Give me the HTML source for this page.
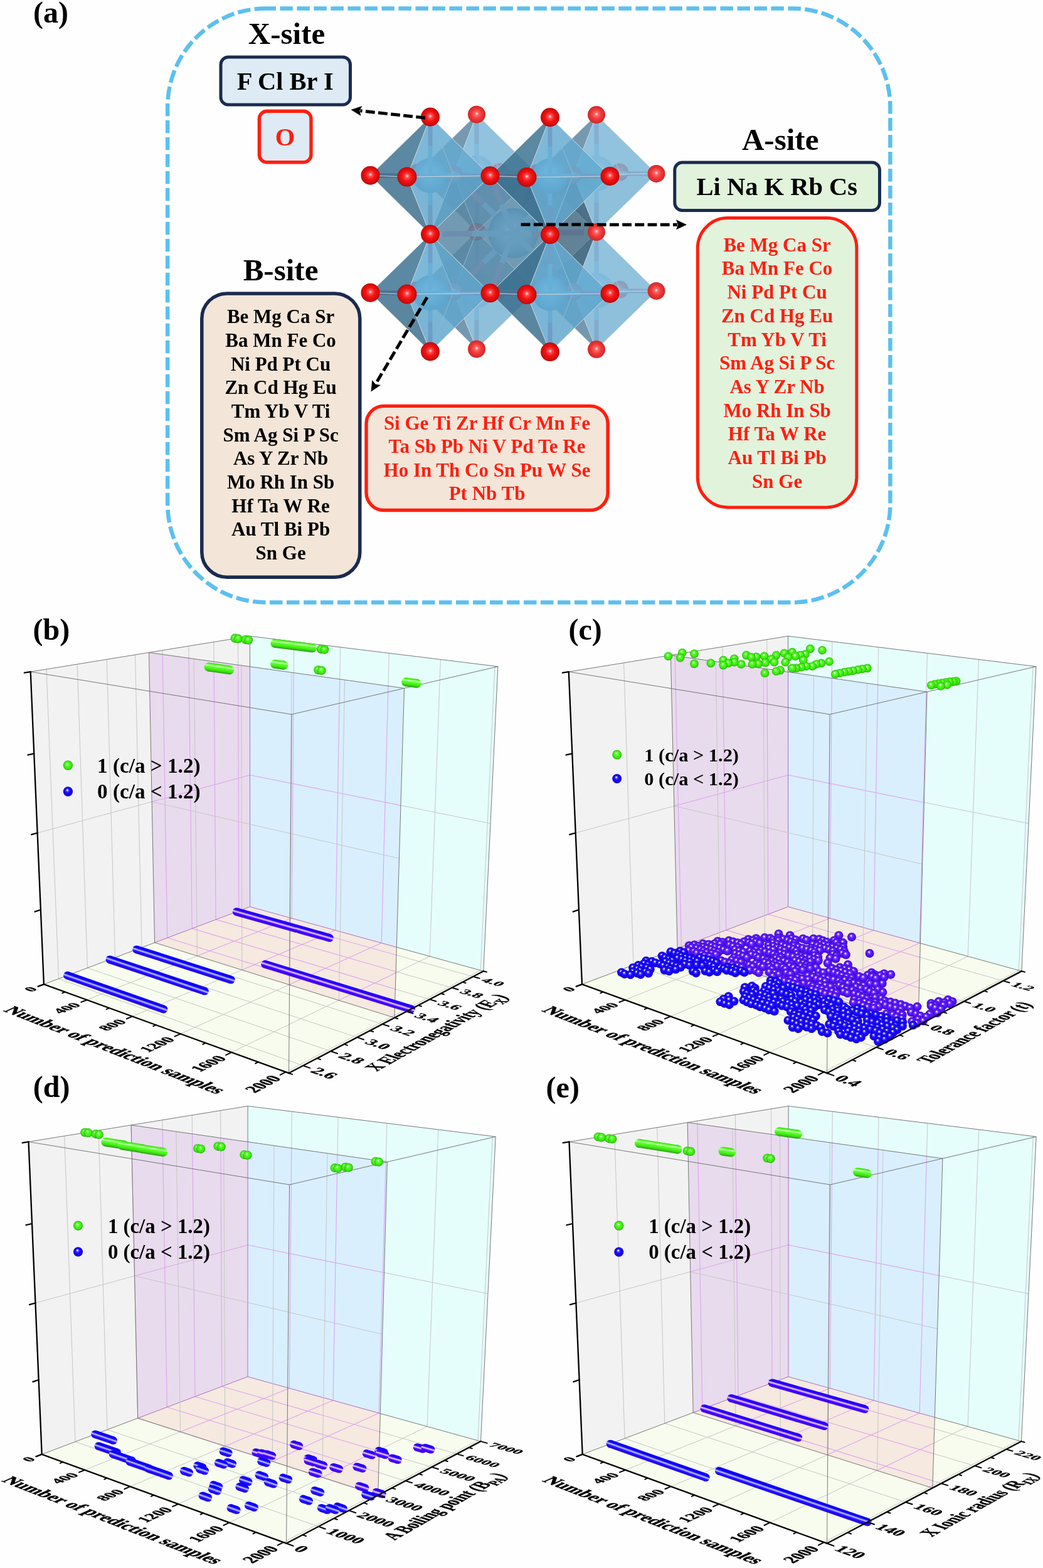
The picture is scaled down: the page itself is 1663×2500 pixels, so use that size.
<!DOCTYPE html>
<html><head><meta charset="utf-8"><title>Figure</title>
<style>html,body{margin:0;padding:0;background:#fefefe;} svg{display:block;}</style></head>
<body><svg width="1663" height="2500" viewBox="0 0 1663 2500">
<defs>
<radialGradient id="gO" cx="0.5" cy="0.5" r="0.55" fx="0.5" fy="0.45">
 <stop offset="0" stop-color="#ffe8e8"/><stop offset="0.18" stop-color="#ff5050"/><stop offset="0.45" stop-color="#f41414"/>
 <stop offset="0.8" stop-color="#d20a0a"/><stop offset="1" stop-color="#9c0606"/></radialGradient>
<radialGradient id="gOb" cx="0.5" cy="0.5" r="0.55" fx="0.5" fy="0.45">
 <stop offset="0" stop-color="#fff0f0"/><stop offset="0.18" stop-color="#ff6a6a"/><stop offset="0.5" stop-color="#f03a3a"/>
 <stop offset="0.85" stop-color="#d82828"/><stop offset="1" stop-color="#b82424"/></radialGradient>
<radialGradient id="gOm" cx="0.5" cy="0.5" r="0.55" fx="0.5" fy="0.45">
 <stop offset="0" stop-color="#f0d8e0"/><stop offset="0.3" stop-color="#b88a9c"/><stop offset="1" stop-color="#9a7080"/></radialGradient>
<radialGradient id="gB" cx="0.5" cy="0.5" r="0.55" fx="0.5" fy="0.45">
 <stop offset="0" stop-color="#88c4e2"/><stop offset="0.6" stop-color="#64a8d0"/><stop offset="1" stop-color="#4d8fb8"/></radialGradient>
<radialGradient id="gBb" cx="0.5" cy="0.5" r="0.55" fx="0.5" fy="0.45">
 <stop offset="0" stop-color="#a8d6ee"/><stop offset="0.6" stop-color="#8cc2e0"/><stop offset="1" stop-color="#78b0d2"/></radialGradient>
<radialGradient id="gA" cx="0.5" cy="0.5" r="0.5" fx="0.45" fy="0.45">
 <stop offset="0" stop-color="#9cc8de"/><stop offset="0.25" stop-color="#74aacb"/><stop offset="0.75" stop-color="#5a94b6"/><stop offset="1" stop-color="#4a82a4"/></radialGradient>

<radialGradient id="gBl" cx="0.5" cy="0.5" r="0.5" fx="0.42" fy="0.32">
 <stop offset="0" stop-color="#ffffff"/><stop offset="0.1" stop-color="#e4e4ff"/><stop offset="0.26" stop-color="#5048ff"/>
 <stop offset="0.5" stop-color="#1608ff"/><stop offset="0.82" stop-color="#1400f0"/><stop offset="1" stop-color="#1e08b4"/></radialGradient>
<radialGradient id="gPu" cx="0.5" cy="0.5" r="0.5" fx="0.42" fy="0.32">
 <stop offset="0" stop-color="#ffffff"/><stop offset="0.1" stop-color="#f0dcff"/><stop offset="0.26" stop-color="#8a50ff"/>
 <stop offset="0.5" stop-color="#5a18ff"/><stop offset="0.82" stop-color="#4a10f0"/><stop offset="1" stop-color="#3a0cb0"/></radialGradient>
<radialGradient id="gGr" cx="0.5" cy="0.5" r="0.5" fx="0.42" fy="0.32">
 <stop offset="0" stop-color="#ffffff"/><stop offset="0.1" stop-color="#e0ffd8"/><stop offset="0.26" stop-color="#70ff48"/>
 <stop offset="0.5" stop-color="#44fa14"/><stop offset="0.82" stop-color="#38e010"/><stop offset="1" stop-color="#28a00a"/></radialGradient>
</defs>
<rect width="1663" height="2500" fill="#fefefe"/>
<text x="53.0" y="35.5" font-size="48" fill="#000" text-anchor="start" style="font-family:'Liberation Serif','Times New Roman',serif;font-weight:bold" >(a)</text>
<rect x="267.2" y="13.4" width="1152.2" height="947.1" rx="157" ry="157" fill="none" stroke="#5bc0f0" stroke-width="6.5" stroke-dasharray="20.5 6.5" stroke-dashoffset="4.8"/>
<text x="457.0" y="69.6" font-size="49" fill="#000" text-anchor="middle" style="font-family:'Liberation Serif','Times New Roman',serif;font-weight:bold" >X-site</text>
<rect x="352.0" y="90.9" width="206.5" height="76.1" rx="12" ry="12" fill="#deebf5" stroke="#1b2b4f" stroke-width="5"/>
<text x="454.7" y="143.1" font-size="40.5" fill="#000" text-anchor="middle" style="font-family:'Liberation Serif','Times New Roman',serif;font-weight:bold" >F Cl Br I</text>
<rect x="413.4" y="177.3" width="82.6" height="81.4" rx="12" ry="12" fill="#deebf5" stroke="#ff1e10" stroke-width="5.4"/>
<text x="454.5" y="231.5" font-size="40.5" fill="#ff1e10" text-anchor="middle" style="font-family:'Liberation Serif','Times New Roman',serif;font-weight:bold" >O</text>
<text x="447.5" y="446.8" font-size="49" fill="#000" text-anchor="middle" style="font-family:'Liberation Serif','Times New Roman',serif;font-weight:bold" >B-site</text>
<rect x="321.8" y="467.9" width="252.0" height="452.3" rx="40" ry="40" fill="#f3e6d8" stroke="#1b2b4f" stroke-width="5.5"/>
<text x="447.6" y="515.4" font-size="31" fill="#000" text-anchor="middle" style="font-family:'Liberation Serif','Times New Roman',serif;font-weight:bold" >Be Mg Ca Sr</text>
<text x="447.6" y="553.1" font-size="31" fill="#000" text-anchor="middle" style="font-family:'Liberation Serif','Times New Roman',serif;font-weight:bold" >Ba Mn Fe Co</text>
<text x="447.6" y="590.7" font-size="31" fill="#000" text-anchor="middle" style="font-family:'Liberation Serif','Times New Roman',serif;font-weight:bold" >Ni Pd Pt Cu</text>
<text x="447.6" y="628.4" font-size="31" fill="#000" text-anchor="middle" style="font-family:'Liberation Serif','Times New Roman',serif;font-weight:bold" >Zn Cd Hg Eu</text>
<text x="447.6" y="666.1" font-size="31" fill="#000" text-anchor="middle" style="font-family:'Liberation Serif','Times New Roman',serif;font-weight:bold" >Tm Yb V Ti</text>
<text x="447.6" y="703.8" font-size="31" fill="#000" text-anchor="middle" style="font-family:'Liberation Serif','Times New Roman',serif;font-weight:bold" >Sm Ag Si P Sc</text>
<text x="447.6" y="741.4" font-size="31" fill="#000" text-anchor="middle" style="font-family:'Liberation Serif','Times New Roman',serif;font-weight:bold" >As Y Zr Nb</text>
<text x="447.6" y="779.1" font-size="31" fill="#000" text-anchor="middle" style="font-family:'Liberation Serif','Times New Roman',serif;font-weight:bold" >Mo Rh In Sb</text>
<text x="447.6" y="816.8" font-size="31" fill="#000" text-anchor="middle" style="font-family:'Liberation Serif','Times New Roman',serif;font-weight:bold" >Hf Ta W Re</text>
<text x="447.6" y="854.4" font-size="31" fill="#000" text-anchor="middle" style="font-family:'Liberation Serif','Times New Roman',serif;font-weight:bold" >Au Tl Bi Pb</text>
<text x="447.6" y="892.1" font-size="31" fill="#000" text-anchor="middle" style="font-family:'Liberation Serif','Times New Roman',serif;font-weight:bold" >Sn Ge</text>
<rect x="584.0" y="647.4" width="385.1" height="166.1" rx="28" ry="28" fill="#f3e6d8" stroke="#ff1e10" stroke-width="5.4"/>
<text x="776.5" y="684.9" font-size="31" fill="#ff1e10" text-anchor="middle" style="font-family:'Liberation Serif','Times New Roman',serif;font-weight:bold" >Si Ge Ti Zr Hf Cr Mn Fe</text>
<text x="776.5" y="722.4" font-size="31" fill="#ff1e10" text-anchor="middle" style="font-family:'Liberation Serif','Times New Roman',serif;font-weight:bold" >Ta Sb Pb Ni V Pd Te Re</text>
<text x="776.5" y="759.9" font-size="31" fill="#ff1e10" text-anchor="middle" style="font-family:'Liberation Serif','Times New Roman',serif;font-weight:bold" >Ho In Th Co Sn Pu W Se</text>
<text x="776.5" y="797.4" font-size="31" fill="#ff1e10" text-anchor="middle" style="font-family:'Liberation Serif','Times New Roman',serif;font-weight:bold" >Pt Nb Tb</text>
<text x="1244.2" y="239.4" font-size="49" fill="#000" text-anchor="middle" style="font-family:'Liberation Serif','Times New Roman',serif;font-weight:bold" >A-site</text>
<rect x="1075.8" y="259.1" width="326.7" height="76.4" rx="12" ry="12" fill="#e2f3dc" stroke="#1b2b4f" stroke-width="5"/>
<text x="1238.8" y="311.2" font-size="40.5" fill="#000" text-anchor="middle" style="font-family:'Liberation Serif','Times New Roman',serif;font-weight:bold" >Li Na K Rb Cs</text>
<rect x="1112.3" y="347.6" width="253.6" height="461.3" rx="48" ry="48" fill="#e2f3dc" stroke="#ff1e10" stroke-width="5"/>
<text x="1239.1" y="400.7" font-size="31" fill="#ff1e10" text-anchor="middle" style="font-family:'Liberation Serif','Times New Roman',serif;font-weight:bold" >Be Mg Ca Sr</text>
<text x="1239.1" y="438.4" font-size="31" fill="#ff1e10" text-anchor="middle" style="font-family:'Liberation Serif','Times New Roman',serif;font-weight:bold" >Ba Mn Fe Co</text>
<text x="1239.1" y="476.1" font-size="31" fill="#ff1e10" text-anchor="middle" style="font-family:'Liberation Serif','Times New Roman',serif;font-weight:bold" >Ni Pd Pt Cu</text>
<text x="1239.1" y="513.8" font-size="31" fill="#ff1e10" text-anchor="middle" style="font-family:'Liberation Serif','Times New Roman',serif;font-weight:bold" >Zn Cd Hg Eu</text>
<text x="1239.1" y="551.5" font-size="31" fill="#ff1e10" text-anchor="middle" style="font-family:'Liberation Serif','Times New Roman',serif;font-weight:bold" >Tm Yb V Ti</text>
<text x="1239.1" y="589.2" font-size="31" fill="#ff1e10" text-anchor="middle" style="font-family:'Liberation Serif','Times New Roman',serif;font-weight:bold" >Sm Ag Si P Sc</text>
<text x="1239.1" y="626.9" font-size="31" fill="#ff1e10" text-anchor="middle" style="font-family:'Liberation Serif','Times New Roman',serif;font-weight:bold" >As Y Zr Nb</text>
<text x="1239.1" y="664.6" font-size="31" fill="#ff1e10" text-anchor="middle" style="font-family:'Liberation Serif','Times New Roman',serif;font-weight:bold" >Mo Rh In Sb</text>
<text x="1239.1" y="702.3" font-size="31" fill="#ff1e10" text-anchor="middle" style="font-family:'Liberation Serif','Times New Roman',serif;font-weight:bold" >Hf Ta W Re</text>
<text x="1239.1" y="740.0" font-size="31" fill="#ff1e10" text-anchor="middle" style="font-family:'Liberation Serif','Times New Roman',serif;font-weight:bold" >Au Tl Bi Pb</text>
<text x="1239.1" y="777.7" font-size="31" fill="#ff1e10" text-anchor="middle" style="font-family:'Liberation Serif','Times New Roman',serif;font-weight:bold" >Sn Ge</text>
<circle cx="797.0" cy="461.0" r="14" fill="url(#gOb)"/>
<circle cx="797.0" cy="274.0" r="14" fill="url(#gOb)"/>
<polygon points="664.5,462.7 760.0,556.5 797.0,461.0" fill="#6a99b5" fill-opacity="0.45" stroke="#d6dadc" stroke-width="0.9" stroke-opacity="0.8" stroke-linejoin="round"/>
<polygon points="664.5,462.7 760.0,369.5 797.0,461.0" fill="#6a99b5" fill-opacity="0.45" stroke="#d6dadc" stroke-width="0.9" stroke-opacity="0.8" stroke-linejoin="round"/>
<polygon points="664.5,275.7 760.0,369.5 797.0,274.0" fill="#6a99b5" fill-opacity="0.45" stroke="#d6dadc" stroke-width="0.9" stroke-opacity="0.8" stroke-linejoin="round"/>
<polygon points="664.5,275.7 760.0,182.5 797.0,274.0" fill="#6a99b5" fill-opacity="0.45" stroke="#d6dadc" stroke-width="0.9" stroke-opacity="0.8" stroke-linejoin="round"/>
<circle cx="988.0" cy="461.6" r="14" fill="url(#gOb)"/>
<line x1="760.0" y1="463.0" x2="778.5" y2="462.0" stroke="#7fb8da" stroke-width="7"/><line x1="778.5" y1="462.0" x2="791.5" y2="461.3" stroke="#958eae" stroke-width="7"/>
<circle cx="988.0" cy="274.6" r="14" fill="url(#gOb)"/>
<line x1="760.0" y1="276.0" x2="778.5" y2="275.0" stroke="#7fb8da" stroke-width="7"/><line x1="778.5" y1="275.0" x2="791.5" y2="274.3" stroke="#958eae" stroke-width="7"/>
<polygon points="855.5,463.3 760.0,556.5 797.0,461.0" fill="#6a99b5" fill-opacity="0.45" stroke="#d6dadc" stroke-width="0.9" stroke-opacity="0.8" stroke-linejoin="round"/>
<polygon points="855.5,463.3 760.0,369.5 797.0,461.0" fill="#6a99b5" fill-opacity="0.45" stroke="#d6dadc" stroke-width="0.9" stroke-opacity="0.8" stroke-linejoin="round"/>
<polygon points="855.5,276.3 760.0,369.5 797.0,274.0" fill="#6a99b5" fill-opacity="0.45" stroke="#d6dadc" stroke-width="0.9" stroke-opacity="0.8" stroke-linejoin="round"/>
<line x1="760.0" y1="463.0" x2="712.2" y2="462.9" stroke="#7fb8da" stroke-width="7"/><line x1="712.2" y1="462.9" x2="678.8" y2="462.7" stroke="#958eae" stroke-width="7"/>
<polygon points="855.5,276.3 760.0,182.5 797.0,274.0" fill="#6a99b5" fill-opacity="0.45" stroke="#d6dadc" stroke-width="0.9" stroke-opacity="0.8" stroke-linejoin="round"/>
<line x1="760.0" y1="276.0" x2="712.2" y2="275.9" stroke="#7fb8da" stroke-width="7"/><line x1="712.2" y1="275.9" x2="678.8" y2="275.7" stroke="#958eae" stroke-width="7"/>
<line x1="760.0" y1="463.0" x2="760.0" y2="509.8" stroke="#7fb8da" stroke-width="7"/><line x1="760.0" y1="509.8" x2="760.0" y2="542.5" stroke="#958eae" stroke-width="7"/>
<circle cx="760.0" cy="463.0" r="28" fill="url(#gBb)"/>
<line x1="760.0" y1="463.0" x2="760.0" y2="416.2" stroke="#7fb8da" stroke-width="7"/><line x1="760.0" y1="416.2" x2="760.0" y2="383.5" stroke="#958eae" stroke-width="7"/>
<polygon points="855.5,463.3 951.0,557.1 988.0,461.6" fill="#6a99b5" fill-opacity="0.45" stroke="#d6dadc" stroke-width="0.9" stroke-opacity="0.8" stroke-linejoin="round"/>
<line x1="760.0" y1="276.0" x2="760.0" y2="322.8" stroke="#7fb8da" stroke-width="7"/><line x1="760.0" y1="322.8" x2="760.0" y2="355.5" stroke="#958eae" stroke-width="7"/>
<circle cx="760.0" cy="276.0" r="28" fill="url(#gBb)"/>
<polygon points="855.5,463.3 951.0,370.1 988.0,461.6" fill="#6a99b5" fill-opacity="0.45" stroke="#d6dadc" stroke-width="0.9" stroke-opacity="0.8" stroke-linejoin="round"/>
<line x1="760.0" y1="276.0" x2="760.0" y2="229.2" stroke="#7fb8da" stroke-width="7"/><line x1="760.0" y1="229.2" x2="760.0" y2="196.5" stroke="#958eae" stroke-width="7"/>
<polygon points="855.5,276.3 951.0,370.1 988.0,274.6" fill="#6a99b5" fill-opacity="0.45" stroke="#d6dadc" stroke-width="0.9" stroke-opacity="0.8" stroke-linejoin="round"/>
<line x1="760.0" y1="463.0" x2="807.8" y2="463.1" stroke="#7fb8da" stroke-width="7"/><line x1="807.8" y1="463.1" x2="841.2" y2="463.3" stroke="#958eae" stroke-width="7"/>
<polygon points="855.5,276.3 951.0,183.1 988.0,274.6" fill="#6a99b5" fill-opacity="0.45" stroke="#d6dadc" stroke-width="0.9" stroke-opacity="0.8" stroke-linejoin="round"/>
<line x1="951.0" y1="463.6" x2="969.5" y2="462.6" stroke="#7fb8da" stroke-width="7"/><line x1="969.5" y1="462.6" x2="982.5" y2="461.9" stroke="#958eae" stroke-width="7"/>
<polygon points="664.5,462.7 760.0,556.5 723.0,465.0" fill="#54809b" fill-opacity="0.7" stroke="#d6dadc" stroke-width="0.9" stroke-opacity="0.8" stroke-linejoin="round"/>
<line x1="760.0" y1="276.0" x2="807.8" y2="276.1" stroke="#7fb8da" stroke-width="7"/><line x1="807.8" y1="276.1" x2="841.2" y2="276.3" stroke="#958eae" stroke-width="7"/>
<polygon points="664.5,462.7 760.0,369.5 723.0,465.0" fill="#56829d" fill-opacity="0.7" stroke="#d6dadc" stroke-width="0.9" stroke-opacity="0.8" stroke-linejoin="round"/>
<line x1="951.0" y1="276.6" x2="969.5" y2="275.6" stroke="#7fb8da" stroke-width="7"/><line x1="969.5" y1="275.6" x2="982.5" y2="274.9" stroke="#958eae" stroke-width="7"/>
<polygon points="664.5,275.7 760.0,369.5 723.0,278.0" fill="#54809b" fill-opacity="0.7" stroke="#d6dadc" stroke-width="0.9" stroke-opacity="0.8" stroke-linejoin="round"/>
<polygon points="664.5,275.7 760.0,182.5 723.0,278.0" fill="#56829d" fill-opacity="0.7" stroke="#d6dadc" stroke-width="0.9" stroke-opacity="0.8" stroke-linejoin="round"/>
<polygon points="1046.5,463.9 951.0,557.1 988.0,461.6" fill="#6a99b5" fill-opacity="0.45" stroke="#d6dadc" stroke-width="0.9" stroke-opacity="0.8" stroke-linejoin="round"/>
<line x1="760.0" y1="463.0" x2="741.5" y2="464.0" stroke="#7fb8da" stroke-width="7"/><line x1="741.5" y1="464.0" x2="728.5" y2="464.7" stroke="#958eae" stroke-width="7"/>
<polygon points="1046.5,463.9 951.0,370.1 988.0,461.6" fill="#6a99b5" fill-opacity="0.45" stroke="#d6dadc" stroke-width="0.9" stroke-opacity="0.8" stroke-linejoin="round"/>
<polygon points="1046.5,276.9 951.0,370.1 988.0,274.6" fill="#6a99b5" fill-opacity="0.45" stroke="#d6dadc" stroke-width="0.9" stroke-opacity="0.8" stroke-linejoin="round"/>
<line x1="951.0" y1="463.6" x2="903.2" y2="463.4" stroke="#7fb8da" stroke-width="7"/><line x1="903.2" y1="463.4" x2="869.8" y2="463.3" stroke="#958eae" stroke-width="7"/>
<line x1="760.0" y1="276.0" x2="741.5" y2="277.0" stroke="#7fb8da" stroke-width="7"/><line x1="741.5" y1="277.0" x2="728.5" y2="277.7" stroke="#958eae" stroke-width="7"/>
<polygon points="1046.5,276.9 951.0,183.1 988.0,274.6" fill="#6a99b5" fill-opacity="0.45" stroke="#d6dadc" stroke-width="0.9" stroke-opacity="0.8" stroke-linejoin="round"/>
<polygon points="855.5,463.3 760.0,556.5 723.0,465.0" fill="#7bb8da" fill-opacity="0.7" stroke="#d6dadc" stroke-width="0.9" stroke-opacity="0.8" stroke-linejoin="round"/>
<line x1="951.0" y1="276.6" x2="903.2" y2="276.4" stroke="#7fb8da" stroke-width="7"/><line x1="903.2" y1="276.4" x2="869.8" y2="276.3" stroke="#958eae" stroke-width="7"/>
<polygon points="855.5,463.3 760.0,369.5 723.0,465.0" fill="#7fbcde" fill-opacity="0.7" stroke="#d6dadc" stroke-width="0.9" stroke-opacity="0.8" stroke-linejoin="round"/>
<line x1="951.0" y1="463.6" x2="951.0" y2="510.4" stroke="#7fb8da" stroke-width="7"/><line x1="951.0" y1="510.4" x2="951.0" y2="543.1" stroke="#958eae" stroke-width="7"/>
<circle cx="951.0" cy="463.6" r="28" fill="url(#gBb)"/>
<polygon points="855.5,276.3 760.0,369.5 723.0,278.0" fill="#7bb8da" fill-opacity="0.7" stroke="#d6dadc" stroke-width="0.9" stroke-opacity="0.8" stroke-linejoin="round"/>
<line x1="951.0" y1="463.6" x2="951.0" y2="416.9" stroke="#7fb8da" stroke-width="7"/><line x1="951.0" y1="416.9" x2="951.0" y2="384.1" stroke="#958eae" stroke-width="7"/>
<polygon points="855.5,276.3 760.0,182.5 723.0,278.0" fill="#7fbcde" fill-opacity="0.7" stroke="#d6dadc" stroke-width="0.9" stroke-opacity="0.8" stroke-linejoin="round"/>
<line x1="951.0" y1="276.6" x2="951.0" y2="323.4" stroke="#7fb8da" stroke-width="7"/><line x1="951.0" y1="323.4" x2="951.0" y2="356.1" stroke="#958eae" stroke-width="7"/>
<circle cx="951.0" cy="276.6" r="28" fill="url(#gBb)"/>
<line x1="951.0" y1="276.6" x2="951.0" y2="229.9" stroke="#7fb8da" stroke-width="7"/><line x1="951.0" y1="229.9" x2="951.0" y2="197.1" stroke="#958eae" stroke-width="7"/>
<line x1="951.0" y1="463.6" x2="998.8" y2="463.8" stroke="#7fb8da" stroke-width="7"/><line x1="998.8" y1="463.8" x2="1032.2" y2="463.9" stroke="#958eae" stroke-width="7"/>
<polygon points="855.5,463.3 951.0,557.1 914.0,465.6" fill="#54809b" fill-opacity="0.7" stroke="#d6dadc" stroke-width="0.9" stroke-opacity="0.8" stroke-linejoin="round"/>
<line x1="951.0" y1="276.6" x2="998.8" y2="276.8" stroke="#7fb8da" stroke-width="7"/><line x1="998.8" y1="276.8" x2="1032.2" y2="276.9" stroke="#958eae" stroke-width="7"/>
<polygon points="855.5,463.3 951.0,370.1 914.0,465.6" fill="#56829d" fill-opacity="0.7" stroke="#d6dadc" stroke-width="0.9" stroke-opacity="0.8" stroke-linejoin="round"/>
<polygon points="855.5,276.3 951.0,370.1 914.0,278.6" fill="#54809b" fill-opacity="0.7" stroke="#d6dadc" stroke-width="0.9" stroke-opacity="0.8" stroke-linejoin="round"/>
<polygon points="855.5,276.3 951.0,183.1 914.0,278.6" fill="#56829d" fill-opacity="0.7" stroke="#d6dadc" stroke-width="0.9" stroke-opacity="0.8" stroke-linejoin="round"/>
<line x1="951.0" y1="463.6" x2="932.5" y2="464.6" stroke="#7fb8da" stroke-width="7"/><line x1="932.5" y1="464.6" x2="919.5" y2="465.3" stroke="#958eae" stroke-width="7"/>
<line x1="951.0" y1="276.6" x2="932.5" y2="277.6" stroke="#7fb8da" stroke-width="7"/><line x1="932.5" y1="277.6" x2="919.5" y2="278.3" stroke="#958eae" stroke-width="7"/>
<polygon points="1046.5,463.9 951.0,557.1 914.0,465.6" fill="#7bb8da" fill-opacity="0.7" stroke="#d6dadc" stroke-width="0.9" stroke-opacity="0.8" stroke-linejoin="round"/>
<polygon points="1046.5,463.9 951.0,370.1 914.0,465.6" fill="#7fbcde" fill-opacity="0.7" stroke="#d6dadc" stroke-width="0.9" stroke-opacity="0.8" stroke-linejoin="round"/>
<polygon points="1046.5,276.9 951.0,370.1 914.0,278.6" fill="#7bb8da" fill-opacity="0.7" stroke="#d6dadc" stroke-width="0.9" stroke-opacity="0.8" stroke-linejoin="round"/>
<polygon points="1046.5,276.9 951.0,183.1 914.0,278.6" fill="#7fbcde" fill-opacity="0.7" stroke="#d6dadc" stroke-width="0.9" stroke-opacity="0.8" stroke-linejoin="round"/>
<circle cx="664.5" cy="462.7" r="14" fill="url(#gOb)"/>
<circle cx="664.5" cy="275.7" r="14" fill="url(#gOb)"/>
<circle cx="760.0" cy="556.5" r="14" fill="url(#gOb)"/>
<circle cx="760.0" cy="369.5" r="14" fill="url(#gOb)"/>
<circle cx="760.0" cy="182.5" r="14" fill="url(#gOb)"/>
<circle cx="855.5" cy="463.3" r="14" fill="url(#gOb)"/>
<circle cx="855.5" cy="276.3" r="14" fill="url(#gOb)"/>
<polygon points="951.0,370.1 855.5,276.3 760.0,369.5 855.5,463.3" fill="#39586a" fill-opacity="0.6" stroke="#d6dadc" stroke-width="0.9" stroke-opacity="0.8" stroke-linejoin="round"/>
<polygon points="723.0,465.0 760.0,369.5 855.5,463.3" fill="#39586a" fill-opacity="0.6" stroke="#d6dadc" stroke-width="0.9" stroke-opacity="0.8" stroke-linejoin="round"/>
<polygon points="723.0,278.0 760.0,369.5 855.5,276.3" fill="#39586a" fill-opacity="0.6" stroke="#d6dadc" stroke-width="0.9" stroke-opacity="0.8" stroke-linejoin="round"/>
<line x1="818.5" y1="371.8" x2="789.2" y2="370.6" stroke="#6aa0c0" stroke-width="9"/><line x1="789.2" y1="370.6" x2="768.8" y2="369.8" stroke="#7a7a98" stroke-width="9"/>
<circle cx="951.0" cy="557.1" r="14" fill="url(#gOb)"/>
<line x1="818.5" y1="371.8" x2="837.0" y2="417.6" stroke="#6aa0c0" stroke-width="9"/><line x1="837.0" y1="417.6" x2="850.0" y2="449.6" stroke="#7a7a98" stroke-width="9"/>
<line x1="818.5" y1="371.8" x2="837.0" y2="324.1" stroke="#6aa0c0" stroke-width="9"/><line x1="837.0" y1="324.1" x2="850.0" y2="290.6" stroke="#7a7a98" stroke-width="9"/>
<circle cx="951.0" cy="183.1" r="14" fill="url(#gOb)"/>
<polygon points="914.0,465.6 951.0,370.1 855.5,463.3" fill="#39586a" fill-opacity="0.6" stroke="#d6dadc" stroke-width="0.9" stroke-opacity="0.8" stroke-linejoin="round"/>
<line x1="818.5" y1="371.8" x2="884.8" y2="370.9" stroke="#6aa0c0" stroke-width="9"/><line x1="884.8" y1="370.9" x2="931.1" y2="370.4" stroke="#7a7a98" stroke-width="9"/>
<polygon points="723.0,278.0 760.0,369.5 723.0,465.0 686.0,373.5" fill="#39586a" fill-opacity="0.6" stroke="#d6dadc" stroke-width="0.9" stroke-opacity="0.8" stroke-linejoin="round"/>
<polygon points="914.0,278.6 951.0,370.1 855.5,276.3" fill="#39586a" fill-opacity="0.6" stroke="#d6dadc" stroke-width="0.9" stroke-opacity="0.8" stroke-linejoin="round"/>
<circle cx="1046.5" cy="463.9" r="14" fill="url(#gOb)"/>
<line x1="818.5" y1="371.8" x2="770.8" y2="418.4" stroke="#6aa0c0" stroke-width="9"/><line x1="770.8" y1="418.4" x2="737.3" y2="451.0" stroke="#7a7a98" stroke-width="9"/>
<line x1="818.5" y1="371.8" x2="770.8" y2="324.9" stroke="#6aa0c0" stroke-width="9"/><line x1="770.8" y1="324.9" x2="737.3" y2="292.1" stroke="#7a7a98" stroke-width="9"/>
<circle cx="1046.5" cy="276.9" r="14" fill="url(#gOb)"/>
<polygon points="914.0,465.6 855.5,463.3 723.0,465.0 781.5,467.3" fill="#39586a" fill-opacity="0.6" stroke="#d6dadc" stroke-width="0.9" stroke-opacity="0.8" stroke-linejoin="round"/>
<circle cx="818.5" cy="371.8" r="40" fill="url(#gA)"/>
<polygon points="914.0,278.6 855.5,276.3 723.0,278.0 781.5,280.3" fill="#3c5d71" fill-opacity="0.6" stroke="#d6dadc" stroke-width="0.9" stroke-opacity="0.8" stroke-linejoin="round"/>
<line x1="818.5" y1="371.8" x2="866.2" y2="418.7" stroke="#6aa0c0" stroke-width="9"/><line x1="866.2" y1="418.7" x2="899.7" y2="451.5" stroke="#7a7a98" stroke-width="9"/>
<line x1="818.5" y1="371.8" x2="866.2" y2="325.2" stroke="#6aa0c0" stroke-width="9"/><line x1="866.2" y1="325.2" x2="899.7" y2="292.6" stroke="#7a7a98" stroke-width="9"/>
<line x1="818.5" y1="371.8" x2="752.2" y2="372.6" stroke="#6aa0c0" stroke-width="9"/><line x1="752.2" y1="372.6" x2="705.9" y2="373.2" stroke="#7a7a98" stroke-width="9"/>
<polygon points="723.0,465.0 686.0,373.5 781.5,467.3" fill="#466c83" fill-opacity="0.6" stroke="#d6dadc" stroke-width="0.9" stroke-opacity="0.8" stroke-linejoin="round"/>
<polygon points="914.0,278.6 951.0,370.1 914.0,465.6 877.0,374.1" fill="#4a728a" fill-opacity="0.6" stroke="#d6dadc" stroke-width="0.9" stroke-opacity="0.8" stroke-linejoin="round"/>
<polygon points="723.0,278.0 686.0,373.5 781.5,280.3" fill="#4a738b" fill-opacity="0.6" stroke="#d6dadc" stroke-width="0.9" stroke-opacity="0.8" stroke-linejoin="round"/>
<line x1="818.5" y1="371.8" x2="800.0" y2="419.6" stroke="#6aa0c0" stroke-width="9"/><line x1="800.0" y1="419.6" x2="787.0" y2="453.0" stroke="#7a7a98" stroke-width="9"/>
<line x1="818.5" y1="371.8" x2="800.0" y2="326.1" stroke="#6aa0c0" stroke-width="9"/><line x1="800.0" y1="326.1" x2="787.0" y2="294.0" stroke="#7a7a98" stroke-width="9"/>
<line x1="818.5" y1="371.8" x2="847.8" y2="372.9" stroke="#6aa0c0" stroke-width="9"/><line x1="847.8" y1="372.9" x2="868.2" y2="373.8" stroke="#7a7a98" stroke-width="9"/>
<polygon points="914.0,465.6 877.0,374.1 781.5,467.3" fill="#598aa7" fill-opacity="0.6" stroke="#d6dadc" stroke-width="0.9" stroke-opacity="0.8" stroke-linejoin="round"/>
<polygon points="914.0,278.6 877.0,374.1 781.5,280.3" fill="#5e91af" fill-opacity="0.6" stroke="#d6dadc" stroke-width="0.9" stroke-opacity="0.8" stroke-linejoin="round"/>
<polygon points="877.0,374.1 781.5,280.3 686.0,373.5 781.5,467.3" fill="#649bbc" fill-opacity="0.6" stroke="#d6dadc" stroke-width="0.9" stroke-opacity="0.8" stroke-linejoin="round"/>
<circle cx="951.0" cy="370.1" r="14" fill="url(#gOb)"/>
<circle cx="723.0" cy="465.0" r="14" fill="url(#gOm)"/>
<circle cx="723.0" cy="278.0" r="14" fill="url(#gOm)"/>
<circle cx="914.0" cy="465.6" r="14" fill="url(#gOm)"/>
<circle cx="914.0" cy="278.6" r="14" fill="url(#gOm)"/>
<polygon points="590.5,466.7 686.0,560.5 723.0,465.0" fill="#5087a8" fill-opacity="0.45" stroke="#d6dadc" stroke-width="0.9" stroke-opacity="0.8" stroke-linejoin="round"/>
<polygon points="590.5,466.7 686.0,373.5 723.0,465.0" fill="#5087a8" fill-opacity="0.45" stroke="#d6dadc" stroke-width="0.9" stroke-opacity="0.8" stroke-linejoin="round"/>
<polygon points="590.5,279.7 686.0,373.5 723.0,278.0" fill="#5087a8" fill-opacity="0.45" stroke="#d6dadc" stroke-width="0.9" stroke-opacity="0.8" stroke-linejoin="round"/>
<polygon points="590.5,279.7 686.0,186.5 723.0,278.0" fill="#5087a8" fill-opacity="0.45" stroke="#d6dadc" stroke-width="0.9" stroke-opacity="0.8" stroke-linejoin="round"/>
<line x1="686.0" y1="467.0" x2="704.5" y2="466.0" stroke="#68acd4" stroke-width="7"/><line x1="704.5" y1="466.0" x2="717.5" y2="465.3" stroke="#827aa0" stroke-width="7"/>
<line x1="686.0" y1="280.0" x2="704.5" y2="279.0" stroke="#68acd4" stroke-width="7"/><line x1="704.5" y1="279.0" x2="717.5" y2="278.3" stroke="#827aa0" stroke-width="7"/>
<polygon points="781.5,467.3 686.0,560.5 723.0,465.0" fill="#5087a8" fill-opacity="0.45" stroke="#d6dadc" stroke-width="0.9" stroke-opacity="0.8" stroke-linejoin="round"/>
<polygon points="781.5,467.3 686.0,373.5 723.0,465.0" fill="#5087a8" fill-opacity="0.45" stroke="#d6dadc" stroke-width="0.9" stroke-opacity="0.8" stroke-linejoin="round"/>
<polygon points="781.5,280.3 686.0,373.5 723.0,278.0" fill="#5087a8" fill-opacity="0.45" stroke="#d6dadc" stroke-width="0.9" stroke-opacity="0.8" stroke-linejoin="round"/>
<line x1="686.0" y1="467.0" x2="638.2" y2="466.9" stroke="#68acd4" stroke-width="7"/><line x1="638.2" y1="466.9" x2="604.8" y2="466.7" stroke="#827aa0" stroke-width="7"/>
<polygon points="781.5,280.3 686.0,186.5 723.0,278.0" fill="#5087a8" fill-opacity="0.45" stroke="#d6dadc" stroke-width="0.9" stroke-opacity="0.8" stroke-linejoin="round"/>
<line x1="686.0" y1="280.0" x2="638.2" y2="279.9" stroke="#68acd4" stroke-width="7"/><line x1="638.2" y1="279.9" x2="604.8" y2="279.7" stroke="#827aa0" stroke-width="7"/>
<line x1="686.0" y1="467.0" x2="686.0" y2="513.8" stroke="#68acd4" stroke-width="7"/><line x1="686.0" y1="513.8" x2="686.0" y2="546.5" stroke="#827aa0" stroke-width="7"/>
<circle cx="686.0" cy="467.0" r="28" fill="url(#gB)"/>
<line x1="686.0" y1="467.0" x2="686.0" y2="420.2" stroke="#68acd4" stroke-width="7"/><line x1="686.0" y1="420.2" x2="686.0" y2="387.5" stroke="#827aa0" stroke-width="7"/>
<polygon points="781.5,467.3 877.0,561.1 914.0,465.6" fill="#5087a8" fill-opacity="0.45" stroke="#d6dadc" stroke-width="0.9" stroke-opacity="0.8" stroke-linejoin="round"/>
<line x1="686.0" y1="280.0" x2="686.0" y2="326.8" stroke="#68acd4" stroke-width="7"/><line x1="686.0" y1="326.8" x2="686.0" y2="359.5" stroke="#827aa0" stroke-width="7"/>
<circle cx="686.0" cy="280.0" r="28" fill="url(#gB)"/>
<polygon points="781.5,467.3 877.0,374.1 914.0,465.6" fill="#5087a8" fill-opacity="0.45" stroke="#d6dadc" stroke-width="0.9" stroke-opacity="0.8" stroke-linejoin="round"/>
<line x1="686.0" y1="280.0" x2="686.0" y2="233.2" stroke="#68acd4" stroke-width="7"/><line x1="686.0" y1="233.2" x2="686.0" y2="200.5" stroke="#827aa0" stroke-width="7"/>
<polygon points="781.5,280.3 877.0,374.1 914.0,278.6" fill="#5087a8" fill-opacity="0.45" stroke="#d6dadc" stroke-width="0.9" stroke-opacity="0.8" stroke-linejoin="round"/>
<line x1="686.0" y1="467.0" x2="733.8" y2="467.1" stroke="#68acd4" stroke-width="7"/><line x1="733.8" y1="467.1" x2="767.2" y2="467.3" stroke="#827aa0" stroke-width="7"/>
<polygon points="781.5,280.3 877.0,187.1 914.0,278.6" fill="#5087a8" fill-opacity="0.45" stroke="#d6dadc" stroke-width="0.9" stroke-opacity="0.8" stroke-linejoin="round"/>
<line x1="877.0" y1="467.6" x2="895.5" y2="466.6" stroke="#68acd4" stroke-width="7"/><line x1="895.5" y1="466.6" x2="908.5" y2="465.9" stroke="#827aa0" stroke-width="7"/>
<polygon points="590.5,466.7 686.0,560.5 649.0,469.0" fill="#366989" fill-opacity="0.7" stroke="#d6dadc" stroke-width="0.9" stroke-opacity="0.8" stroke-linejoin="round"/>
<line x1="686.0" y1="280.0" x2="733.8" y2="280.1" stroke="#68acd4" stroke-width="7"/><line x1="733.8" y1="280.1" x2="767.2" y2="280.3" stroke="#827aa0" stroke-width="7"/>
<polygon points="590.5,466.7 686.0,373.5 649.0,469.0" fill="#386c8c" fill-opacity="0.7" stroke="#d6dadc" stroke-width="0.9" stroke-opacity="0.8" stroke-linejoin="round"/>
<line x1="877.0" y1="280.6" x2="895.5" y2="279.6" stroke="#68acd4" stroke-width="7"/><line x1="895.5" y1="279.6" x2="908.5" y2="278.9" stroke="#827aa0" stroke-width="7"/>
<polygon points="590.5,279.7 686.0,373.5 649.0,282.0" fill="#366989" fill-opacity="0.7" stroke="#d6dadc" stroke-width="0.9" stroke-opacity="0.8" stroke-linejoin="round"/>
<polygon points="590.5,279.7 686.0,186.5 649.0,282.0" fill="#386c8c" fill-opacity="0.7" stroke="#d6dadc" stroke-width="0.9" stroke-opacity="0.8" stroke-linejoin="round"/>
<polygon points="972.5,467.9 877.0,561.1 914.0,465.6" fill="#5087a8" fill-opacity="0.45" stroke="#d6dadc" stroke-width="0.9" stroke-opacity="0.8" stroke-linejoin="round"/>
<line x1="686.0" y1="467.0" x2="667.5" y2="468.0" stroke="#68acd4" stroke-width="7"/><line x1="667.5" y1="468.0" x2="654.5" y2="468.7" stroke="#827aa0" stroke-width="7"/>
<polygon points="972.5,467.9 877.0,374.1 914.0,465.6" fill="#5087a8" fill-opacity="0.45" stroke="#d6dadc" stroke-width="0.9" stroke-opacity="0.8" stroke-linejoin="round"/>
<polygon points="972.5,280.9 877.0,374.1 914.0,278.6" fill="#5087a8" fill-opacity="0.45" stroke="#d6dadc" stroke-width="0.9" stroke-opacity="0.8" stroke-linejoin="round"/>
<line x1="877.0" y1="467.6" x2="829.2" y2="467.4" stroke="#68acd4" stroke-width="7"/><line x1="829.2" y1="467.4" x2="795.8" y2="467.3" stroke="#827aa0" stroke-width="7"/>
<line x1="686.0" y1="280.0" x2="667.5" y2="281.0" stroke="#68acd4" stroke-width="7"/><line x1="667.5" y1="281.0" x2="654.5" y2="281.7" stroke="#827aa0" stroke-width="7"/>
<polygon points="972.5,280.9 877.0,187.1 914.0,278.6" fill="#5087a8" fill-opacity="0.45" stroke="#d6dadc" stroke-width="0.9" stroke-opacity="0.8" stroke-linejoin="round"/>
<polygon points="781.5,467.3 686.0,560.5 649.0,469.0" fill="#64acd4" fill-opacity="0.7" stroke="#d6dadc" stroke-width="0.9" stroke-opacity="0.8" stroke-linejoin="round"/>
<line x1="877.0" y1="280.6" x2="829.2" y2="280.4" stroke="#68acd4" stroke-width="7"/><line x1="829.2" y1="280.4" x2="795.8" y2="280.3" stroke="#827aa0" stroke-width="7"/>
<polygon points="781.5,467.3 686.0,373.5 649.0,469.0" fill="#68b0d8" fill-opacity="0.7" stroke="#d6dadc" stroke-width="0.9" stroke-opacity="0.8" stroke-linejoin="round"/>
<line x1="877.0" y1="467.6" x2="877.0" y2="514.4" stroke="#68acd4" stroke-width="7"/><line x1="877.0" y1="514.4" x2="877.0" y2="547.1" stroke="#827aa0" stroke-width="7"/>
<circle cx="877.0" cy="467.6" r="28" fill="url(#gB)"/>
<polygon points="781.5,280.3 686.0,373.5 649.0,282.0" fill="#64acd4" fill-opacity="0.7" stroke="#d6dadc" stroke-width="0.9" stroke-opacity="0.8" stroke-linejoin="round"/>
<line x1="877.0" y1="467.6" x2="877.0" y2="420.9" stroke="#68acd4" stroke-width="7"/><line x1="877.0" y1="420.9" x2="877.0" y2="388.1" stroke="#827aa0" stroke-width="7"/>
<polygon points="781.5,280.3 686.0,186.5 649.0,282.0" fill="#68b0d8" fill-opacity="0.7" stroke="#d6dadc" stroke-width="0.9" stroke-opacity="0.8" stroke-linejoin="round"/>
<line x1="877.0" y1="280.6" x2="877.0" y2="327.4" stroke="#68acd4" stroke-width="7"/><line x1="877.0" y1="327.4" x2="877.0" y2="360.1" stroke="#827aa0" stroke-width="7"/>
<circle cx="877.0" cy="280.6" r="28" fill="url(#gB)"/>
<line x1="877.0" y1="280.6" x2="877.0" y2="233.9" stroke="#68acd4" stroke-width="7"/><line x1="877.0" y1="233.9" x2="877.0" y2="201.1" stroke="#827aa0" stroke-width="7"/>
<line x1="877.0" y1="467.6" x2="924.8" y2="467.8" stroke="#68acd4" stroke-width="7"/><line x1="924.8" y1="467.8" x2="958.2" y2="467.9" stroke="#827aa0" stroke-width="7"/>
<polygon points="781.5,467.3 877.0,561.1 840.0,469.6" fill="#366989" fill-opacity="0.7" stroke="#d6dadc" stroke-width="0.9" stroke-opacity="0.8" stroke-linejoin="round"/>
<line x1="877.0" y1="280.6" x2="924.8" y2="280.8" stroke="#68acd4" stroke-width="7"/><line x1="924.8" y1="280.8" x2="958.2" y2="280.9" stroke="#827aa0" stroke-width="7"/>
<polygon points="781.5,467.3 877.0,374.1 840.0,469.6" fill="#386c8c" fill-opacity="0.7" stroke="#d6dadc" stroke-width="0.9" stroke-opacity="0.8" stroke-linejoin="round"/>
<polygon points="781.5,280.3 877.0,374.1 840.0,282.6" fill="#366989" fill-opacity="0.7" stroke="#d6dadc" stroke-width="0.9" stroke-opacity="0.8" stroke-linejoin="round"/>
<polygon points="781.5,280.3 877.0,187.1 840.0,282.6" fill="#386c8c" fill-opacity="0.7" stroke="#d6dadc" stroke-width="0.9" stroke-opacity="0.8" stroke-linejoin="round"/>
<line x1="877.0" y1="467.6" x2="858.5" y2="468.6" stroke="#68acd4" stroke-width="7"/><line x1="858.5" y1="468.6" x2="845.5" y2="469.3" stroke="#827aa0" stroke-width="7"/>
<line x1="877.0" y1="280.6" x2="858.5" y2="281.6" stroke="#68acd4" stroke-width="7"/><line x1="858.5" y1="281.6" x2="845.5" y2="282.3" stroke="#827aa0" stroke-width="7"/>
<polygon points="972.5,467.9 877.0,561.1 840.0,469.6" fill="#64acd4" fill-opacity="0.7" stroke="#d6dadc" stroke-width="0.9" stroke-opacity="0.8" stroke-linejoin="round"/>
<polygon points="972.5,467.9 877.0,374.1 840.0,469.6" fill="#68b0d8" fill-opacity="0.7" stroke="#d6dadc" stroke-width="0.9" stroke-opacity="0.8" stroke-linejoin="round"/>
<polygon points="972.5,280.9 877.0,374.1 840.0,282.6" fill="#64acd4" fill-opacity="0.7" stroke="#d6dadc" stroke-width="0.9" stroke-opacity="0.8" stroke-linejoin="round"/>
<polygon points="972.5,280.9 877.0,187.1 840.0,282.6" fill="#68b0d8" fill-opacity="0.7" stroke="#d6dadc" stroke-width="0.9" stroke-opacity="0.8" stroke-linejoin="round"/>
<circle cx="590.5" cy="466.7" r="15" fill="url(#gO)"/>
<circle cx="590.5" cy="279.7" r="15" fill="url(#gO)"/>
<circle cx="686.0" cy="560.5" r="15" fill="url(#gO)"/>
<circle cx="686.0" cy="373.5" r="15" fill="url(#gO)"/>
<circle cx="686.0" cy="186.5" r="15" fill="url(#gO)"/>
<circle cx="781.5" cy="467.3" r="15" fill="url(#gO)"/>
<circle cx="781.5" cy="280.3" r="15" fill="url(#gO)"/>
<circle cx="877.0" cy="561.1" r="15" fill="url(#gO)"/>
<circle cx="877.0" cy="374.1" r="15" fill="url(#gO)"/>
<circle cx="877.0" cy="187.1" r="15" fill="url(#gO)"/>
<circle cx="649.0" cy="469.0" r="15.5" fill="url(#gO)"/>
<circle cx="649.0" cy="282.0" r="15.5" fill="url(#gO)"/>
<circle cx="972.5" cy="467.9" r="15" fill="url(#gO)"/>
<circle cx="972.5" cy="280.9" r="15" fill="url(#gO)"/>
<circle cx="840.0" cy="469.6" r="15.5" fill="url(#gO)"/>
<circle cx="840.0" cy="282.6" r="15.5" fill="url(#gO)"/>
<line x1="678.0" y1="188.0" x2="574.4" y2="176.6" stroke="#000" stroke-width="5.0" stroke-dasharray="14.8 5.4"/><polygon points="559.5,175.0 577.3,168.9 573.4,176.5 575.5,184.8" fill="#000"/>
<line x1="830.6" y1="358.0" x2="1080.0" y2="358.3" stroke="#000" stroke-width="5.0" stroke-dasharray="14.8 5.4"/><polygon points="1095.0,358.3 1078.0,366.3 1081.0,358.3 1078.0,350.3" fill="#000"/>
<line x1="681.0" y1="474.0" x2="599.2" y2="611.7" stroke="#000" stroke-width="5.0" stroke-dasharray="14.8 5.4"/><polygon points="591.5,624.6 593.3,605.9 598.7,612.6 607.1,614.1" fill="#000"/>
<clipPath id="clip_b"><polygon points="246.6,1502.9 629.0,1622.7 644.5,1097.3 237.5,1040.4"/></clipPath>
<polygon points="69.9,1569.4 398.6,1445.7 398.4,1014.2 48.7,1071.1" fill="#f2f2f2" />
<polygon points="398.6,1445.7 770.8,1548.4 793.9,1062.7 398.4,1014.2" fill="#e6fefb" />
<polygon points="69.9,1569.4 460.5,1711.0 770.8,1548.4 398.6,1445.7" fill="#f7fcee" />
<line x1="93.5" y1="1560.5" x2="74.0" y2="1067.0" stroke="#c6c6c6" stroke-width="1.0" />
<line x1="93.5" y1="1560.5" x2="483.3" y2="1699.0" stroke="#c6c6c6" stroke-width="1.0" />
<line x1="139.4" y1="1543.2" x2="123.2" y2="1059.0" stroke="#c6c6c6" stroke-width="1.0" />
<line x1="139.4" y1="1543.2" x2="527.3" y2="1676.0" stroke="#c6c6c6" stroke-width="1.0" />
<line x1="183.5" y1="1526.6" x2="170.3" y2="1051.3" stroke="#c6c6c6" stroke-width="1.0" />
<line x1="183.5" y1="1526.6" x2="569.4" y2="1653.9" stroke="#c6c6c6" stroke-width="1.0" />
<line x1="226.0" y1="1510.6" x2="215.5" y2="1044.0" stroke="#c6c6c6" stroke-width="1.0" />
<line x1="226.0" y1="1510.6" x2="609.6" y2="1632.9" stroke="#c6c6c6" stroke-width="1.0" />
<line x1="266.8" y1="1495.2" x2="259.0" y2="1036.9" stroke="#c6c6c6" stroke-width="1.0" />
<line x1="266.8" y1="1495.2" x2="648.1" y2="1612.7" stroke="#c6c6c6" stroke-width="1.0" />
<line x1="306.2" y1="1480.4" x2="300.8" y2="1030.1" stroke="#c6c6c6" stroke-width="1.0" />
<line x1="306.2" y1="1480.4" x2="685.0" y2="1593.4" stroke="#c6c6c6" stroke-width="1.0" />
<line x1="344.1" y1="1466.1" x2="340.9" y2="1023.6" stroke="#c6c6c6" stroke-width="1.0" />
<line x1="344.1" y1="1466.1" x2="720.4" y2="1574.8" stroke="#c6c6c6" stroke-width="1.0" />
<line x1="380.7" y1="1452.4" x2="379.6" y2="1017.3" stroke="#c6c6c6" stroke-width="1.0" />
<line x1="380.7" y1="1452.4" x2="754.3" y2="1557.0" stroke="#c6c6c6" stroke-width="1.0" />
<line x1="59.6" y1="1328.0" x2="398.5" y2="1235.7" stroke="#c6c6c6" stroke-width="1.0" />
<line x1="398.5" y1="1235.7" x2="782.0" y2="1312.9" stroke="#c6c6c6" stroke-width="1.0" />
<line x1="465.1" y1="1464.0" x2="468.7" y2="1022.8" stroke="#c6c6c6" stroke-width="1.0" />
<line x1="138.5" y1="1594.2" x2="465.1" y2="1464.0" stroke="#c6c6c6" stroke-width="1.0" />
<line x1="534.9" y1="1483.3" x2="542.6" y2="1031.9" stroke="#c6c6c6" stroke-width="1.0" />
<line x1="211.0" y1="1620.5" x2="534.9" y2="1483.3" stroke="#c6c6c6" stroke-width="1.0" />
<line x1="608.2" y1="1503.5" x2="620.4" y2="1041.4" stroke="#c6c6c6" stroke-width="1.0" />
<line x1="287.8" y1="1648.3" x2="608.2" y2="1503.5" stroke="#c6c6c6" stroke-width="1.0" />
<line x1="685.2" y1="1524.8" x2="702.4" y2="1051.5" stroke="#c6c6c6" stroke-width="1.0" />
<line x1="369.2" y1="1677.8" x2="685.2" y2="1524.8" stroke="#c6c6c6" stroke-width="1.0" />
<line x1="766.2" y1="1547.2" x2="789.0" y2="1062.1" stroke="#c6c6c6" stroke-width="1.0" />
<line x1="455.6" y1="1709.2" x2="766.2" y2="1547.2" stroke="#c6c6c6" stroke-width="1.0" />
<line x1="48.7" y1="1071.1" x2="398.4" y2="1014.2" stroke="#6a6a6a" stroke-width="0.9" />
<line x1="398.4" y1="1014.2" x2="793.9" y2="1062.7" stroke="#6a6a6a" stroke-width="0.9" />
<line x1="398.6" y1="1445.7" x2="398.4" y2="1014.2" stroke="#6a6a6a" stroke-width="0.9" />
<line x1="69.9" y1="1569.4" x2="398.6" y2="1445.7" stroke="#6a6a6a" stroke-width="0.9" />
<line x1="398.6" y1="1445.7" x2="770.8" y2="1548.4" stroke="#6a6a6a" stroke-width="0.9" />
<line x1="770.8" y1="1548.4" x2="793.9" y2="1062.7" stroke="#6a6a6a" stroke-width="0.9" />
<g clip-path="url(#clip_b)">
<polygon points="69.9,1569.4 398.6,1445.7 398.4,1014.2 48.7,1071.1" fill="#e8dbed" />
<polygon points="398.6,1445.7 770.8,1548.4 793.9,1062.7 398.4,1014.2" fill="#d9effe" />
<polygon points="69.9,1569.4 460.5,1711.0 770.8,1548.4 398.6,1445.7" fill="#f5e9e0" />
<line x1="93.5" y1="1560.5" x2="74.0" y2="1067.0" stroke="#dea4ee" stroke-width="1.1" />
<line x1="93.5" y1="1560.5" x2="483.3" y2="1699.0" stroke="#dea4ee" stroke-width="1.1" />
<line x1="139.4" y1="1543.2" x2="123.2" y2="1059.0" stroke="#dea4ee" stroke-width="1.1" />
<line x1="139.4" y1="1543.2" x2="527.3" y2="1676.0" stroke="#dea4ee" stroke-width="1.1" />
<line x1="183.5" y1="1526.6" x2="170.3" y2="1051.3" stroke="#dea4ee" stroke-width="1.1" />
<line x1="183.5" y1="1526.6" x2="569.4" y2="1653.9" stroke="#dea4ee" stroke-width="1.1" />
<line x1="226.0" y1="1510.6" x2="215.5" y2="1044.0" stroke="#dea4ee" stroke-width="1.1" />
<line x1="226.0" y1="1510.6" x2="609.6" y2="1632.9" stroke="#dea4ee" stroke-width="1.1" />
<line x1="266.8" y1="1495.2" x2="259.0" y2="1036.9" stroke="#dea4ee" stroke-width="1.1" />
<line x1="266.8" y1="1495.2" x2="648.1" y2="1612.7" stroke="#dea4ee" stroke-width="1.1" />
<line x1="306.2" y1="1480.4" x2="300.8" y2="1030.1" stroke="#dea4ee" stroke-width="1.1" />
<line x1="306.2" y1="1480.4" x2="685.0" y2="1593.4" stroke="#dea4ee" stroke-width="1.1" />
<line x1="344.1" y1="1466.1" x2="340.9" y2="1023.6" stroke="#dea4ee" stroke-width="1.1" />
<line x1="344.1" y1="1466.1" x2="720.4" y2="1574.8" stroke="#dea4ee" stroke-width="1.1" />
<line x1="380.7" y1="1452.4" x2="379.6" y2="1017.3" stroke="#dea4ee" stroke-width="1.1" />
<line x1="380.7" y1="1452.4" x2="754.3" y2="1557.0" stroke="#dea4ee" stroke-width="1.1" />
<line x1="59.6" y1="1328.0" x2="398.5" y2="1235.7" stroke="#dea4ee" stroke-width="1.1" />
<line x1="398.5" y1="1235.7" x2="782.0" y2="1312.9" stroke="#dea4ee" stroke-width="1.1" />
<line x1="465.1" y1="1464.0" x2="468.7" y2="1022.8" stroke="#dea4ee" stroke-width="1.1" />
<line x1="138.5" y1="1594.2" x2="465.1" y2="1464.0" stroke="#dea4ee" stroke-width="1.1" />
<line x1="534.9" y1="1483.3" x2="542.6" y2="1031.9" stroke="#dea4ee" stroke-width="1.1" />
<line x1="211.0" y1="1620.5" x2="534.9" y2="1483.3" stroke="#dea4ee" stroke-width="1.1" />
<line x1="608.2" y1="1503.5" x2="620.4" y2="1041.4" stroke="#dea4ee" stroke-width="1.1" />
<line x1="287.8" y1="1648.3" x2="608.2" y2="1503.5" stroke="#dea4ee" stroke-width="1.1" />
<line x1="685.2" y1="1524.8" x2="702.4" y2="1051.5" stroke="#dea4ee" stroke-width="1.1" />
<line x1="369.2" y1="1677.8" x2="685.2" y2="1524.8" stroke="#dea4ee" stroke-width="1.1" />
<line x1="766.2" y1="1547.2" x2="789.0" y2="1062.1" stroke="#dea4ee" stroke-width="1.1" />
<line x1="455.6" y1="1709.2" x2="766.2" y2="1547.2" stroke="#dea4ee" stroke-width="1.1" />
<line x1="48.7" y1="1071.1" x2="398.4" y2="1014.2" stroke="#b070c0" stroke-width="1.0" />
<line x1="398.4" y1="1014.2" x2="793.9" y2="1062.7" stroke="#b070c0" stroke-width="1.0" />
<line x1="398.6" y1="1445.7" x2="398.4" y2="1014.2" stroke="#b070c0" stroke-width="1.0" />
<line x1="69.9" y1="1569.4" x2="398.6" y2="1445.7" stroke="#b070c0" stroke-width="1.0" />
<line x1="398.6" y1="1445.7" x2="770.8" y2="1548.4" stroke="#b070c0" stroke-width="1.0" />
<line x1="770.8" y1="1548.4" x2="793.9" y2="1062.7" stroke="#b070c0" stroke-width="1.0" />
</g>
<line x1="314.4" y1="1524.1" x2="309.2" y2="1050.4" stroke="#c6c6c6" stroke-width="1.0" />
<line x1="385.8" y1="1546.5" x2="384.9" y2="1061.0" stroke="#c6c6c6" stroke-width="1.0" />
<line x1="461.0" y1="1570.0" x2="464.9" y2="1072.2" stroke="#c6c6c6" stroke-width="1.0" />
<line x1="540.4" y1="1594.9" x2="549.6" y2="1084.1" stroke="#c6c6c6" stroke-width="1.0" />
<line x1="242.2" y1="1278.3" x2="636.5" y2="1368.7" stroke="#c6c6c6" stroke-width="1.0" />
<line x1="237.5" y1="1040.4" x2="644.5" y2="1097.3" stroke="#6a6a6a" stroke-width="0.9" />
<line x1="246.6" y1="1502.9" x2="237.5" y2="1040.4" stroke="#6a6a6a" stroke-width="0.9" />
<line x1="629.0" y1="1622.7" x2="644.5" y2="1097.3" stroke="#6a6a6a" stroke-width="0.9" />
<line x1="246.6" y1="1502.9" x2="629.0" y2="1622.7" stroke="#6a6a6a" stroke-width="0.9" />
<line x1="48.7" y1="1071.1" x2="465.0" y2="1139.0" stroke="#6a6a6a" stroke-width="0.9" />
<line x1="465.0" y1="1139.0" x2="793.9" y2="1062.7" stroke="#6a6a6a" stroke-width="0.9" />
<line x1="460.5" y1="1711.0" x2="465.0" y2="1139.0" stroke="#6a6a6a" stroke-width="0.9" />
<linearGradient id="tg4" gradientUnits="userSpaceOnUse" x1="427.0" y1="1461.1" x2="423.5" y2="1473.4"><stop offset="0" stop-color="#2000e0"/><stop offset="0.1" stop-color="#2200ff"/><stop offset="0.32" stop-color="#2a00ff"/><stop offset="0.44" stop-color="#d4a4ff"/><stop offset="0.54" stop-color="#e6b8ff"/><stop offset="0.66" stop-color="#4a10ff"/><stop offset="0.86" stop-color="#3400ff"/><stop offset="1" stop-color="#5a14d8"/></linearGradient><circle cx="377.1" cy="1453.7" r="6.4" fill="url(#tg4)"/><polygon points="378.9,1447.6 475.0,1474.6 471.6,1486.9 375.4,1459.9" fill="url(#tg4)"/><circle cx="473.3" cy="1480.7" r="6.4" fill="url(#tg4)"/>
<linearGradient id="tg5" gradientUnits="userSpaceOnUse" x1="502.9" y1="1482.4" x2="499.4" y2="1494.7"><stop offset="0" stop-color="#2000e0"/><stop offset="0.1" stop-color="#2200ff"/><stop offset="0.32" stop-color="#2a00ff"/><stop offset="0.44" stop-color="#d4a4ff"/><stop offset="0.54" stop-color="#e6b8ff"/><stop offset="0.66" stop-color="#4a10ff"/><stop offset="0.86" stop-color="#3400ff"/><stop offset="1" stop-color="#5a14d8"/></linearGradient><circle cx="476.8" cy="1481.7" r="6.4" fill="url(#tg5)"/><polygon points="478.6,1475.6 527.1,1489.2 523.7,1501.5 475.1,1487.9" fill="url(#tg5)"/><circle cx="525.4" cy="1495.4" r="6.4" fill="url(#tg5)"/>
<circle cx="374.6" cy="1017.7" r="7.1" fill="url(#gGr)"/><circle cx="379.8" cy="1018.4" r="7.1" fill="url(#gGr)"/>
<circle cx="391.6" cy="1019.8" r="7.1" fill="url(#gGr)"/><circle cx="396.1" cy="1020.4" r="7.1" fill="url(#gGr)"/>
<linearGradient id="tg7" gradientUnits="userSpaceOnUse" x1="469.1" y1="1022.4" x2="467.4" y2="1036.4"><stop offset="0" stop-color="#38d414"/><stop offset="0.12" stop-color="#48fc14"/><stop offset="0.24" stop-color="#98ff7c"/><stop offset="0.32" stop-color="#c4ffb8"/><stop offset="0.42" stop-color="#5cff2c"/><stop offset="0.62" stop-color="#44f812"/><stop offset="0.82" stop-color="#3ad016"/><stop offset="1" stop-color="#2a9810"/></linearGradient><circle cx="438.4" cy="1025.7" r="7.1" fill="url(#tg7)"/><polygon points="439.3,1018.7 499.0,1026.2 497.3,1040.2 437.5,1032.7" fill="url(#tg7)"/><circle cx="498.1" cy="1033.2" r="7.1" fill="url(#tg7)"/>
<circle cx="512.1" cy="1034.9" r="7.1" fill="url(#gGr)"/><circle cx="517.3" cy="1035.6" r="7.1" fill="url(#gGr)"/>
<linearGradient id="tg3" gradientUnits="userSpaceOnUse" x1="294.9" y1="1531.8" x2="291.0" y2="1544.0"><stop offset="0" stop-color="#1808e0"/><stop offset="0.1" stop-color="#0800ff"/><stop offset="0.32" stop-color="#1000ff"/><stop offset="0.44" stop-color="#9c9cff"/><stop offset="0.54" stop-color="#b4b4ff"/><stop offset="0.66" stop-color="#2a1cff"/><stop offset="0.86" stop-color="#1a00ff"/><stop offset="1" stop-color="#3410d0"/></linearGradient><circle cx="217.6" cy="1513.8" r="6.4" fill="url(#tg3)"/><polygon points="219.6,1507.7 370.2,1556.0 366.2,1568.2 215.7,1519.9" fill="url(#tg3)"/><circle cx="368.2" cy="1562.1" r="6.4" fill="url(#tg3)"/>
<linearGradient id="tg2" gradientUnits="userSpaceOnUse" x1="252.7" y1="1549.0" x2="248.6" y2="1561.1"><stop offset="0" stop-color="#1808e0"/><stop offset="0.1" stop-color="#0800ff"/><stop offset="0.32" stop-color="#1000ff"/><stop offset="0.44" stop-color="#9c9cff"/><stop offset="0.54" stop-color="#b4b4ff"/><stop offset="0.66" stop-color="#2a1cff"/><stop offset="0.86" stop-color="#1a00ff"/><stop offset="1" stop-color="#3410d0"/></linearGradient><circle cx="174.9" cy="1529.9" r="6.4" fill="url(#tg2)"/><polygon points="176.9,1523.8 328.4,1574.2 324.4,1586.3 172.8,1535.9" fill="url(#tg2)"/><circle cx="326.4" cy="1580.2" r="6.4" fill="url(#tg2)"/>
<linearGradient id="tg6" gradientUnits="userSpaceOnUse" x1="541.0" y1="1567.0" x2="537.2" y2="1579.2"><stop offset="0" stop-color="#2000e0"/><stop offset="0.1" stop-color="#2200ff"/><stop offset="0.32" stop-color="#2a00ff"/><stop offset="0.44" stop-color="#d4a4ff"/><stop offset="0.54" stop-color="#e6b8ff"/><stop offset="0.66" stop-color="#4a10ff"/><stop offset="0.86" stop-color="#3400ff"/><stop offset="1" stop-color="#5a14d8"/></linearGradient><circle cx="422.6" cy="1537.5" r="6.4" fill="url(#tg6)"/><polygon points="424.5,1531.3 657.4,1602.7 653.7,1614.9 420.7,1543.6" fill="url(#tg6)"/><circle cx="655.6" cy="1608.8" r="6.4" fill="url(#tg6)"/>
<linearGradient id="tg1" gradientUnits="userSpaceOnUse" x1="186.3" y1="1576.1" x2="182.1" y2="1588.2"><stop offset="0" stop-color="#1808e0"/><stop offset="0.1" stop-color="#0800ff"/><stop offset="0.32" stop-color="#1000ff"/><stop offset="0.44" stop-color="#9c9cff"/><stop offset="0.54" stop-color="#b4b4ff"/><stop offset="0.66" stop-color="#2a1cff"/><stop offset="0.86" stop-color="#1a00ff"/><stop offset="1" stop-color="#3410d0"/></linearGradient><circle cx="107.5" cy="1555.2" r="6.4" fill="url(#tg1)"/><polygon points="109.6,1549.2 263.1,1603.1 258.8,1615.2 105.4,1561.2" fill="url(#tg1)"/><circle cx="260.9" cy="1609.1" r="6.4" fill="url(#tg1)"/>
<linearGradient id="tg9" gradientUnits="userSpaceOnUse" x1="446.1" y1="1052.8" x2="444.2" y2="1066.8"><stop offset="0" stop-color="#38d414"/><stop offset="0.12" stop-color="#48fc14"/><stop offset="0.24" stop-color="#98ff7c"/><stop offset="0.32" stop-color="#c4ffb8"/><stop offset="0.42" stop-color="#5cff2c"/><stop offset="0.62" stop-color="#44f812"/><stop offset="0.82" stop-color="#3ad016"/><stop offset="1" stop-color="#2a9810"/></linearGradient><circle cx="438.2" cy="1058.8" r="7.1" fill="url(#tg9)"/><polygon points="439.1,1051.8 453.1,1053.7 451.2,1067.7 437.2,1065.8" fill="url(#tg9)"/><circle cx="452.2" cy="1060.7" r="7.1" fill="url(#tg9)"/>
<linearGradient id="tg8" gradientUnits="userSpaceOnUse" x1="350.4" y1="1058.9" x2="348.4" y2="1072.9"><stop offset="0" stop-color="#38d414"/><stop offset="0.12" stop-color="#48fc14"/><stop offset="0.24" stop-color="#98ff7c"/><stop offset="0.32" stop-color="#c4ffb8"/><stop offset="0.42" stop-color="#5cff2c"/><stop offset="0.62" stop-color="#44f812"/><stop offset="0.82" stop-color="#3ad016"/><stop offset="1" stop-color="#2a9810"/></linearGradient><circle cx="332.7" cy="1063.5" r="7.1" fill="url(#tg8)"/><polygon points="333.7,1056.5 367.1,1061.3 365.1,1075.3 331.7,1070.5" fill="url(#tg8)"/><circle cx="366.1" cy="1068.3" r="7.1" fill="url(#tg8)"/>
<circle cx="507.5" cy="1068.3" r="7.1" fill="url(#gGr)"/><circle cx="512.6" cy="1069.0" r="7.1" fill="url(#gGr)"/>
<linearGradient id="tg10" gradientUnits="userSpaceOnUse" x1="656.9" y1="1081.6" x2="655.0" y2="1095.5"><stop offset="0" stop-color="#38d414"/><stop offset="0.12" stop-color="#48fc14"/><stop offset="0.24" stop-color="#98ff7c"/><stop offset="0.32" stop-color="#c4ffb8"/><stop offset="0.42" stop-color="#5cff2c"/><stop offset="0.62" stop-color="#44f812"/><stop offset="0.82" stop-color="#3ad016"/><stop offset="1" stop-color="#2a9810"/></linearGradient><circle cx="647.2" cy="1087.4" r="7.1" fill="url(#tg10)"/><polygon points="648.1,1080.4 665.7,1082.8 663.8,1096.7 646.2,1094.3" fill="url(#tg10)"/><circle cx="664.7" cy="1089.7" r="7.1" fill="url(#tg10)"/>
<line x1="69.9" y1="1569.4" x2="48.7" y2="1071.1" stroke="#000" stroke-width="2.3" stroke-linecap="square"/>
<line x1="69.9" y1="1569.4" x2="460.5" y2="1711.0" stroke="#000" stroke-width="2.3" stroke-linecap="square"/>
<line x1="460.5" y1="1711.0" x2="770.8" y2="1548.4" stroke="#000" stroke-width="2.3" stroke-linecap="square"/>
<line x1="69.9" y1="1569.4" x2="60.7" y2="1572.8" stroke="#000" stroke-width="2.2" stroke-linecap="round"/>
<line x1="64.8" y1="1450.5" x2="55.5" y2="1453.6" stroke="#000" stroke-width="2.2" stroke-linecap="round"/>
<line x1="59.6" y1="1328.0" x2="50.1" y2="1330.6" stroke="#000" stroke-width="2.2" stroke-linecap="round"/>
<line x1="54.2" y1="1201.6" x2="44.5" y2="1203.7" stroke="#000" stroke-width="2.2" stroke-linecap="round"/>
<line x1="48.7" y1="1071.1" x2="38.8" y2="1072.7" stroke="#000" stroke-width="2.2" stroke-linecap="round"/>
<line x1="69.9" y1="1569.4" x2="60.7" y2="1572.8" stroke="#000" stroke-width="2.0" stroke-linecap="round"/>
<line x1="103.7" y1="1581.6" x2="99.2" y2="1583.4" stroke="#000" stroke-width="2.0" stroke-linecap="round"/>
<line x1="138.5" y1="1594.2" x2="129.3" y2="1597.9" stroke="#000" stroke-width="2.0" stroke-linecap="round"/>
<line x1="174.3" y1="1607.2" x2="169.7" y2="1609.1" stroke="#000" stroke-width="2.0" stroke-linecap="round"/>
<line x1="211.0" y1="1620.5" x2="201.9" y2="1624.4" stroke="#000" stroke-width="2.0" stroke-linecap="round"/>
<line x1="248.9" y1="1634.2" x2="244.3" y2="1636.2" stroke="#000" stroke-width="2.0" stroke-linecap="round"/>
<line x1="287.8" y1="1648.3" x2="278.7" y2="1652.4" stroke="#000" stroke-width="2.0" stroke-linecap="round"/>
<line x1="327.9" y1="1662.9" x2="323.4" y2="1665.0" stroke="#000" stroke-width="2.0" stroke-linecap="round"/>
<line x1="369.2" y1="1677.8" x2="360.2" y2="1682.2" stroke="#000" stroke-width="2.0" stroke-linecap="round"/>
<line x1="411.7" y1="1693.3" x2="407.3" y2="1695.5" stroke="#000" stroke-width="2.0" stroke-linecap="round"/>
<line x1="455.6" y1="1709.2" x2="446.7" y2="1713.8" stroke="#000" stroke-width="2.0" stroke-linecap="round"/>
<line x1="483.3" y1="1699.0" x2="494.2" y2="1702.9" stroke="#000" stroke-width="2.0" stroke-linecap="round"/>
<line x1="527.3" y1="1676.0" x2="538.1" y2="1679.7" stroke="#000" stroke-width="2.0" stroke-linecap="round"/>
<line x1="569.4" y1="1653.9" x2="580.0" y2="1657.5" stroke="#000" stroke-width="2.0" stroke-linecap="round"/>
<line x1="609.6" y1="1632.9" x2="620.1" y2="1636.3" stroke="#000" stroke-width="2.0" stroke-linecap="round"/>
<line x1="648.1" y1="1612.7" x2="658.6" y2="1615.9" stroke="#000" stroke-width="2.0" stroke-linecap="round"/>
<line x1="685.0" y1="1593.4" x2="695.4" y2="1596.5" stroke="#000" stroke-width="2.0" stroke-linecap="round"/>
<line x1="720.4" y1="1574.8" x2="730.6" y2="1577.8" stroke="#000" stroke-width="2.0" stroke-linecap="round"/>
<line x1="754.3" y1="1557.0" x2="764.5" y2="1559.9" stroke="#000" stroke-width="2.0" stroke-linecap="round"/>
<line x1="460.5" y1="1711.0" x2="466.0" y2="1712.9" stroke="#000" stroke-width="2.0" stroke-linecap="round"/>
<line x1="505.6" y1="1687.4" x2="511.0" y2="1689.2" stroke="#000" stroke-width="2.0" stroke-linecap="round"/>
<line x1="548.6" y1="1664.8" x2="553.9" y2="1666.6" stroke="#000" stroke-width="2.0" stroke-linecap="round"/>
<line x1="589.7" y1="1643.3" x2="595.0" y2="1645.0" stroke="#000" stroke-width="2.0" stroke-linecap="round"/>
<line x1="629.0" y1="1622.7" x2="634.3" y2="1624.3" stroke="#000" stroke-width="2.0" stroke-linecap="round"/>
<line x1="666.7" y1="1602.9" x2="671.9" y2="1604.5" stroke="#000" stroke-width="2.0" stroke-linecap="round"/>
<line x1="702.8" y1="1584.0" x2="708.0" y2="1585.5" stroke="#000" stroke-width="2.0" stroke-linecap="round"/>
<line x1="737.5" y1="1565.9" x2="742.6" y2="1567.3" stroke="#000" stroke-width="2.0" stroke-linecap="round"/>
<line x1="770.8" y1="1548.4" x2="775.9" y2="1549.8" stroke="#000" stroke-width="2.0" stroke-linecap="round"/>
<text transform="matrix(0.22454,-0.08498,0.19687,0.07226,61.09,1577.57)" font-size="100" text-anchor="end" dy="0.0" stroke="#000" stroke-width="2.2" style="font-family:'Liberation Serif','Times New Roman',serif;font-weight:bold">0</text>
<text transform="matrix(0.22404,-0.08984,0.20801,0.07635,130.11,1602.91)" font-size="100" text-anchor="end" dy="0.0" stroke="#000" stroke-width="2.2" style="font-family:'Liberation Serif','Times New Roman',serif;font-weight:bold">400</text>
<text transform="matrix(0.22312,-0.09511,0.22012,0.08080,203.10,1629.69)" font-size="100" text-anchor="end" dy="0.0" stroke="#000" stroke-width="2.2" style="font-family:'Liberation Serif','Times New Roman',serif;font-weight:bold">800</text>
<text transform="matrix(0.22170,-0.10087,0.23333,0.08564,280.40,1658.07)" font-size="100" text-anchor="end" dy="0.0" stroke="#000" stroke-width="2.2" style="font-family:'Liberation Serif','Times New Roman',serif;font-weight:bold">1200</text>
<text transform="matrix(0.21969,-0.10716,0.24775,0.09094,362.40,1688.17)" font-size="100" text-anchor="end" dy="0.0" stroke="#000" stroke-width="2.2" style="font-family:'Liberation Serif','Times New Roman',serif;font-weight:bold">1600</text>
<text transform="matrix(0.21698,-0.11405,0.26356,0.09674,449.56,1720.16)" font-size="100" text-anchor="end" dy="0.0" stroke="#000" stroke-width="2.2" style="font-family:'Liberation Serif','Times New Roman',serif;font-weight:bold">2000</text>
<text transform="matrix(0.26467,0.09465,-0.20980,0.11156,493.53,1708.86)" font-size="100" text-anchor="start" dy="0.0" stroke="#000" stroke-width="2.2" style="font-family:'Liberation Serif','Times New Roman',serif;font-weight:bold">2.6</text>
<text transform="matrix(0.26252,0.09039,-0.20028,0.10650,537.71,1685.37)" font-size="100" text-anchor="start" dy="0.0" stroke="#000" stroke-width="2.2" style="font-family:'Liberation Serif','Times New Roman',serif;font-weight:bold">2.8</text>
<text transform="matrix(0.26030,0.08641,-0.19139,0.10177,579.90,1662.93)" font-size="100" text-anchor="start" dy="0.0" stroke="#000" stroke-width="2.2" style="font-family:'Liberation Serif','Times New Roman',serif;font-weight:bold">3.0</text>
<text transform="matrix(0.25802,0.08269,-0.18308,0.09735,620.24,1641.48)" font-size="100" text-anchor="start" dy="0.0" stroke="#000" stroke-width="2.2" style="font-family:'Liberation Serif','Times New Roman',serif;font-weight:bold">3.2</text>
<text transform="matrix(0.25569,0.07920,-0.17530,0.09322,658.85,1620.95)" font-size="100" text-anchor="start" dy="0.0" stroke="#000" stroke-width="2.2" style="font-family:'Liberation Serif','Times New Roman',serif;font-weight:bold">3.4</text>
<text transform="matrix(0.25333,0.07593,-0.16801,0.08934,695.84,1601.28)" font-size="100" text-anchor="start" dy="0.0" stroke="#000" stroke-width="2.2" style="font-family:'Liberation Serif','Times New Roman',serif;font-weight:bold">3.6</text>
<text transform="matrix(0.25095,0.07286,-0.16116,0.08570,731.30,1582.43)" font-size="100" text-anchor="start" dy="0.0" stroke="#000" stroke-width="2.2" style="font-family:'Liberation Serif','Times New Roman',serif;font-weight:bold">3.8</text>
<text transform="matrix(0.24854,0.06998,-0.15472,0.08227,765.33,1564.33)" font-size="100" text-anchor="start" dy="0.0" stroke="#000" stroke-width="2.2" style="font-family:'Liberation Serif','Times New Roman',serif;font-weight:bold">4.0</text>
<text transform="matrix(0.26436,0.10305,-0.27436,0.12140,174.75,1678.15)" font-size="100" text-anchor="middle" dy="0.0" stroke="#000" stroke-width="2.2" style="font-family:'Liberation Serif','Times New Roman',serif;font-weight:bold">Number of prediction samples</text>
<text transform="matrix(0.20302,-0.11430,0.30892,0.09706,705.91,1649.43)" font-size="100" text-anchor="middle" dy="0.0" stroke="#000" stroke-width="2.2" style="font-family:'Liberation Serif','Times New Roman',serif;font-weight:bold">X Electronegativity (E<tspan font-size="68" dy="22">X</tspan><tspan dy="-22">)</tspan></text>
<circle cx="108.4" cy="1220.3" r="7.7" fill="url(#gGr)"/><circle cx="108.4" cy="1262.0" r="7.7" fill="url(#gBl)"/><text x="155.0" y="1231.7" font-size="33.2" style="font-family:'Liberation Serif','Times New Roman',serif;font-weight:bold">1 (c/a &gt; 1.2)</text><text x="155.0" y="1273.0" font-size="33.2" style="font-family:'Liberation Serif','Times New Roman',serif;font-weight:bold">0 (c/a &lt; 1.2)</text>
<text x="52.5" y="1020.0" font-size="48" style="font-family:'Liberation Serif','Times New Roman',serif;font-weight:bold">(b)</text>
<clipPath id="clip_c"><polygon points="1080.1,1512.1 1463.9,1634.8 1478.1,1103.1 1069.4,1044.6"/></clipPath>
<polygon points="928.0,1569.4 1256.7,1445.7 1256.5,1014.2 906.8,1071.1" fill="#f2f2f2" />
<polygon points="1256.7,1445.7 1628.9,1548.4 1652.0,1062.7 1256.5,1014.2" fill="#e6fefb" />
<polygon points="928.0,1569.4 1318.6,1711.0 1628.9,1548.4 1256.7,1445.7" fill="#f7fcee" />
<line x1="1010.0" y1="1538.5" x2="994.6" y2="1056.8" stroke="#c6c6c6" stroke-width="1.0" />
<line x1="1010.0" y1="1538.5" x2="1397.3" y2="1669.8" stroke="#c6c6c6" stroke-width="1.0" />
<line x1="1086.4" y1="1509.7" x2="1076.1" y2="1043.6" stroke="#c6c6c6" stroke-width="1.0" />
<line x1="1086.4" y1="1509.7" x2="1469.8" y2="1631.7" stroke="#c6c6c6" stroke-width="1.0" />
<line x1="1157.8" y1="1482.9" x2="1152.0" y2="1031.2" stroke="#c6c6c6" stroke-width="1.0" />
<line x1="1157.8" y1="1482.9" x2="1537.0" y2="1596.5" stroke="#c6c6c6" stroke-width="1.0" />
<line x1="1224.8" y1="1457.7" x2="1222.8" y2="1019.7" stroke="#c6c6c6" stroke-width="1.0" />
<line x1="1224.8" y1="1457.7" x2="1599.4" y2="1563.9" stroke="#c6c6c6" stroke-width="1.0" />
<line x1="917.7" y1="1328.0" x2="1256.6" y2="1235.7" stroke="#c6c6c6" stroke-width="1.0" />
<line x1="1256.6" y1="1235.7" x2="1640.1" y2="1312.9" stroke="#c6c6c6" stroke-width="1.0" />
<line x1="1323.2" y1="1464.0" x2="1326.8" y2="1022.8" stroke="#c6c6c6" stroke-width="1.0" />
<line x1="996.6" y1="1594.2" x2="1323.2" y2="1464.0" stroke="#c6c6c6" stroke-width="1.0" />
<line x1="1393.0" y1="1483.3" x2="1400.7" y2="1031.9" stroke="#c6c6c6" stroke-width="1.0" />
<line x1="1069.1" y1="1620.5" x2="1393.0" y2="1483.3" stroke="#c6c6c6" stroke-width="1.0" />
<line x1="1466.3" y1="1503.5" x2="1478.5" y2="1041.4" stroke="#c6c6c6" stroke-width="1.0" />
<line x1="1145.9" y1="1648.3" x2="1466.3" y2="1503.5" stroke="#c6c6c6" stroke-width="1.0" />
<line x1="1543.3" y1="1524.8" x2="1560.5" y2="1051.5" stroke="#c6c6c6" stroke-width="1.0" />
<line x1="1227.3" y1="1677.8" x2="1543.3" y2="1524.8" stroke="#c6c6c6" stroke-width="1.0" />
<line x1="1624.3" y1="1547.2" x2="1647.1" y2="1062.1" stroke="#c6c6c6" stroke-width="1.0" />
<line x1="1313.7" y1="1709.2" x2="1624.3" y2="1547.2" stroke="#c6c6c6" stroke-width="1.0" />
<line x1="906.8" y1="1071.1" x2="1256.5" y2="1014.2" stroke="#6a6a6a" stroke-width="0.9" />
<line x1="1256.5" y1="1014.2" x2="1652.0" y2="1062.7" stroke="#6a6a6a" stroke-width="0.9" />
<line x1="1256.7" y1="1445.7" x2="1256.5" y2="1014.2" stroke="#6a6a6a" stroke-width="0.9" />
<line x1="928.0" y1="1569.4" x2="1256.7" y2="1445.7" stroke="#6a6a6a" stroke-width="0.9" />
<line x1="1256.7" y1="1445.7" x2="1628.9" y2="1548.4" stroke="#6a6a6a" stroke-width="0.9" />
<line x1="1628.9" y1="1548.4" x2="1652.0" y2="1062.7" stroke="#6a6a6a" stroke-width="0.9" />
<g clip-path="url(#clip_c)">
<polygon points="928.0,1569.4 1256.7,1445.7 1256.5,1014.2 906.8,1071.1" fill="#e8dbed" />
<polygon points="1256.7,1445.7 1628.9,1548.4 1652.0,1062.7 1256.5,1014.2" fill="#d9effe" />
<polygon points="928.0,1569.4 1318.6,1711.0 1628.9,1548.4 1256.7,1445.7" fill="#f5e9e0" />
<line x1="1010.0" y1="1538.5" x2="994.6" y2="1056.8" stroke="#dea4ee" stroke-width="1.1" />
<line x1="1010.0" y1="1538.5" x2="1397.3" y2="1669.8" stroke="#dea4ee" stroke-width="1.1" />
<line x1="1086.4" y1="1509.7" x2="1076.1" y2="1043.6" stroke="#dea4ee" stroke-width="1.1" />
<line x1="1086.4" y1="1509.7" x2="1469.8" y2="1631.7" stroke="#dea4ee" stroke-width="1.1" />
<line x1="1157.8" y1="1482.9" x2="1152.0" y2="1031.2" stroke="#dea4ee" stroke-width="1.1" />
<line x1="1157.8" y1="1482.9" x2="1537.0" y2="1596.5" stroke="#dea4ee" stroke-width="1.1" />
<line x1="1224.8" y1="1457.7" x2="1222.8" y2="1019.7" stroke="#dea4ee" stroke-width="1.1" />
<line x1="1224.8" y1="1457.7" x2="1599.4" y2="1563.9" stroke="#dea4ee" stroke-width="1.1" />
<line x1="917.7" y1="1328.0" x2="1256.6" y2="1235.7" stroke="#dea4ee" stroke-width="1.1" />
<line x1="1256.6" y1="1235.7" x2="1640.1" y2="1312.9" stroke="#dea4ee" stroke-width="1.1" />
<line x1="1323.2" y1="1464.0" x2="1326.8" y2="1022.8" stroke="#dea4ee" stroke-width="1.1" />
<line x1="996.6" y1="1594.2" x2="1323.2" y2="1464.0" stroke="#dea4ee" stroke-width="1.1" />
<line x1="1393.0" y1="1483.3" x2="1400.7" y2="1031.9" stroke="#dea4ee" stroke-width="1.1" />
<line x1="1069.1" y1="1620.5" x2="1393.0" y2="1483.3" stroke="#dea4ee" stroke-width="1.1" />
<line x1="1466.3" y1="1503.5" x2="1478.5" y2="1041.4" stroke="#dea4ee" stroke-width="1.1" />
<line x1="1145.9" y1="1648.3" x2="1466.3" y2="1503.5" stroke="#dea4ee" stroke-width="1.1" />
<line x1="1543.3" y1="1524.8" x2="1560.5" y2="1051.5" stroke="#dea4ee" stroke-width="1.1" />
<line x1="1227.3" y1="1677.8" x2="1543.3" y2="1524.8" stroke="#dea4ee" stroke-width="1.1" />
<line x1="1624.3" y1="1547.2" x2="1647.1" y2="1062.1" stroke="#dea4ee" stroke-width="1.1" />
<line x1="1313.7" y1="1709.2" x2="1624.3" y2="1547.2" stroke="#dea4ee" stroke-width="1.1" />
<line x1="906.8" y1="1071.1" x2="1256.5" y2="1014.2" stroke="#b070c0" stroke-width="1.0" />
<line x1="1256.5" y1="1014.2" x2="1652.0" y2="1062.7" stroke="#b070c0" stroke-width="1.0" />
<line x1="1256.7" y1="1445.7" x2="1256.5" y2="1014.2" stroke="#b070c0" stroke-width="1.0" />
<line x1="928.0" y1="1569.4" x2="1256.7" y2="1445.7" stroke="#b070c0" stroke-width="1.0" />
<line x1="1256.7" y1="1445.7" x2="1628.9" y2="1548.4" stroke="#b070c0" stroke-width="1.0" />
<line x1="1628.9" y1="1548.4" x2="1652.0" y2="1062.7" stroke="#b070c0" stroke-width="1.0" />
</g>
<line x1="1148.1" y1="1533.8" x2="1141.3" y2="1054.9" stroke="#c6c6c6" stroke-width="1.0" />
<line x1="1219.7" y1="1556.7" x2="1217.2" y2="1065.8" stroke="#c6c6c6" stroke-width="1.0" />
<line x1="1295.2" y1="1580.9" x2="1297.5" y2="1077.2" stroke="#c6c6c6" stroke-width="1.0" />
<line x1="1374.9" y1="1606.3" x2="1382.6" y2="1089.4" stroke="#c6c6c6" stroke-width="1.0" />
<line x1="1075.0" y1="1285.1" x2="1470.8" y2="1377.8" stroke="#c6c6c6" stroke-width="1.0" />
<line x1="1069.4" y1="1044.6" x2="1478.1" y2="1103.1" stroke="#6a6a6a" stroke-width="0.9" />
<line x1="1080.1" y1="1512.1" x2="1069.4" y2="1044.6" stroke="#6a6a6a" stroke-width="0.9" />
<line x1="1463.9" y1="1634.8" x2="1478.1" y2="1103.1" stroke="#6a6a6a" stroke-width="0.9" />
<line x1="1080.1" y1="1512.1" x2="1463.9" y2="1634.8" stroke="#6a6a6a" stroke-width="0.9" />
<line x1="906.8" y1="1071.1" x2="1323.1" y2="1139.0" stroke="#6a6a6a" stroke-width="0.9" />
<line x1="1323.1" y1="1139.0" x2="1652.0" y2="1062.7" stroke="#6a6a6a" stroke-width="0.9" />
<line x1="1318.6" y1="1711.0" x2="1323.1" y2="1139.0" stroke="#6a6a6a" stroke-width="0.9" />
<circle cx="1241.5" cy="1488.9" r="7.0" fill="url(#gPu)"/>
<circle cx="1337.4" cy="1491.4" r="7.0" fill="url(#gPu)"/>
<circle cx="1259.6" cy="1491.4" r="7.0" fill="url(#gPu)"/>
<circle cx="1358.0" cy="1494.0" r="7.0" fill="url(#gPu)"/>
<circle cx="1219.2" cy="1495.1" r="7.0" fill="url(#gPu)"/>
<circle cx="1241.5" cy="1496.0" r="7.0" fill="url(#gPu)"/>
<circle cx="1227.9" cy="1496.1" r="7.0" fill="url(#gPu)"/>
<circle cx="1205.6" cy="1496.2" r="7.0" fill="url(#gPu)"/>
<circle cx="1262.4" cy="1496.4" r="7.0" fill="url(#gPu)"/>
<circle cx="1297.1" cy="1496.7" r="7.0" fill="url(#gPu)"/>
<circle cx="1280.3" cy="1496.7" r="7.0" fill="url(#gPu)"/>
<circle cx="1306.2" cy="1497.6" r="7.0" fill="url(#gPu)"/>
<circle cx="1248.7" cy="1497.6" r="7.0" fill="url(#gPu)"/>
<circle cx="1193.1" cy="1497.7" r="7.0" fill="url(#gPu)"/>
<circle cx="1268.6" cy="1498.5" r="7.0" fill="url(#gPu)"/>
<circle cx="1285.9" cy="1499.0" r="7.0" fill="url(#gPu)"/>
<circle cx="1232.3" cy="1498.8" r="7.0" fill="url(#gPu)"/>
<circle cx="1330.0" cy="1499.5" r="7.0" fill="url(#gPu)"/>
<circle cx="1200.6" cy="1499.2" r="7.0" fill="url(#gPu)"/>
<circle cx="1255.5" cy="1499.4" r="7.0" fill="url(#gPu)"/>
<circle cx="1312.0" cy="1499.8" r="7.0" fill="url(#gPu)"/>
<circle cx="1241.0" cy="1499.8" r="7.0" fill="url(#gPu)"/>
<circle cx="1162.2" cy="1499.8" r="7.0" fill="url(#gPu)"/>
<circle cx="1144.4" cy="1500.8" r="7.0" fill="url(#gPu)"/>
<circle cx="1261.1" cy="1501.7" r="7.0" fill="url(#gPu)"/>
<circle cx="1186.3" cy="1501.5" r="7.0" fill="url(#gPu)"/>
<circle cx="1318.3" cy="1501.9" r="7.0" fill="url(#gPu)"/>
<circle cx="1168.9" cy="1501.6" r="7.0" fill="url(#gPu)"/>
<circle cx="1204.9" cy="1501.9" r="7.0" fill="url(#gPu)"/>
<circle cx="1333.5" cy="1502.8" r="7.0" fill="url(#gPu)"/>
<circle cx="1151.8" cy="1502.3" r="7.0" fill="url(#gPu)"/>
<circle cx="1344.1" cy="1503.1" r="7.0" fill="url(#gPu)"/>
<circle cx="1193.7" cy="1503.0" r="7.0" fill="url(#gPu)"/>
<circle cx="1232.7" cy="1503.3" r="7.0" fill="url(#gPu)"/>
<circle cx="1176.0" cy="1503.2" r="7.0" fill="url(#gPu)"/>
<circle cx="1307.9" cy="1503.9" r="7.0" fill="url(#gPu)"/>
<circle cx="1266.8" cy="1504.0" r="7.0" fill="url(#gPu)"/>
<circle cx="1211.4" cy="1503.8" r="7.0" fill="url(#gPu)"/>
<circle cx="1139.7" cy="1504.5" r="7.0" fill="url(#gPu)"/>
<circle cx="1121.0" cy="1504.7" r="7.0" fill="url(#gPu)"/>
<circle cx="1238.7" cy="1505.5" r="7.0" fill="url(#gPu)"/>
<circle cx="1296.0" cy="1505.8" r="7.0" fill="url(#gPu)"/>
<circle cx="1198.6" cy="1505.5" r="7.0" fill="url(#gPu)"/>
<circle cx="1181.2" cy="1505.7" r="7.0" fill="url(#gPu)"/>
<circle cx="1313.9" cy="1506.1" r="7.0" fill="url(#gPu)"/>
<circle cx="1148.3" cy="1505.6" r="7.0" fill="url(#gPu)"/>
<circle cx="1129.8" cy="1505.7" r="7.0" fill="url(#gPu)"/>
<circle cx="1246.8" cy="1506.8" r="7.0" fill="url(#gPu)"/>
<circle cx="1163.0" cy="1506.7" r="7.0" fill="url(#gPu)"/>
<circle cx="1107.1" cy="1506.6" r="7.0" fill="url(#gPu)"/>
<circle cx="1225.5" cy="1507.3" r="7.0" fill="url(#gPu)"/>
<circle cx="1302.8" cy="1507.7" r="7.0" fill="url(#gPu)"/>
<circle cx="1320.4" cy="1508.2" r="7.0" fill="url(#gPu)"/>
<circle cx="1337.1" cy="1508.3" r="7.0" fill="url(#gPu)"/>
<circle cx="1265.8" cy="1508.1" r="7.0" fill="url(#gPu)"/>
<circle cx="1098.7" cy="1507.8" r="7.0" fill="url(#gPu)"/>
<circle cx="1134.5" cy="1508.2" r="7.0" fill="url(#gPu)"/>
<circle cx="1233.3" cy="1508.7" r="7.0" fill="url(#gPu)"/>
<circle cx="1113.7" cy="1508.4" r="7.0" fill="url(#gPu)"/>
<circle cx="1252.4" cy="1509.1" r="7.0" fill="url(#gPu)"/>
<circle cx="1168.7" cy="1508.9" r="7.0" fill="url(#gPu)"/>
<circle cx="1344.3" cy="1510.1" r="7.0" fill="url(#gPu)"/>
<circle cx="1327.2" cy="1510.1" r="7.0" fill="url(#gPu)"/>
<circle cx="1272.8" cy="1510.0" r="7.0" fill="url(#gPu)"/>
<circle cx="1308.0" cy="1510.3" r="7.0" fill="url(#gPu)"/>
<circle cx="1121.2" cy="1509.9" r="7.0" fill="url(#gPu)"/>
<circle cx="1176.3" cy="1510.4" r="7.0" fill="url(#gPu)"/>
<circle cx="1140.1" cy="1510.5" r="7.0" fill="url(#gPu)"/>
<circle cx="1239.0" cy="1511.0" r="7.0" fill="url(#gPu)"/>
<circle cx="1258.9" cy="1511.1" r="7.0" fill="url(#gPu)"/>
<circle cx="1102.4" cy="1510.7" r="7.0" fill="url(#gPu)"/>
<circle cx="1293.5" cy="1511.8" r="7.0" fill="url(#gPu)"/>
<circle cx="1334.1" cy="1512.0" r="7.0" fill="url(#gPu)"/>
<circle cx="1315.5" cy="1512.0" r="7.0" fill="url(#gPu)"/>
<circle cx="1279.5" cy="1511.9" r="7.0" fill="url(#gPu)"/>
<circle cx="1110.6" cy="1511.9" r="7.0" fill="url(#gPu)"/>
<circle cx="1147.5" cy="1512.0" r="7.0" fill="url(#gPu)"/>
<circle cx="1127.0" cy="1512.1" r="7.0" fill="url(#gPu)"/>
<circle cx="1226.3" cy="1512.7" r="7.0" fill="url(#gPu)"/>
<circle cx="1265.2" cy="1513.3" r="7.0" fill="url(#gPu)"/>
<circle cx="1244.8" cy="1513.3" r="7.0" fill="url(#gPu)"/>
<circle cx="1300.4" cy="1513.7" r="7.0" fill="url(#gPu)"/>
<circle cx="1286.6" cy="1513.7" r="7.0" fill="url(#gPu)"/>
<circle cx="1340.6" cy="1514.1" r="7.0" fill="url(#gPu)"/>
<circle cx="1321.9" cy="1514.1" r="7.0" fill="url(#gPu)"/>
<circle cx="1205.8" cy="1514.0" r="7.0" fill="url(#gPu)"/>
<circle cx="1134.0" cy="1513.8" r="7.0" fill="url(#gPu)"/>
<circle cx="1116.8" cy="1514.0" r="7.0" fill="url(#gPu)"/>
<circle cx="1171.9" cy="1514.1" r="7.0" fill="url(#gPu)"/>
<circle cx="1153.5" cy="1514.2" r="7.0" fill="url(#gPu)"/>
<circle cx="1233.0" cy="1514.6" r="7.0" fill="url(#gPu)"/>
<circle cx="1293.6" cy="1515.6" r="7.0" fill="url(#gPu)"/>
<circle cx="1250.9" cy="1515.5" r="7.0" fill="url(#gPu)"/>
<circle cx="1213.8" cy="1515.4" r="7.0" fill="url(#gPu)"/>
<circle cx="1306.9" cy="1515.7" r="7.0" fill="url(#gPu)"/>
<circle cx="1328.2" cy="1516.3" r="7.0" fill="url(#gPu)"/>
<circle cx="1269.7" cy="1516.1" r="7.0" fill="url(#gPu)"/>
<circle cx="1098.1" cy="1515.7" r="7.0" fill="url(#gPu)"/>
<circle cx="1178.4" cy="1516.1" r="7.0" fill="url(#gPu)"/>
<circle cx="1346.1" cy="1516.7" r="7.0" fill="url(#gPu)"/>
<circle cx="1159.9" cy="1516.2" r="7.0" fill="url(#gPu)"/>
<circle cx="1195.9" cy="1516.3" r="7.0" fill="url(#gPu)"/>
<circle cx="1138.9" cy="1516.4" r="7.0" fill="url(#gPu)"/>
<circle cx="1121.6" cy="1516.5" r="7.0" fill="url(#gPu)"/>
<circle cx="1084.3" cy="1516.6" r="7.0" fill="url(#gBl)"/>
<circle cx="1106.3" cy="1517.0" r="7.0" fill="url(#gPu)"/>
<circle cx="1219.8" cy="1517.6" r="7.0" fill="url(#gPu)"/>
<circle cx="1069.4" cy="1517.6" r="7.0" fill="url(#gBl)"/>
<circle cx="1298.5" cy="1518.4" r="7.0" fill="url(#gPu)"/>
<circle cx="1185.2" cy="1518.0" r="7.0" fill="url(#gPu)"/>
<circle cx="1202.3" cy="1518.4" r="7.0" fill="url(#gPu)"/>
<circle cx="1145.0" cy="1518.5" r="7.0" fill="url(#gPu)"/>
<circle cx="1090.3" cy="1518.7" r="7.0" fill="url(#gBl)"/>
<circle cx="1244.4" cy="1519.3" r="7.0" fill="url(#gPu)"/>
<circle cx="1227.2" cy="1519.3" r="7.0" fill="url(#gPu)"/>
<circle cx="1126.7" cy="1519.0" r="7.0" fill="url(#gPu)"/>
<circle cx="1386.6" cy="1520.0" r="7.0" fill="url(#gPu)"/>
<circle cx="1342.6" cy="1520.0" r="7.0" fill="url(#gPu)"/>
<circle cx="1210.4" cy="1519.7" r="7.0" fill="url(#gPu)"/>
<circle cx="1110.7" cy="1519.7" r="7.0" fill="url(#gPu)"/>
<circle cx="1075.3" cy="1519.8" r="7.0" fill="url(#gBl)"/>
<circle cx="1172.4" cy="1520.3" r="7.0" fill="url(#gPu)"/>
<circle cx="1134.9" cy="1520.3" r="7.0" fill="url(#gPu)"/>
<circle cx="1328.2" cy="1521.4" r="7.0" fill="url(#gPu)"/>
<circle cx="1271.0" cy="1521.5" r="7.0" fill="url(#gPu)"/>
<circle cx="1119.0" cy="1521.0" r="7.0" fill="url(#gPu)"/>
<circle cx="1233.5" cy="1521.4" r="7.0" fill="url(#gPu)"/>
<circle cx="1250.4" cy="1521.6" r="7.0" fill="url(#gPu)"/>
<circle cx="1348.8" cy="1522.3" r="7.0" fill="url(#gPu)"/>
<circle cx="1081.9" cy="1521.6" r="7.0" fill="url(#gBl)"/>
<circle cx="1198.0" cy="1522.1" r="7.0" fill="url(#gPu)"/>
<circle cx="1179.0" cy="1522.3" r="7.0" fill="url(#gPu)"/>
<circle cx="1141.5" cy="1522.2" r="7.0" fill="url(#gPu)"/>
<circle cx="1298.4" cy="1523.4" r="7.0" fill="url(#gPu)"/>
<circle cx="1257.0" cy="1523.7" r="7.0" fill="url(#gPu)"/>
<circle cx="1276.7" cy="1524.0" r="7.0" fill="url(#gPu)"/>
<circle cx="1333.2" cy="1524.3" r="7.0" fill="url(#gPu)"/>
<circle cx="1205.1" cy="1523.9" r="7.0" fill="url(#gPu)"/>
<circle cx="1238.7" cy="1524.1" r="7.0" fill="url(#gPu)"/>
<circle cx="1123.3" cy="1523.8" r="7.0" fill="url(#gPu)"/>
<circle cx="1184.7" cy="1524.7" r="7.0" fill="url(#gPu)"/>
<circle cx="1055.7" cy="1524.2" r="7.0" fill="url(#gBl)"/>
<circle cx="1086.0" cy="1524.5" r="7.0" fill="url(#gBl)"/>
<circle cx="1264.6" cy="1525.4" r="7.0" fill="url(#gPu)"/>
<circle cx="1284.7" cy="1525.5" r="7.0" fill="url(#gPu)"/>
<circle cx="1131.7" cy="1525.1" r="7.0" fill="url(#gPu)"/>
<circle cx="1304.2" cy="1525.9" r="7.0" fill="url(#gPu)"/>
<circle cx="1244.9" cy="1526.3" r="7.0" fill="url(#gPu)"/>
<circle cx="1093.1" cy="1526.2" r="7.0" fill="url(#gBl)"/>
<circle cx="1170.7" cy="1526.7" r="7.0" fill="url(#gPu)"/>
<circle cx="1272.1" cy="1527.1" r="7.0" fill="url(#gPu)"/>
<circle cx="1209.4" cy="1526.9" r="7.0" fill="url(#gPu)"/>
<circle cx="1116.0" cy="1526.7" r="7.0" fill="url(#gBl)"/>
<circle cx="1190.8" cy="1526.9" r="7.0" fill="url(#gPu)"/>
<circle cx="1323.6" cy="1527.4" r="7.0" fill="url(#gPu)"/>
<circle cx="1291.3" cy="1527.6" r="7.0" fill="url(#gPu)"/>
<circle cx="1060.3" cy="1526.9" r="7.0" fill="url(#gBl)"/>
<circle cx="1236.8" cy="1527.9" r="7.0" fill="url(#gPu)"/>
<circle cx="1332.6" cy="1528.6" r="7.0" fill="url(#gPu)"/>
<circle cx="1080.1" cy="1527.7" r="7.0" fill="url(#gBl)"/>
<circle cx="1100.5" cy="1527.9" r="7.0" fill="url(#gBl)"/>
<circle cx="1217.4" cy="1528.4" r="7.0" fill="url(#gPu)"/>
<circle cx="1177.3" cy="1528.7" r="7.0" fill="url(#gPu)"/>
<circle cx="1278.8" cy="1529.2" r="7.0" fill="url(#gPu)"/>
<circle cx="1122.5" cy="1528.7" r="7.0" fill="url(#gBl)"/>
<circle cx="1298.1" cy="1529.7" r="7.0" fill="url(#gPu)"/>
<circle cx="1065.9" cy="1529.2" r="7.0" fill="url(#gBl)"/>
<circle cx="1087.0" cy="1529.6" r="7.0" fill="url(#gBl)"/>
<circle cx="1130.2" cy="1530.3" r="7.0" fill="url(#gBl)"/>
<circle cx="1241.9" cy="1530.6" r="7.0" fill="url(#gPu)"/>
<circle cx="1105.8" cy="1530.4" r="7.0" fill="url(#gBl)"/>
<circle cx="1166.9" cy="1530.7" r="7.0" fill="url(#gPu)"/>
<circle cx="1222.9" cy="1531.0" r="7.0" fill="url(#gPu)"/>
<circle cx="1267.6" cy="1531.5" r="7.0" fill="url(#gPu)"/>
<circle cx="1304.8" cy="1531.8" r="7.0" fill="url(#gPu)"/>
<circle cx="1283.8" cy="1532.0" r="7.0" fill="url(#gPu)"/>
<circle cx="1071.9" cy="1531.4" r="7.0" fill="url(#gBl)"/>
<circle cx="1149.8" cy="1531.8" r="7.0" fill="url(#gPu)"/>
<circle cx="1249.6" cy="1532.3" r="7.0" fill="url(#gPu)"/>
<circle cx="1092.9" cy="1531.8" r="7.0" fill="url(#gBl)"/>
<circle cx="1231.0" cy="1532.5" r="7.0" fill="url(#gPu)"/>
<circle cx="1174.5" cy="1532.3" r="7.0" fill="url(#gPu)"/>
<circle cx="1030.2" cy="1531.9" r="7.0" fill="url(#gBl)"/>
<circle cx="1136.4" cy="1532.4" r="7.0" fill="url(#gBl)"/>
<circle cx="1111.8" cy="1532.6" r="7.0" fill="url(#gBl)"/>
<circle cx="1292.2" cy="1533.4" r="7.0" fill="url(#gPu)"/>
<circle cx="1274.1" cy="1533.7" r="7.0" fill="url(#gPu)"/>
<circle cx="1039.3" cy="1532.9" r="7.0" fill="url(#gBl)"/>
<circle cx="1061.2" cy="1533.2" r="7.0" fill="url(#gBl)"/>
<circle cx="1100.1" cy="1533.6" r="7.0" fill="url(#gBl)"/>
<circle cx="1155.9" cy="1534.0" r="7.0" fill="url(#gPu)"/>
<circle cx="1219.4" cy="1534.4" r="7.0" fill="url(#gPu)"/>
<circle cx="1256.1" cy="1534.5" r="7.0" fill="url(#gPu)"/>
<circle cx="1181.3" cy="1534.3" r="7.0" fill="url(#gPu)"/>
<circle cx="1142.5" cy="1534.7" r="7.0" fill="url(#gBl)"/>
<circle cx="1236.4" cy="1535.1" r="7.0" fill="url(#gPu)"/>
<circle cx="1319.7" cy="1535.5" r="7.0" fill="url(#gPu)"/>
<circle cx="1280.9" cy="1535.8" r="7.0" fill="url(#gPu)"/>
<circle cx="1045.0" cy="1535.2" r="7.0" fill="url(#gBl)"/>
<circle cx="1163.6" cy="1535.7" r="7.0" fill="url(#gPu)"/>
<circle cx="1291.9" cy="1034.4" r="6.8" fill="url(#gGr)"/>
<circle cx="1066.9" cy="1535.6" r="7.0" fill="url(#gBl)"/>
<circle cx="1205.2" cy="1536.5" r="7.0" fill="url(#gPu)"/>
<circle cx="1225.8" cy="1536.6" r="7.0" fill="url(#gPu)"/>
<circle cx="1125.1" cy="1536.6" r="7.0" fill="url(#gBl)"/>
<circle cx="1261.7" cy="1537.1" r="7.0" fill="url(#gPu)"/>
<circle cx="1027.1" cy="1536.3" r="7.0" fill="url(#gBl)"/>
<circle cx="1243.3" cy="1537.1" r="7.0" fill="url(#gPu)"/>
<circle cx="1052.3" cy="1536.9" r="7.0" fill="url(#gBl)"/>
<circle cx="1352.0" cy="1538.0" r="7.0" fill="url(#gPu)"/>
<circle cx="1091.9" cy="1537.3" r="7.0" fill="url(#gBl)"/>
<circle cx="1072.5" cy="1538.0" r="7.0" fill="url(#gBl)"/>
<circle cx="1194.6" cy="1538.5" r="7.0" fill="url(#gPu)"/>
<circle cx="1285.5" cy="1538.8" r="7.0" fill="url(#gPu)"/>
<circle cx="1232.4" cy="1538.7" r="7.0" fill="url(#gPu)"/>
<circle cx="1132.4" cy="1538.4" r="7.0" fill="url(#gBl)"/>
<circle cx="1168.1" cy="1538.6" r="7.0" fill="url(#gPu)"/>
<circle cx="1210.9" cy="1539.0" r="7.0" fill="url(#gPu)"/>
<circle cx="1033.2" cy="1538.5" r="7.0" fill="url(#gBl)"/>
<circle cx="1110.5" cy="1538.7" r="7.0" fill="url(#gBl)"/>
<circle cx="1099.3" cy="1539.1" r="7.0" fill="url(#gBl)"/>
<circle cx="1017.6" cy="1539.1" r="7.0" fill="url(#gBl)"/>
<circle cx="1120.1" cy="1539.6" r="7.0" fill="url(#gBl)"/>
<circle cx="1057.5" cy="1539.5" r="7.0" fill="url(#gBl)"/>
<circle cx="1176.3" cy="1540.1" r="7.0" fill="url(#gPu)"/>
<circle cx="1259.2" cy="1540.4" r="7.0" fill="url(#gPu)"/>
<circle cx="1276.9" cy="1540.7" r="7.0" fill="url(#gPu)"/>
<circle cx="1078.5" cy="1540.2" r="7.0" fill="url(#gBl)"/>
<circle cx="1239.1" cy="1540.9" r="7.0" fill="url(#gPu)"/>
<circle cx="1291.8" cy="1541.2" r="7.0" fill="url(#gPu)"/>
<circle cx="1200.1" cy="1541.1" r="7.0" fill="url(#gPu)"/>
<circle cx="1138.0" cy="1540.9" r="7.0" fill="url(#gBl)"/>
<circle cx="1311.0" cy="1036.7" r="6.8" fill="url(#gGr)"/>
<circle cx="1216.3" cy="1541.6" r="7.0" fill="url(#gPu)"/>
<circle cx="1227.4" cy="1541.9" r="7.0" fill="url(#gPu)"/>
<circle cx="1064.2" cy="1541.5" r="7.0" fill="url(#gBl)"/>
<circle cx="1248.0" cy="1542.1" r="7.0" fill="url(#gPu)"/>
<circle cx="1339.1" cy="1542.6" r="7.0" fill="url(#gPu)"/>
<circle cx="1159.7" cy="1542.0" r="7.0" fill="url(#gBl)"/>
<circle cx="1300.7" cy="1542.5" r="7.0" fill="url(#gPu)"/>
<circle cx="1022.6" cy="1541.7" r="7.0" fill="url(#gBl)"/>
<circle cx="1182.8" cy="1542.3" r="7.0" fill="url(#gPu)"/>
<circle cx="1265.3" cy="1542.8" r="7.0" fill="url(#gPu)"/>
<circle cx="1085.1" cy="1542.3" r="7.0" fill="url(#gBl)"/>
<circle cx="1283.2" cy="1543.1" r="7.0" fill="url(#gPu)"/>
<circle cx="1169.0" cy="1543.0" r="7.0" fill="url(#gBl)"/>
<circle cx="1031.4" cy="1542.9" r="7.0" fill="url(#gBl)"/>
<circle cx="1009.1" cy="1543.0" r="7.0" fill="url(#gBl)"/>
<circle cx="1326.7" cy="1544.1" r="7.0" fill="url(#gPu)"/>
<circle cx="1346.8" cy="1544.4" r="7.0" fill="url(#gPu)"/>
<circle cx="1291.9" cy="1544.4" r="7.0" fill="url(#gPu)"/>
<circle cx="1153.9" cy="1544.1" r="7.0" fill="url(#gBl)"/>
<circle cx="1068.8" cy="1544.3" r="7.0" fill="url(#gBl)"/>
<circle cx="1271.9" cy="1545.1" r="7.0" fill="url(#gPu)"/>
<circle cx="1252.6" cy="1545.2" r="7.0" fill="url(#gPu)"/>
<circle cx="1231.0" cy="1545.4" r="7.0" fill="url(#gPu)"/>
<circle cx="1016.2" cy="1544.8" r="7.0" fill="url(#gBl)"/>
<circle cx="1354.4" cy="1546.3" r="7.0" fill="url(#gPu)"/>
<circle cx="1333.6" cy="1546.3" r="7.0" fill="url(#gPu)"/>
<circle cx="1036.8" cy="1545.4" r="7.0" fill="url(#gBl)"/>
<circle cx="1077.3" cy="1545.6" r="7.0" fill="url(#gBl)"/>
<circle cx="1173.7" cy="1546.0" r="7.0" fill="url(#gBl)"/>
<circle cx="1279.9" cy="1546.8" r="7.0" fill="url(#gPu)"/>
<circle cx="1138.1" cy="1546.7" r="7.0" fill="url(#gBl)"/>
<circle cx="1195.4" cy="1546.9" r="7.0" fill="url(#gPu)"/>
<circle cx="1158.7" cy="1547.0" r="7.0" fill="url(#gBl)"/>
<circle cx="1059.5" cy="1546.7" r="7.0" fill="url(#gBl)"/>
<circle cx="1341.4" cy="1548.1" r="7.0" fill="url(#gPu)"/>
<circle cx="1181.4" cy="1547.7" r="7.0" fill="url(#gBl)"/>
<circle cx="1205.0" cy="1547.8" r="7.0" fill="url(#gPu)"/>
<circle cx="1361.0" cy="1548.7" r="7.0" fill="url(#gPu)"/>
<circle cx="1020.8" cy="1547.6" r="7.0" fill="url(#gBl)"/>
<circle cx="1124.4" cy="1548.0" r="7.0" fill="url(#gBl)"/>
<circle cx="1321.7" cy="1548.9" r="7.0" fill="url(#gPu)"/>
<circle cx="1268.0" cy="1548.8" r="7.0" fill="url(#gPu)"/>
<circle cx="1305.4" cy="1548.9" r="7.0" fill="url(#gPu)"/>
<circle cx="1166.8" cy="1548.5" r="7.0" fill="url(#gBl)"/>
<circle cx="1104.9" cy="1548.5" r="7.0" fill="url(#gBl)"/>
<circle cx="1066.8" cy="1548.4" r="7.0" fill="url(#gBl)"/>
<circle cx="1263.2" cy="1039.9" r="6.8" fill="url(#gGr)"/>
<circle cx="1143.5" cy="1549.3" r="7.0" fill="url(#gBl)"/>
<circle cx="1029.0" cy="1549.1" r="7.0" fill="url(#gBl)"/>
<circle cx="1226.7" cy="1549.9" r="7.0" fill="url(#gPu)"/>
<circle cx="1009.2" cy="1549.2" r="7.0" fill="url(#gBl)"/>
<circle cx="1348.1" cy="1550.5" r="7.0" fill="url(#gPu)"/>
<circle cx="1389.6" cy="1550.8" r="7.0" fill="url(#gPu)"/>
<circle cx="1329.7" cy="1550.7" r="7.0" fill="url(#gPu)"/>
<circle cx="1131.0" cy="1550.1" r="7.0" fill="url(#gBl)"/>
<circle cx="1186.9" cy="1550.4" r="7.0" fill="url(#gBl)"/>
<circle cx="1312.7" cy="1551.0" r="7.0" fill="url(#gPu)"/>
<circle cx="1209.8" cy="1550.8" r="7.0" fill="url(#gPu)"/>
<circle cx="1253.6" cy="1551.0" r="7.0" fill="url(#gPu)"/>
<circle cx="1235.7" cy="1551.1" r="7.0" fill="url(#gPu)"/>
<circle cx="991.0" cy="1550.4" r="7.0" fill="url(#gBl)"/>
<circle cx="1172.5" cy="1551.1" r="7.0" fill="url(#gBl)"/>
<circle cx="1109.8" cy="1551.4" r="7.0" fill="url(#gBl)"/>
<circle cx="1409.6" cy="1552.4" r="7.0" fill="url(#gPu)"/>
<circle cx="1015.5" cy="1551.4" r="7.0" fill="url(#gBl)"/>
<circle cx="1355.4" cy="1552.6" r="7.0" fill="url(#gPu)"/>
<circle cx="1034.0" cy="1551.8" r="7.0" fill="url(#gBl)"/>
<circle cx="1336.3" cy="1553.1" r="7.0" fill="url(#gPu)"/>
<circle cx="1087.8" cy="1040.8" r="6.8" fill="url(#gGr)"/>
<circle cx="1420.3" cy="1553.7" r="7.0" fill="url(#gPu)"/>
<circle cx="1260.5" cy="1553.2" r="7.0" fill="url(#gPu)"/>
<circle cx="1250.5" cy="1041.5" r="6.8" fill="url(#gGr)"/>
<circle cx="1394.6" cy="1553.9" r="7.0" fill="url(#gPu)"/>
<circle cx="1241.7" cy="1553.7" r="7.0" fill="url(#gPu)"/>
<circle cx="995.9" cy="1553.0" r="7.0" fill="url(#gBl)"/>
<circle cx="1383.8" cy="1554.7" r="7.0" fill="url(#gPu)"/>
<circle cx="1021.5" cy="1553.7" r="7.0" fill="url(#gBl)"/>
<circle cx="1391.0" cy="1555.0" r="7.0" fill="url(#gPu)"/>
<circle cx="1005.2" cy="1554.1" r="7.0" fill="url(#gBl)"/>
<circle cx="1403.4" cy="1555.4" r="7.0" fill="url(#gPu)"/>
<circle cx="1342.5" cy="1555.7" r="7.0" fill="url(#gPu)"/>
<circle cx="1288.0" cy="1555.7" r="7.0" fill="url(#gPu)"/>
<circle cx="1369.9" cy="1556.9" r="7.0" fill="url(#gPu)"/>
<circle cx="1390.5" cy="1557.1" r="7.0" fill="url(#gPu)"/>
<circle cx="1232.1" cy="1556.6" r="7.0" fill="url(#gPu)"/>
<circle cx="1304.6" cy="1556.9" r="7.0" fill="url(#gPu)"/>
<circle cx="1107.0" cy="1042.4" r="6.8" fill="url(#gGr)"/>
<circle cx="1284.0" cy="1043.0" r="6.8" fill="url(#gGr)"/>
<circle cx="1350.0" cy="1557.8" r="7.0" fill="url(#gPu)"/>
<circle cx="1295.7" cy="1557.6" r="7.0" fill="url(#gPu)"/>
<circle cx="1409.4" cy="1558.2" r="7.0" fill="url(#gPu)"/>
<circle cx="1313.3" cy="1558.4" r="7.0" fill="url(#gPu)"/>
<circle cx="1271.9" cy="1558.7" r="7.0" fill="url(#gPu)"/>
<circle cx="1376.7" cy="1559.3" r="7.0" fill="url(#gPu)"/>
<circle cx="1358.1" cy="1559.5" r="7.0" fill="url(#gPu)"/>
<circle cx="1396.6" cy="1559.9" r="7.0" fill="url(#gPu)"/>
<circle cx="1301.5" cy="1560.4" r="7.0" fill="url(#gPu)"/>
<circle cx="1320.5" cy="1560.6" r="7.0" fill="url(#gPu)"/>
<circle cx="1338.9" cy="1560.8" r="7.0" fill="url(#gPu)"/>
<circle cx="1279.4" cy="1560.7" r="7.0" fill="url(#gPu)"/>
<circle cx="1276.0" cy="1044.6" r="6.8" fill="url(#gGr)"/>
<circle cx="1261.4" cy="1560.8" r="7.0" fill="url(#gPu)"/>
<circle cx="1237.7" cy="1044.6" r="6.8" fill="url(#gGr)"/>
<circle cx="1189.9" cy="1044.6" r="6.8" fill="url(#gGr)"/>
<circle cx="1244.4" cy="1561.7" r="7.0" fill="url(#gPu)"/>
<circle cx="1329.1" cy="1562.1" r="7.0" fill="url(#gPu)"/>
<circle cx="1288.5" cy="1562.0" r="7.0" fill="url(#gPu)"/>
<circle cx="1347.0" cy="1562.6" r="7.0" fill="url(#gPu)"/>
<circle cx="1308.6" cy="1562.6" r="7.0" fill="url(#gPu)"/>
<circle cx="1268.4" cy="1563.0" r="7.0" fill="url(#gPu)"/>
<circle cx="1228.9" cy="1563.2" r="7.0" fill="url(#gBl)"/>
<circle cx="1337.2" cy="1564.0" r="7.0" fill="url(#gPu)"/>
<circle cx="1355.5" cy="1564.3" r="7.0" fill="url(#gPu)"/>
<circle cx="1250.7" cy="1564.3" r="7.0" fill="url(#gPu)"/>
<circle cx="1268.0" cy="1046.2" r="6.8" fill="url(#gGr)"/>
<circle cx="1315.5" cy="1565.0" r="7.0" fill="url(#gPu)"/>
<circle cx="1237.2" cy="1564.8" r="7.0" fill="url(#gBl)"/>
<circle cx="1218.6" cy="1046.2" r="6.8" fill="url(#gGr)"/>
<circle cx="1258.6" cy="1566.1" r="7.0" fill="url(#gPu)"/>
<circle cx="1065.5" cy="1046.2" r="6.8" fill="url(#gGr)"/>
<circle cx="1361.1" cy="1567.3" r="7.0" fill="url(#gPu)"/>
<circle cx="1341.2" cy="1567.7" r="7.0" fill="url(#gPu)"/>
<circle cx="1406.7" cy="1568.0" r="7.0" fill="url(#gPu)"/>
<circle cx="1205.8" cy="1047.2" r="6.8" fill="url(#gGr)"/>
<circle cx="1281.3" cy="1568.0" r="7.0" fill="url(#gPu)"/>
<circle cx="1352.0" cy="1568.3" r="7.0" fill="url(#gPu)"/>
<circle cx="1387.2" cy="1568.6" r="7.0" fill="url(#gPu)"/>
<circle cx="1241.6" cy="1568.2" r="7.0" fill="url(#gBl)"/>
<circle cx="1228.3" cy="1568.4" r="7.0" fill="url(#gBl)"/>
<circle cx="1256.8" cy="1047.8" r="6.8" fill="url(#gGr)"/>
<circle cx="1265.0" cy="1568.7" r="7.0" fill="url(#gPu)"/>
<circle cx="1369.2" cy="1569.2" r="7.0" fill="url(#gPu)"/>
<circle cx="1197.8" cy="1047.8" r="6.8" fill="url(#gGr)"/>
<circle cx="1290.7" cy="1569.3" r="7.0" fill="url(#gPu)"/>
<circle cx="1396.7" cy="1569.8" r="7.0" fill="url(#gPu)"/>
<circle cx="1308.0" cy="1569.6" r="7.0" fill="url(#gPu)"/>
<circle cx="1272.4" cy="1570.8" r="7.0" fill="url(#gPu)"/>
<circle cx="1376.9" cy="1571.3" r="7.0" fill="url(#gPu)"/>
<circle cx="1234.6" cy="1570.9" r="7.0" fill="url(#gBl)"/>
<circle cx="1338.2" cy="1571.3" r="7.0" fill="url(#gPu)"/>
<circle cx="1316.0" cy="1571.5" r="7.0" fill="url(#gPu)"/>
<circle cx="1256.9" cy="1572.2" r="7.0" fill="url(#gBl)"/>
<circle cx="1296.1" cy="1572.3" r="7.0" fill="url(#gPu)"/>
<circle cx="1199.0" cy="1572.2" r="7.0" fill="url(#gBl)"/>
<circle cx="1084.6" cy="1048.8" r="6.8" fill="url(#gGr)"/>
<circle cx="1220.9" cy="1572.7" r="7.0" fill="url(#gBl)"/>
<circle cx="1324.4" cy="1573.3" r="7.0" fill="url(#gPu)"/>
<circle cx="1365.1" cy="1573.6" r="7.0" fill="url(#gPu)"/>
<circle cx="1344.2" cy="1574.2" r="7.0" fill="url(#gPu)"/>
<circle cx="1264.7" cy="1574.2" r="7.0" fill="url(#gBl)"/>
<circle cx="1303.9" cy="1574.4" r="7.0" fill="url(#gPu)"/>
<circle cx="1239.0" cy="1574.3" r="7.0" fill="url(#gBl)"/>
<circle cx="1187.8" cy="1574.3" r="7.0" fill="url(#gBl)"/>
<circle cx="1248.9" cy="1575.4" r="7.0" fill="url(#gBl)"/>
<circle cx="1227.0" cy="1575.4" r="7.0" fill="url(#gBl)"/>
<circle cx="1170.7" cy="1050.4" r="6.8" fill="url(#gGr)"/>
<circle cx="1203.7" cy="1575.5" r="7.0" fill="url(#gBl)"/>
<circle cx="1372.1" cy="1576.1" r="7.0" fill="url(#gPu)"/>
<circle cx="1271.8" cy="1576.5" r="7.0" fill="url(#gBl)"/>
<circle cx="1229.7" cy="1051.0" r="6.8" fill="url(#gGr)"/>
<circle cx="1310.9" cy="1576.7" r="7.0" fill="url(#gPu)"/>
<circle cx="1350.1" cy="1577.1" r="7.0" fill="url(#gPu)"/>
<circle cx="1381.4" cy="1577.5" r="7.0" fill="url(#gPu)"/>
<circle cx="1294.6" cy="1577.3" r="7.0" fill="url(#gPu)"/>
<circle cx="1400.0" cy="1577.7" r="7.0" fill="url(#gPu)"/>
<circle cx="1233.9" cy="1577.8" r="7.0" fill="url(#gBl)"/>
<circle cx="1359.0" cy="1578.7" r="7.0" fill="url(#gPu)"/>
<circle cx="1318.1" cy="1579.1" r="7.0" fill="url(#gPu)"/>
<circle cx="1278.1" cy="1579.2" r="7.0" fill="url(#gBl)"/>
<circle cx="1201.3" cy="1579.1" r="7.0" fill="url(#gBl)"/>
<circle cx="1301.6" cy="1579.7" r="7.0" fill="url(#gPu)"/>
<circle cx="1218.5" cy="1579.7" r="7.0" fill="url(#gBl)"/>
<circle cx="1241.5" cy="1579.8" r="7.0" fill="url(#gBl)"/>
<circle cx="1280.8" cy="1052.6" r="6.8" fill="url(#gGr)"/>
<circle cx="1386.7" cy="1580.8" r="7.0" fill="url(#gPu)"/>
<circle cx="1326.8" cy="1580.8" r="7.0" fill="url(#gPu)"/>
<circle cx="1344.8" cy="1580.9" r="7.0" fill="url(#gPu)"/>
<circle cx="1185.8" cy="1580.8" r="7.0" fill="url(#gBl)"/>
<circle cx="1153.2" cy="1052.6" r="6.8" fill="url(#gGr)"/>
<circle cx="1286.0" cy="1581.2" r="7.0" fill="url(#gBl)"/>
<circle cx="1364.9" cy="1581.7" r="7.0" fill="url(#gPu)"/>
<circle cx="1407.4" cy="1582.0" r="7.0" fill="url(#gPu)"/>
<circle cx="1309.1" cy="1581.9" r="7.0" fill="url(#gPu)"/>
<circle cx="1205.8" cy="1582.5" r="7.0" fill="url(#gBl)"/>
<circle cx="1247.1" cy="1582.8" r="7.0" fill="url(#gBl)"/>
<circle cx="1223.9" cy="1582.8" r="7.0" fill="url(#gBl)"/>
<circle cx="1393.7" cy="1583.4" r="7.0" fill="url(#gPu)"/>
<circle cx="1333.8" cy="1583.3" r="7.0" fill="url(#gPu)"/>
<circle cx="1351.3" cy="1583.6" r="7.0" fill="url(#gPu)"/>
<circle cx="1373.1" cy="1583.7" r="7.0" fill="url(#gPu)"/>
<circle cx="1292.6" cy="1583.8" r="7.0" fill="url(#gBl)"/>
<circle cx="1362.1" cy="1584.4" r="7.0" fill="url(#gPu)"/>
<circle cx="1190.9" cy="1583.9" r="7.0" fill="url(#gBl)"/>
<circle cx="1316.0" cy="1584.5" r="7.0" fill="url(#gPu)"/>
<circle cx="1233.0" cy="1584.2" r="7.0" fill="url(#gBl)"/>
<circle cx="1213.1" cy="1584.7" r="7.0" fill="url(#gBl)"/>
<circle cx="1322.2" cy="1054.8" r="6.8" fill="url(#gGr)"/>
<circle cx="1254.4" cy="1585.1" r="7.0" fill="url(#gBl)"/>
<circle cx="1276.0" cy="1585.4" r="7.0" fill="url(#gBl)"/>
<circle cx="1300.7" cy="1585.7" r="7.0" fill="url(#gBl)"/>
<circle cx="1199.1" cy="1585.8" r="7.0" fill="url(#gBl)"/>
<circle cx="1324.2" cy="1586.4" r="7.0" fill="url(#gPu)"/>
<circle cx="1369.2" cy="1586.9" r="7.0" fill="url(#gPu)"/>
<circle cx="1285.0" cy="1586.9" r="7.0" fill="url(#gBl)"/>
<circle cx="1220.5" cy="1586.9" r="7.0" fill="url(#gBl)"/>
<circle cx="1261.6" cy="1587.4" r="7.0" fill="url(#gBl)"/>
<circle cx="1252.1" cy="1055.8" r="6.8" fill="url(#gGr)"/>
<circle cx="1234.5" cy="1055.8" r="6.8" fill="url(#gGr)"/>
<circle cx="1331.7" cy="1588.7" r="7.0" fill="url(#gPu)"/>
<circle cx="1170.7" cy="1055.8" r="6.8" fill="url(#gGr)"/>
<circle cx="1161.7" cy="1588.7" r="7.0" fill="url(#gBl)"/>
<circle cx="1375.9" cy="1589.6" r="7.0" fill="url(#gPu)"/>
<circle cx="1188.1" cy="1589.0" r="7.0" fill="url(#gBl)"/>
<circle cx="1226.3" cy="1589.9" r="7.0" fill="url(#gBl)"/>
<circle cx="1395.7" cy="1590.7" r="7.0" fill="url(#gPu)"/>
<circle cx="1289.5" cy="1590.5" r="7.0" fill="url(#gBl)"/>
<circle cx="1220.2" cy="1056.8" r="6.8" fill="url(#gGr)"/>
<circle cx="1236.3" cy="1591.0" r="7.0" fill="url(#gBl)"/>
<circle cx="1211.6" cy="1591.2" r="7.0" fill="url(#gBl)"/>
<circle cx="1309.4" cy="1057.4" r="6.8" fill="url(#gGr)"/>
<circle cx="1195.1" cy="1591.4" r="7.0" fill="url(#gBl)"/>
<circle cx="1405.2" cy="1592.2" r="7.0" fill="url(#gPu)"/>
<circle cx="1298.9" cy="1592.0" r="7.0" fill="url(#gBl)"/>
<circle cx="1382.4" cy="1592.5" r="7.0" fill="url(#gPu)"/>
<circle cx="1161.2" cy="1057.4" r="6.8" fill="url(#gGr)"/>
<circle cx="1133.4" cy="1057.4" r="6.8" fill="url(#gGr)"/>
<circle cx="1362.3" cy="1593.3" r="7.0" fill="url(#gPu)"/>
<circle cx="1511.6" cy="1594.0" r="7.0" fill="url(#gPu)"/>
<circle cx="1321.7" cy="1593.3" r="7.0" fill="url(#gBl)"/>
<circle cx="1153.7" cy="1592.9" r="7.0" fill="url(#gBl)"/>
<circle cx="1262.2" cy="1593.5" r="7.0" fill="url(#gBl)"/>
<circle cx="1218.6" cy="1593.6" r="7.0" fill="url(#gBl)"/>
<circle cx="1284.6" cy="1594.0" r="7.0" fill="url(#gBl)"/>
<circle cx="1201.5" cy="1594.1" r="7.0" fill="url(#gBl)"/>
<circle cx="1209.0" cy="1058.4" r="6.8" fill="url(#gGr)"/>
<circle cx="1162.6" cy="1594.5" r="7.0" fill="url(#gBl)"/>
<circle cx="1185.5" cy="1594.6" r="7.0" fill="url(#gBl)"/>
<circle cx="1370.3" cy="1595.4" r="7.0" fill="url(#gPu)"/>
<circle cx="1304.4" cy="1595.2" r="7.0" fill="url(#gBl)"/>
<circle cx="1329.8" cy="1595.4" r="7.0" fill="url(#gBl)"/>
<circle cx="1410.5" cy="1595.8" r="7.0" fill="url(#gPu)"/>
<circle cx="1301.5" cy="1059.0" r="6.8" fill="url(#gGr)"/>
<circle cx="1107.0" cy="1058.4" r="6.8" fill="url(#gGr)"/>
<circle cx="1226.7" cy="1595.6" r="7.0" fill="url(#gBl)"/>
<circle cx="1496.7" cy="1596.8" r="7.0" fill="url(#gPu)"/>
<circle cx="1518.5" cy="1596.9" r="7.0" fill="url(#gPu)"/>
<circle cx="1199.4" cy="1059.0" r="6.8" fill="url(#gGr)"/>
<circle cx="1292.2" cy="1596.3" r="7.0" fill="url(#gBl)"/>
<circle cx="1181.9" cy="1059.0" r="6.8" fill="url(#gGr)"/>
<circle cx="1313.9" cy="1596.6" r="7.0" fill="url(#gBl)"/>
<circle cx="1268.0" cy="1596.6" r="7.0" fill="url(#gBl)"/>
<circle cx="1248.6" cy="1596.7" r="7.0" fill="url(#gBl)"/>
<circle cx="1208.4" cy="1596.6" r="7.0" fill="url(#gBl)"/>
<circle cx="1379.2" cy="1597.2" r="7.0" fill="url(#gPu)"/>
<circle cx="1170.5" cy="1596.5" r="7.0" fill="url(#gBl)"/>
<circle cx="1419.8" cy="1597.4" r="7.0" fill="url(#gPu)"/>
<circle cx="1337.6" cy="1597.7" r="7.0" fill="url(#gBl)"/>
<circle cx="1148.5" cy="1597.2" r="7.0" fill="url(#gBl)"/>
<circle cx="1395.8" cy="1598.2" r="7.0" fill="url(#gPu)"/>
<circle cx="1505.7" cy="1598.6" r="7.0" fill="url(#gPu)"/>
<circle cx="1191.3" cy="1597.6" r="7.0" fill="url(#gBl)"/>
<circle cx="1277.6" cy="1597.9" r="7.0" fill="url(#gBl)"/>
<circle cx="1234.0" cy="1598.0" r="7.0" fill="url(#gBl)"/>
<circle cx="1360.8" cy="1598.6" r="7.0" fill="url(#gPu)"/>
<circle cx="1300.1" cy="1598.5" r="7.0" fill="url(#gBl)"/>
<circle cx="1256.4" cy="1598.9" r="7.0" fill="url(#gBl)"/>
<circle cx="1484.7" cy="1599.7" r="7.0" fill="url(#gPu)"/>
<circle cx="1216.0" cy="1598.8" r="7.0" fill="url(#gBl)"/>
<circle cx="1405.7" cy="1599.5" r="7.0" fill="url(#gPu)"/>
<circle cx="1427.8" cy="1599.6" r="7.0" fill="url(#gPu)"/>
<circle cx="1386.1" cy="1600.0" r="7.0" fill="url(#gPu)"/>
<circle cx="1370.6" cy="1600.0" r="7.0" fill="url(#gPu)"/>
<circle cx="1514.5" cy="1600.6" r="7.0" fill="url(#gPu)"/>
<circle cx="1319.1" cy="1600.1" r="7.0" fill="url(#gBl)"/>
<circle cx="1155.2" cy="1599.8" r="7.0" fill="url(#gBl)"/>
<circle cx="1241.6" cy="1600.2" r="7.0" fill="url(#gBl)"/>
<circle cx="1153.2" cy="1060.6" r="6.8" fill="url(#gGr)"/>
<circle cx="1197.8" cy="1600.3" r="7.0" fill="url(#gBl)"/>
<circle cx="1224.2" cy="1600.8" r="7.0" fill="url(#gBl)"/>
<circle cx="1436.4" cy="1601.6" r="7.0" fill="url(#gPu)"/>
<circle cx="1283.1" cy="1601.2" r="7.0" fill="url(#gBl)"/>
<circle cx="1504.3" cy="1602.6" r="7.0" fill="url(#gPu)"/>
<circle cx="1305.1" cy="1602.0" r="7.0" fill="url(#gBl)"/>
<circle cx="1262.4" cy="1601.9" r="7.0" fill="url(#gBl)"/>
<circle cx="1393.8" cy="1602.4" r="7.0" fill="url(#gPu)"/>
<circle cx="1491.3" cy="1602.8" r="7.0" fill="url(#gPu)"/>
<circle cx="1411.9" cy="1602.6" r="7.0" fill="url(#gPu)"/>
<circle cx="1162.8" cy="1601.9" r="7.0" fill="url(#gBl)"/>
<circle cx="1205.7" cy="1602.4" r="7.0" fill="url(#gBl)"/>
<circle cx="1325.8" cy="1602.9" r="7.0" fill="url(#gBl)"/>
<circle cx="1376.3" cy="1603.3" r="7.0" fill="url(#gPu)"/>
<circle cx="1291.6" cy="1603.1" r="7.0" fill="url(#gBl)"/>
<circle cx="1295.1" cy="1062.2" r="6.8" fill="url(#gGr)"/>
<circle cx="1484.7" cy="1603.8" r="7.0" fill="url(#gPu)"/>
<circle cx="1285.5" cy="1062.2" r="6.8" fill="url(#gGr)"/>
<circle cx="1247.0" cy="1603.5" r="7.0" fill="url(#gBl)"/>
<circle cx="1230.6" cy="1603.6" r="7.0" fill="url(#gBl)"/>
<circle cx="1443.7" cy="1604.3" r="7.0" fill="url(#gPu)"/>
<circle cx="1271.0" cy="1603.8" r="7.0" fill="url(#gBl)"/>
<circle cx="1313.4" cy="1604.1" r="7.0" fill="url(#gBl)"/>
<circle cx="1462.4" cy="1605.1" r="7.0" fill="url(#gPu)"/>
<circle cx="1419.6" cy="1605.1" r="7.0" fill="url(#gPu)"/>
<circle cx="1401.0" cy="1605.1" r="7.0" fill="url(#gPu)"/>
<circle cx="1345.7" cy="1605.5" r="7.0" fill="url(#gBl)"/>
<circle cx="1212.0" cy="1605.2" r="7.0" fill="url(#gBl)"/>
<circle cx="1279.7" cy="1605.6" r="7.0" fill="url(#gBl)"/>
<circle cx="1383.4" cy="1606.0" r="7.0" fill="url(#gPu)"/>
<circle cx="1255.0" cy="1605.6" r="7.0" fill="url(#gBl)"/>
<circle cx="1298.1" cy="1606.0" r="7.0" fill="url(#gBl)"/>
<circle cx="1491.3" cy="1606.9" r="7.0" fill="url(#gPu)"/>
<circle cx="1450.9" cy="1607.1" r="7.0" fill="url(#gPu)"/>
<circle cx="1428.0" cy="1607.2" r="7.0" fill="url(#gPu)"/>
<circle cx="1393.3" cy="1607.4" r="7.0" fill="url(#gPu)"/>
<circle cx="1277.6" cy="1063.8" r="6.8" fill="url(#gGr)"/>
<circle cx="1367.1" cy="1607.8" r="7.0" fill="url(#gBl)"/>
<circle cx="1220.0" cy="1607.3" r="7.0" fill="url(#gBl)"/>
<circle cx="1262.9" cy="1607.9" r="7.0" fill="url(#gBl)"/>
<circle cx="1500.1" cy="1609.0" r="7.0" fill="url(#gPu)"/>
<circle cx="1436.2" cy="1609.5" r="7.0" fill="url(#gPu)"/>
<circle cx="1350.5" cy="1609.3" r="7.0" fill="url(#gBl)"/>
<circle cx="1327.6" cy="1609.3" r="7.0" fill="url(#gBl)"/>
<circle cx="1284.4" cy="1609.3" r="7.0" fill="url(#gBl)"/>
<circle cx="1375.5" cy="1609.9" r="7.0" fill="url(#gBl)"/>
<circle cx="1314.9" cy="1610.1" r="7.0" fill="url(#gBl)"/>
<circle cx="1382.8" cy="1065.4" r="6.8" fill="url(#gGr)"/>
<circle cx="1226.3" cy="1610.2" r="7.0" fill="url(#gBl)"/>
<circle cx="1359.5" cy="1611.1" r="7.0" fill="url(#gBl)"/>
<circle cx="1269.6" cy="1065.4" r="6.8" fill="url(#gGr)"/>
<circle cx="1263.2" cy="1065.4" r="6.8" fill="url(#gGr)"/>
<circle cx="1293.2" cy="1611.2" r="7.0" fill="url(#gBl)"/>
<circle cx="1336.0" cy="1611.4" r="7.0" fill="url(#gBl)"/>
<circle cx="1234.7" cy="1612.3" r="7.0" fill="url(#gBl)"/>
<circle cx="1375.0" cy="1066.5" r="6.8" fill="url(#gGr)"/>
<circle cx="1321.5" cy="1613.0" r="7.0" fill="url(#gBl)"/>
<circle cx="1345.2" cy="1613.2" r="7.0" fill="url(#gBl)"/>
<circle cx="1260.8" cy="1613.1" r="7.0" fill="url(#gBl)"/>
<circle cx="1452.9" cy="1614.0" r="7.0" fill="url(#gPu)"/>
<circle cx="1366.5" cy="1613.9" r="7.0" fill="url(#gBl)"/>
<circle cx="1275.4" cy="1613.9" r="7.0" fill="url(#gBl)"/>
<circle cx="1432.7" cy="1614.7" r="7.0" fill="url(#gPu)"/>
<circle cx="1494.3" cy="1615.0" r="7.0" fill="url(#gPu)"/>
<circle cx="1285.8" cy="1615.0" r="7.0" fill="url(#gBl)"/>
<circle cx="1352.9" cy="1615.6" r="7.0" fill="url(#gBl)"/>
<circle cx="1388.7" cy="1616.0" r="7.0" fill="url(#gBl)"/>
<circle cx="1328.5" cy="1615.8" r="7.0" fill="url(#gBl)"/>
<circle cx="1413.6" cy="1616.4" r="7.0" fill="url(#gPu)"/>
<circle cx="1368.0" cy="1067.8" r="6.8" fill="url(#gGr)"/>
<circle cx="1460.5" cy="1616.7" r="7.0" fill="url(#gPu)"/>
<circle cx="1267.1" cy="1616.1" r="7.0" fill="url(#gBl)"/>
<circle cx="1373.8" cy="1616.6" r="7.0" fill="url(#gBl)"/>
<circle cx="1482.4" cy="1617.1" r="7.0" fill="url(#gPu)"/>
<circle cx="1423.2" cy="1618.0" r="7.0" fill="url(#gPu)"/>
<circle cx="1438.6" cy="1618.2" r="7.0" fill="url(#gPu)"/>
<circle cx="1396.8" cy="1618.3" r="7.0" fill="url(#gBl)"/>
<circle cx="1292.3" cy="1618.0" r="7.0" fill="url(#gBl)"/>
<circle cx="1382.5" cy="1618.7" r="7.0" fill="url(#gBl)"/>
<circle cx="1335.2" cy="1618.7" r="7.0" fill="url(#gBl)"/>
<circle cx="1274.3" cy="1618.8" r="7.0" fill="url(#gBl)"/>
<circle cx="1244.1" cy="1068.6" r="6.8" fill="url(#gGr)"/>
<circle cx="1467.3" cy="1619.8" r="7.0" fill="url(#gPu)"/>
<circle cx="1345.3" cy="1620.1" r="7.0" fill="url(#gBl)"/>
<circle cx="1300.8" cy="1620.1" r="7.0" fill="url(#gBl)"/>
<circle cx="1405.2" cy="1620.6" r="7.0" fill="url(#gBl)"/>
<circle cx="1360.0" cy="1069.5" r="6.8" fill="url(#gGr)"/>
<circle cx="1324.9" cy="1620.5" r="7.0" fill="url(#gBl)"/>
<circle cx="1429.6" cy="1621.3" r="7.0" fill="url(#gPu)"/>
<circle cx="1476.9" cy="1621.5" r="7.0" fill="url(#gPu)"/>
<circle cx="1281.1" cy="1621.6" r="7.0" fill="url(#gBl)"/>
<circle cx="1265.4" cy="1621.8" r="7.0" fill="url(#gBl)"/>
<circle cx="1414.1" cy="1622.6" r="7.0" fill="url(#gBl)"/>
<circle cx="1352.6" cy="1622.8" r="7.0" fill="url(#gBl)"/>
<circle cx="1353.0" cy="1070.5" r="6.8" fill="url(#gGr)"/>
<circle cx="1332.9" cy="1622.9" r="7.0" fill="url(#gBl)"/>
<circle cx="1237.7" cy="1070.2" r="6.8" fill="url(#gGr)"/>
<circle cx="1437.9" cy="1623.7" r="7.0" fill="url(#gPu)"/>
<circle cx="1288.9" cy="1624.1" r="7.0" fill="url(#gBl)"/>
<circle cx="1463.6" cy="1625.2" r="7.0" fill="url(#gPu)"/>
<circle cx="1271.1" cy="1625.2" r="7.0" fill="url(#gBl)"/>
<circle cx="1359.3" cy="1625.9" r="7.0" fill="url(#gBl)"/>
<circle cx="1346.0" cy="1071.8" r="6.8" fill="url(#gGr)"/>
<circle cx="1382.9" cy="1626.2" r="7.0" fill="url(#gBl)"/>
<circle cx="1338.8" cy="1626.3" r="7.0" fill="url(#gBl)"/>
<circle cx="1296.4" cy="1626.6" r="7.0" fill="url(#gBl)"/>
<circle cx="1404.2" cy="1627.2" r="7.0" fill="url(#gBl)"/>
<circle cx="1430.5" cy="1627.4" r="7.0" fill="url(#gBl)"/>
<circle cx="1256.5" cy="1626.9" r="7.0" fill="url(#gBl)"/>
<circle cx="1471.9" cy="1627.7" r="7.0" fill="url(#gPu)"/>
<circle cx="1367.7" cy="1628.1" r="7.0" fill="url(#gBl)"/>
<circle cx="1454.3" cy="1628.6" r="7.0" fill="url(#gPu)"/>
<circle cx="1277.5" cy="1628.3" r="7.0" fill="url(#gBl)"/>
<circle cx="1413.9" cy="1628.9" r="7.0" fill="url(#gBl)"/>
<circle cx="1390.5" cy="1628.9" r="7.0" fill="url(#gBl)"/>
<circle cx="1439.2" cy="1629.6" r="7.0" fill="url(#gBl)"/>
<circle cx="1264.3" cy="1629.3" r="7.0" fill="url(#gBl)"/>
<circle cx="1339.0" cy="1073.3" r="6.8" fill="url(#gGr)"/>
<circle cx="1331.4" cy="1630.3" r="7.0" fill="url(#gBl)"/>
<circle cx="1286.5" cy="1630.2" r="7.0" fill="url(#gBl)"/>
<circle cx="1219.5" cy="1073.3" r="6.8" fill="url(#gGr)"/>
<circle cx="1399.7" cy="1630.9" r="7.0" fill="url(#gBl)"/>
<circle cx="1461.8" cy="1631.5" r="7.0" fill="url(#gPu)"/>
<circle cx="1421.6" cy="1631.6" r="7.0" fill="url(#gBl)"/>
<circle cx="1340.4" cy="1632.3" r="7.0" fill="url(#gBl)"/>
<circle cx="1270.4" cy="1632.6" r="7.0" fill="url(#gBl)"/>
<circle cx="1294.0" cy="1632.9" r="7.0" fill="url(#gBl)"/>
<circle cx="1322.2" cy="1633.0" r="7.0" fill="url(#gBl)"/>
<circle cx="1363.1" cy="1633.6" r="7.0" fill="url(#gBl)"/>
<circle cx="1331.8" cy="1074.9" r="6.8" fill="url(#gGr)"/>
<circle cx="1382.2" cy="1633.9" r="7.0" fill="url(#gBl)"/>
<circle cx="1406.2" cy="1634.2" r="7.0" fill="url(#gBl)"/>
<circle cx="1455.8" cy="1634.6" r="7.0" fill="url(#gBl)"/>
<circle cx="1427.9" cy="1635.0" r="7.0" fill="url(#gBl)"/>
<circle cx="1302.2" cy="1635.2" r="7.0" fill="url(#gBl)"/>
<circle cx="1347.0" cy="1635.5" r="7.0" fill="url(#gBl)"/>
<circle cx="1277.4" cy="1635.5" r="7.0" fill="url(#gBl)"/>
<circle cx="1438.9" cy="1636.1" r="7.0" fill="url(#gBl)"/>
<circle cx="1414.9" cy="1636.4" r="7.0" fill="url(#gBl)"/>
<circle cx="1328.9" cy="1636.2" r="7.0" fill="url(#gBl)"/>
<circle cx="1390.3" cy="1636.4" r="7.0" fill="url(#gBl)"/>
<circle cx="1370.2" cy="1636.6" r="7.0" fill="url(#gBl)"/>
<circle cx="1286.3" cy="1637.5" r="7.0" fill="url(#gBl)"/>
<circle cx="1354.9" cy="1638.1" r="7.0" fill="url(#gBl)"/>
<circle cx="1399.4" cy="1638.5" r="7.0" fill="url(#gBl)"/>
<circle cx="1423.9" cy="1638.6" r="7.0" fill="url(#gBl)"/>
<circle cx="1263.8" cy="1638.1" r="7.0" fill="url(#gBl)"/>
<circle cx="1308.6" cy="1638.5" r="7.0" fill="url(#gBl)"/>
<circle cx="1336.3" cy="1639.0" r="7.0" fill="url(#gBl)"/>
<circle cx="1378.1" cy="1639.2" r="7.0" fill="url(#gBl)"/>
<circle cx="1294.0" cy="1640.1" r="7.0" fill="url(#gBl)"/>
<circle cx="1272.7" cy="1640.1" r="7.0" fill="url(#gBl)"/>
<circle cx="1362.7" cy="1640.7" r="7.0" fill="url(#gBl)"/>
<circle cx="1407.4" cy="1641.1" r="7.0" fill="url(#gBl)"/>
<circle cx="1387.5" cy="1641.1" r="7.0" fill="url(#gBl)"/>
<circle cx="1430.4" cy="1642.0" r="7.0" fill="url(#gBl)"/>
<circle cx="1396.1" cy="1643.4" r="7.0" fill="url(#gBl)"/>
<circle cx="1369.5" cy="1643.9" r="7.0" fill="url(#gBl)"/>
<circle cx="1352.5" cy="1644.0" r="7.0" fill="url(#gBl)"/>
<circle cx="1337.0" cy="1644.0" r="7.0" fill="url(#gBl)"/>
<circle cx="1414.4" cy="1644.3" r="7.0" fill="url(#gBl)"/>
<circle cx="1310.8" cy="1644.8" r="7.0" fill="url(#gBl)"/>
<circle cx="1378.8" cy="1645.9" r="7.0" fill="url(#gBl)"/>
<circle cx="1424.0" cy="1646.2" r="7.0" fill="url(#gBl)"/>
<circle cx="1402.7" cy="1646.8" r="7.0" fill="url(#gBl)"/>
<circle cx="1359.8" cy="1647.0" r="7.0" fill="url(#gBl)"/>
<circle cx="1319.4" cy="1647.1" r="7.0" fill="url(#gBl)"/>
<circle cx="1339.8" cy="1649.2" r="7.0" fill="url(#gBl)"/>
<circle cx="1410.4" cy="1649.7" r="7.0" fill="url(#gBl)"/>
<circle cx="1367.7" cy="1649.7" r="7.0" fill="url(#gBl)"/>
<circle cx="1349.4" cy="1651.0" r="7.0" fill="url(#gBl)"/>
<circle cx="1419.3" cy="1652.0" r="7.0" fill="url(#gBl)"/>
<circle cx="1393.5" cy="1652.0" r="7.0" fill="url(#gBl)"/>
<circle cx="1372.9" cy="1653.9" r="7.0" fill="url(#gBl)"/>
<circle cx="1356.7" cy="1654.0" r="7.0" fill="url(#gBl)"/>
<circle cx="1402.4" cy="1654.3" r="7.0" fill="url(#gBl)"/>
<circle cx="1365.3" cy="1656.5" r="7.0" fill="url(#gBl)"/>
<circle cx="1410.4" cy="1657.1" r="7.0" fill="url(#gBl)"/>
<circle cx="1524.7" cy="1086.1" r="6.8" fill="url(#gGr)"/>
<circle cx="1520.0" cy="1086.5" r="6.8" fill="url(#gGr)"/>
<circle cx="1400.2" cy="1660.5" r="7.0" fill="url(#gBl)"/>
<circle cx="1514.0" cy="1087.0" r="6.8" fill="url(#gGr)"/>
<circle cx="1508.0" cy="1088.0" r="6.8" fill="url(#gGr)"/>
<circle cx="1502.0" cy="1089.0" r="6.8" fill="url(#gGr)"/>
<circle cx="1496.0" cy="1090.0" r="6.8" fill="url(#gGr)"/>
<circle cx="1490.0" cy="1091.0" r="6.8" fill="url(#gGr)"/>
<circle cx="1510.0" cy="1092.0" r="6.8" fill="url(#gGr)"/>
<circle cx="1484.8" cy="1092.5" r="6.8" fill="url(#gGr)"/>
<circle cx="1500.0" cy="1094.0" r="6.8" fill="url(#gGr)"/>
<line x1="928.0" y1="1569.4" x2="906.8" y2="1071.1" stroke="#000" stroke-width="2.3" stroke-linecap="square"/>
<line x1="928.0" y1="1569.4" x2="1318.6" y2="1711.0" stroke="#000" stroke-width="2.3" stroke-linecap="square"/>
<line x1="1318.6" y1="1711.0" x2="1628.9" y2="1548.4" stroke="#000" stroke-width="2.3" stroke-linecap="square"/>
<line x1="928.0" y1="1569.4" x2="918.8" y2="1572.8" stroke="#000" stroke-width="2.2" stroke-linecap="round"/>
<line x1="922.9" y1="1450.5" x2="913.6" y2="1453.6" stroke="#000" stroke-width="2.2" stroke-linecap="round"/>
<line x1="917.7" y1="1328.0" x2="908.2" y2="1330.6" stroke="#000" stroke-width="2.2" stroke-linecap="round"/>
<line x1="912.3" y1="1201.6" x2="902.6" y2="1203.7" stroke="#000" stroke-width="2.2" stroke-linecap="round"/>
<line x1="906.8" y1="1071.1" x2="896.9" y2="1072.7" stroke="#000" stroke-width="2.2" stroke-linecap="round"/>
<line x1="928.0" y1="1569.4" x2="918.8" y2="1572.8" stroke="#000" stroke-width="2.0" stroke-linecap="round"/>
<line x1="961.8" y1="1581.6" x2="957.3" y2="1583.4" stroke="#000" stroke-width="2.0" stroke-linecap="round"/>
<line x1="996.6" y1="1594.2" x2="987.4" y2="1597.9" stroke="#000" stroke-width="2.0" stroke-linecap="round"/>
<line x1="1032.4" y1="1607.2" x2="1027.8" y2="1609.1" stroke="#000" stroke-width="2.0" stroke-linecap="round"/>
<line x1="1069.1" y1="1620.5" x2="1060.0" y2="1624.4" stroke="#000" stroke-width="2.0" stroke-linecap="round"/>
<line x1="1107.0" y1="1634.2" x2="1102.4" y2="1636.2" stroke="#000" stroke-width="2.0" stroke-linecap="round"/>
<line x1="1145.9" y1="1648.3" x2="1136.8" y2="1652.4" stroke="#000" stroke-width="2.0" stroke-linecap="round"/>
<line x1="1186.0" y1="1662.9" x2="1181.5" y2="1665.0" stroke="#000" stroke-width="2.0" stroke-linecap="round"/>
<line x1="1227.3" y1="1677.8" x2="1218.3" y2="1682.2" stroke="#000" stroke-width="2.0" stroke-linecap="round"/>
<line x1="1269.8" y1="1693.3" x2="1265.4" y2="1695.5" stroke="#000" stroke-width="2.0" stroke-linecap="round"/>
<line x1="1313.7" y1="1709.2" x2="1304.8" y2="1713.8" stroke="#000" stroke-width="2.0" stroke-linecap="round"/>
<line x1="1318.6" y1="1711.0" x2="1329.5" y2="1714.9" stroke="#000" stroke-width="2.0" stroke-linecap="round"/>
<line x1="1397.3" y1="1669.8" x2="1408.0" y2="1673.4" stroke="#000" stroke-width="2.0" stroke-linecap="round"/>
<line x1="1469.8" y1="1631.7" x2="1480.4" y2="1635.1" stroke="#000" stroke-width="2.0" stroke-linecap="round"/>
<line x1="1537.0" y1="1596.5" x2="1547.4" y2="1599.7" stroke="#000" stroke-width="2.0" stroke-linecap="round"/>
<line x1="1599.4" y1="1563.9" x2="1609.6" y2="1566.8" stroke="#000" stroke-width="2.0" stroke-linecap="round"/>
<line x1="1358.8" y1="1689.9" x2="1364.2" y2="1691.8" stroke="#000" stroke-width="2.0" stroke-linecap="round"/>
<line x1="1434.3" y1="1650.4" x2="1439.6" y2="1652.1" stroke="#000" stroke-width="2.0" stroke-linecap="round"/>
<line x1="1504.1" y1="1613.8" x2="1509.3" y2="1615.4" stroke="#000" stroke-width="2.0" stroke-linecap="round"/>
<line x1="1568.8" y1="1579.9" x2="1573.9" y2="1581.4" stroke="#000" stroke-width="2.0" stroke-linecap="round"/>
<line x1="1628.9" y1="1548.4" x2="1634.0" y2="1549.8" stroke="#000" stroke-width="2.0" stroke-linecap="round"/>
<text transform="matrix(0.22454,-0.08498,0.19687,0.07226,919.19,1577.57)" font-size="100" text-anchor="end" dy="0.0" stroke="#000" stroke-width="2.2" style="font-family:'Liberation Serif','Times New Roman',serif;font-weight:bold">0</text>
<text transform="matrix(0.22404,-0.08984,0.20801,0.07635,988.21,1602.91)" font-size="100" text-anchor="end" dy="0.0" stroke="#000" stroke-width="2.2" style="font-family:'Liberation Serif','Times New Roman',serif;font-weight:bold">400</text>
<text transform="matrix(0.22312,-0.09511,0.22012,0.08080,1061.20,1629.69)" font-size="100" text-anchor="end" dy="0.0" stroke="#000" stroke-width="2.2" style="font-family:'Liberation Serif','Times New Roman',serif;font-weight:bold">800</text>
<text transform="matrix(0.22170,-0.10087,0.23333,0.08564,1138.50,1658.07)" font-size="100" text-anchor="end" dy="0.0" stroke="#000" stroke-width="2.2" style="font-family:'Liberation Serif','Times New Roman',serif;font-weight:bold">1200</text>
<text transform="matrix(0.21969,-0.10716,0.24775,0.09094,1220.50,1688.17)" font-size="100" text-anchor="end" dy="0.0" stroke="#000" stroke-width="2.2" style="font-family:'Liberation Serif','Times New Roman',serif;font-weight:bold">1600</text>
<text transform="matrix(0.21698,-0.11405,0.26356,0.09674,1307.66,1720.16)" font-size="100" text-anchor="end" dy="0.0" stroke="#000" stroke-width="2.2" style="font-family:'Liberation Serif','Times New Roman',serif;font-weight:bold">2000</text>
<text transform="matrix(0.26571,0.09690,-0.21482,0.11423,1328.75,1721.03)" font-size="100" text-anchor="start" dy="0.0" stroke="#000" stroke-width="2.2" style="font-family:'Liberation Serif','Times New Roman',serif;font-weight:bold">0.4</text>
<text transform="matrix(0.26191,0.08925,-0.19775,0.10515,1407.72,1679.04)" font-size="100" text-anchor="start" dy="0.0" stroke="#000" stroke-width="2.2" style="font-family:'Liberation Serif','Times New Roman',serif;font-weight:bold">0.6</text>
<text transform="matrix(0.25789,0.08249,-0.18264,0.09712,1480.53,1640.32)" font-size="100" text-anchor="start" dy="0.0" stroke="#000" stroke-width="2.2" style="font-family:'Liberation Serif','Times New Roman',serif;font-weight:bold">0.8</text>
<text transform="matrix(0.25373,0.07646,-0.16919,0.08997,1547.88,1604.50)" font-size="100" text-anchor="start" dy="0.0" stroke="#000" stroke-width="2.2" style="font-family:'Liberation Serif','Times New Roman',serif;font-weight:bold">1.0</text>
<text transform="matrix(0.24948,0.07108,-0.15718,0.08358,1610.36,1571.28)" font-size="100" text-anchor="start" dy="0.0" stroke="#000" stroke-width="2.2" style="font-family:'Liberation Serif','Times New Roman',serif;font-weight:bold">1.2</text>
<text transform="matrix(0.26436,0.10305,-0.27436,0.12140,1032.85,1678.15)" font-size="100" text-anchor="middle" dy="0.0" stroke="#000" stroke-width="2.2" style="font-family:'Liberation Serif','Times New Roman',serif;font-weight:bold">Number of prediction samples</text>
<text transform="matrix(0.20302,-0.11430,0.30892,0.09706,1564.01,1649.43)" font-size="100" text-anchor="middle" dy="0.0" stroke="#000" stroke-width="2.2" style="font-family:'Liberation Serif','Times New Roman',serif;font-weight:bold">Tolerance factor (t)</text>
<circle cx="983.7" cy="1203.3" r="7.5" fill="url(#gGr)"/><circle cx="983.7" cy="1241.5" r="7.5" fill="url(#gBl)"/><text x="1027.3" y="1214.0" font-size="30.4" style="font-family:'Liberation Serif','Times New Roman',serif;font-weight:bold">1 (c/a &gt; 1.2)</text><text x="1027.3" y="1252.0" font-size="30.4" style="font-family:'Liberation Serif','Times New Roman',serif;font-weight:bold">0 (c/a &lt; 1.2)</text>
<text x="906.4" y="1020.0" font-size="48" style="font-family:'Liberation Serif','Times New Roman',serif;font-weight:bold">(c)</text>
<clipPath id="clip_d"><polygon points="219.7,2261.1 602.7,2384.1 617.4,1852.6 209.1,1793.8"/></clipPath>
<polygon points="66.7,2318.8 395.0,2195.0 395.1,1763.5 45.5,1820.5" fill="#f2f2f2" />
<polygon points="395.0,2195.0 766.5,2298.1 790.2,1812.3 395.1,1763.5" fill="#e6fefb" />
<polygon points="66.7,2318.8 456.6,2460.8 766.5,2298.1 395.0,2195.0" fill="#f7fcee" />
<line x1="120.0" y1="2298.7" x2="102.7" y2="1811.2" stroke="#c6c6c6" stroke-width="1.0" />
<line x1="120.0" y1="2298.7" x2="507.9" y2="2433.9" stroke="#c6c6c6" stroke-width="1.0" />
<line x1="171.0" y1="2279.5" x2="157.2" y2="1802.3" stroke="#c6c6c6" stroke-width="1.0" />
<line x1="171.0" y1="2279.5" x2="556.5" y2="2408.4" stroke="#c6c6c6" stroke-width="1.0" />
<line x1="219.7" y1="2261.1" x2="209.1" y2="1793.8" stroke="#c6c6c6" stroke-width="1.0" />
<line x1="219.7" y1="2261.1" x2="602.7" y2="2384.1" stroke="#c6c6c6" stroke-width="1.0" />
<line x1="266.3" y1="2243.5" x2="258.8" y2="1785.7" stroke="#c6c6c6" stroke-width="1.0" />
<line x1="266.3" y1="2243.5" x2="646.6" y2="2361.1" stroke="#c6c6c6" stroke-width="1.0" />
<line x1="311.0" y1="2226.7" x2="306.2" y2="1778.0" stroke="#c6c6c6" stroke-width="1.0" />
<line x1="311.0" y1="2226.7" x2="688.5" y2="2339.1" stroke="#c6c6c6" stroke-width="1.0" />
<line x1="353.8" y1="2210.5" x2="351.6" y2="1770.6" stroke="#c6c6c6" stroke-width="1.0" />
<line x1="353.8" y1="2210.5" x2="728.4" y2="2318.1" stroke="#c6c6c6" stroke-width="1.0" />
<line x1="56.4" y1="2077.5" x2="395.0" y2="1985.0" stroke="#c6c6c6" stroke-width="1.0" />
<line x1="395.0" y1="1985.0" x2="778.0" y2="2062.7" stroke="#c6c6c6" stroke-width="1.0" />
<line x1="461.4" y1="2213.4" x2="465.3" y2="1772.2" stroke="#c6c6c6" stroke-width="1.0" />
<line x1="135.2" y1="2343.7" x2="461.4" y2="2213.4" stroke="#c6c6c6" stroke-width="1.0" />
<line x1="531.1" y1="2232.7" x2="539.1" y2="1781.3" stroke="#c6c6c6" stroke-width="1.0" />
<line x1="207.6" y1="2370.1" x2="531.1" y2="2232.7" stroke="#c6c6c6" stroke-width="1.0" />
<line x1="604.2" y1="2253.0" x2="616.9" y2="1790.9" stroke="#c6c6c6" stroke-width="1.0" />
<line x1="284.2" y1="2398.0" x2="604.2" y2="2253.0" stroke="#c6c6c6" stroke-width="1.0" />
<line x1="681.1" y1="2274.4" x2="698.8" y2="1801.0" stroke="#c6c6c6" stroke-width="1.0" />
<line x1="365.5" y1="2427.6" x2="681.1" y2="2274.4" stroke="#c6c6c6" stroke-width="1.0" />
<line x1="762.0" y1="2296.8" x2="785.3" y2="1811.7" stroke="#c6c6c6" stroke-width="1.0" />
<line x1="451.7" y1="2459.1" x2="762.0" y2="2296.8" stroke="#c6c6c6" stroke-width="1.0" />
<line x1="45.5" y1="1820.5" x2="395.1" y2="1763.5" stroke="#6a6a6a" stroke-width="0.9" />
<line x1="395.1" y1="1763.5" x2="790.2" y2="1812.3" stroke="#6a6a6a" stroke-width="0.9" />
<line x1="395.0" y1="2195.0" x2="395.1" y2="1763.5" stroke="#6a6a6a" stroke-width="0.9" />
<line x1="66.7" y1="2318.8" x2="395.0" y2="2195.0" stroke="#6a6a6a" stroke-width="0.9" />
<line x1="395.0" y1="2195.0" x2="766.5" y2="2298.1" stroke="#6a6a6a" stroke-width="0.9" />
<line x1="766.5" y1="2298.1" x2="790.2" y2="1812.3" stroke="#6a6a6a" stroke-width="0.9" />
<g clip-path="url(#clip_d)">
<polygon points="66.7,2318.8 395.0,2195.0 395.1,1763.5 45.5,1820.5" fill="#e8dbed" />
<polygon points="395.0,2195.0 766.5,2298.1 790.2,1812.3 395.1,1763.5" fill="#d9effe" />
<polygon points="66.7,2318.8 456.6,2460.8 766.5,2298.1 395.0,2195.0" fill="#f5e9e0" />
<line x1="120.0" y1="2298.7" x2="102.7" y2="1811.2" stroke="#dea4ee" stroke-width="1.1" />
<line x1="120.0" y1="2298.7" x2="507.9" y2="2433.9" stroke="#dea4ee" stroke-width="1.1" />
<line x1="171.0" y1="2279.5" x2="157.2" y2="1802.3" stroke="#dea4ee" stroke-width="1.1" />
<line x1="171.0" y1="2279.5" x2="556.5" y2="2408.4" stroke="#dea4ee" stroke-width="1.1" />
<line x1="219.7" y1="2261.1" x2="209.1" y2="1793.8" stroke="#dea4ee" stroke-width="1.1" />
<line x1="219.7" y1="2261.1" x2="602.7" y2="2384.1" stroke="#dea4ee" stroke-width="1.1" />
<line x1="266.3" y1="2243.5" x2="258.8" y2="1785.7" stroke="#dea4ee" stroke-width="1.1" />
<line x1="266.3" y1="2243.5" x2="646.6" y2="2361.1" stroke="#dea4ee" stroke-width="1.1" />
<line x1="311.0" y1="2226.7" x2="306.2" y2="1778.0" stroke="#dea4ee" stroke-width="1.1" />
<line x1="311.0" y1="2226.7" x2="688.5" y2="2339.1" stroke="#dea4ee" stroke-width="1.1" />
<line x1="353.8" y1="2210.5" x2="351.6" y2="1770.6" stroke="#dea4ee" stroke-width="1.1" />
<line x1="353.8" y1="2210.5" x2="728.4" y2="2318.1" stroke="#dea4ee" stroke-width="1.1" />
<line x1="56.4" y1="2077.5" x2="395.0" y2="1985.0" stroke="#dea4ee" stroke-width="1.1" />
<line x1="395.0" y1="1985.0" x2="778.0" y2="2062.7" stroke="#dea4ee" stroke-width="1.1" />
<line x1="461.4" y1="2213.4" x2="465.3" y2="1772.2" stroke="#dea4ee" stroke-width="1.1" />
<line x1="135.2" y1="2343.7" x2="461.4" y2="2213.4" stroke="#dea4ee" stroke-width="1.1" />
<line x1="531.1" y1="2232.7" x2="539.1" y2="1781.3" stroke="#dea4ee" stroke-width="1.1" />
<line x1="207.6" y1="2370.1" x2="531.1" y2="2232.7" stroke="#dea4ee" stroke-width="1.1" />
<line x1="604.2" y1="2253.0" x2="616.9" y2="1790.9" stroke="#dea4ee" stroke-width="1.1" />
<line x1="284.2" y1="2398.0" x2="604.2" y2="2253.0" stroke="#dea4ee" stroke-width="1.1" />
<line x1="681.1" y1="2274.4" x2="698.8" y2="1801.0" stroke="#dea4ee" stroke-width="1.1" />
<line x1="365.5" y1="2427.6" x2="681.1" y2="2274.4" stroke="#dea4ee" stroke-width="1.1" />
<line x1="762.0" y1="2296.8" x2="785.3" y2="1811.7" stroke="#dea4ee" stroke-width="1.1" />
<line x1="451.7" y1="2459.1" x2="762.0" y2="2296.8" stroke="#dea4ee" stroke-width="1.1" />
<line x1="45.5" y1="1820.5" x2="395.1" y2="1763.5" stroke="#b070c0" stroke-width="1.0" />
<line x1="395.1" y1="1763.5" x2="790.2" y2="1812.3" stroke="#b070c0" stroke-width="1.0" />
<line x1="395.0" y1="2195.0" x2="395.1" y2="1763.5" stroke="#b070c0" stroke-width="1.0" />
<line x1="66.7" y1="2318.8" x2="395.0" y2="2195.0" stroke="#b070c0" stroke-width="1.0" />
<line x1="395.0" y1="2195.0" x2="766.5" y2="2298.1" stroke="#b070c0" stroke-width="1.0" />
<line x1="766.5" y1="2298.1" x2="790.2" y2="1812.3" stroke="#b070c0" stroke-width="1.0" />
</g>
<line x1="287.5" y1="2282.9" x2="280.9" y2="1804.1" stroke="#c6c6c6" stroke-width="1.0" />
<line x1="358.9" y1="2305.8" x2="356.7" y2="1815.1" stroke="#c6c6c6" stroke-width="1.0" />
<line x1="434.3" y1="2330.0" x2="437.0" y2="1826.6" stroke="#c6c6c6" stroke-width="1.0" />
<line x1="513.8" y1="2355.6" x2="522.0" y2="1838.9" stroke="#c6c6c6" stroke-width="1.0" />
<line x1="214.6" y1="2034.3" x2="609.8" y2="2127.4" stroke="#c6c6c6" stroke-width="1.0" />
<line x1="209.1" y1="1793.8" x2="617.4" y2="1852.6" stroke="#6a6a6a" stroke-width="0.9" />
<line x1="219.7" y1="2261.1" x2="209.1" y2="1793.8" stroke="#6a6a6a" stroke-width="0.9" />
<line x1="602.7" y1="2384.1" x2="617.4" y2="1852.6" stroke="#6a6a6a" stroke-width="0.9" />
<line x1="219.7" y1="2261.1" x2="602.7" y2="2384.1" stroke="#6a6a6a" stroke-width="0.9" />
<line x1="45.5" y1="1820.5" x2="461.5" y2="1888.9" stroke="#6a6a6a" stroke-width="0.9" />
<line x1="461.5" y1="1888.9" x2="790.2" y2="1812.3" stroke="#6a6a6a" stroke-width="0.9" />
<line x1="456.6" y1="2460.8" x2="461.5" y2="1888.9" stroke="#6a6a6a" stroke-width="0.9" />
<linearGradient id="tg11" gradientUnits="userSpaceOnUse" x1="168.1" y1="2285.6" x2="164.0" y2="2297.7"><stop offset="0" stop-color="#1808e0"/><stop offset="0.1" stop-color="#0800ff"/><stop offset="0.32" stop-color="#1000ff"/><stop offset="0.44" stop-color="#9c9cff"/><stop offset="0.54" stop-color="#b4b4ff"/><stop offset="0.66" stop-color="#2a1cff"/><stop offset="0.86" stop-color="#1a00ff"/><stop offset="1" stop-color="#3410d0"/></linearGradient><circle cx="151.6" cy="2286.8" r="6.4" fill="url(#tg11)"/><polygon points="153.7,2280.7 182.5,2290.5 178.4,2302.6 149.6,2292.8" fill="url(#tg11)"/><circle cx="180.5" cy="2296.6" r="6.4" fill="url(#tg11)"/>
<linearGradient id="tg36" gradientUnits="userSpaceOnUse" x1="474.5" y1="2298.2" x2="470.7" y2="2310.4"><stop offset="0" stop-color="#2000e0"/><stop offset="0.1" stop-color="#2200ff"/><stop offset="0.32" stop-color="#2a00ff"/><stop offset="0.44" stop-color="#d4a4ff"/><stop offset="0.54" stop-color="#e6b8ff"/><stop offset="0.66" stop-color="#4a10ff"/><stop offset="0.86" stop-color="#3400ff"/><stop offset="1" stop-color="#5a14d8"/></linearGradient><circle cx="468.4" cy="2303.0" r="6.4" fill="url(#tg36)"/><polygon points="470.2,2296.9 478.7,2299.5 474.9,2311.7 466.5,2309.1" fill="url(#tg36)"/><circle cx="476.8" cy="2305.6" r="6.4" fill="url(#tg36)"/>
<linearGradient id="tg48" gradientUnits="userSpaceOnUse" x1="671.5" y1="2302.8" x2="667.9" y2="2315.1"><stop offset="0" stop-color="#2000e0"/><stop offset="0.1" stop-color="#2200ff"/><stop offset="0.32" stop-color="#2a00ff"/><stop offset="0.44" stop-color="#d4a4ff"/><stop offset="0.54" stop-color="#e6b8ff"/><stop offset="0.66" stop-color="#4a10ff"/><stop offset="0.86" stop-color="#3400ff"/><stop offset="1" stop-color="#5a14d8"/></linearGradient><circle cx="665.1" cy="2307.6" r="6.4" fill="url(#tg48)"/><polygon points="666.9,2301.5 676.0,2304.1 672.4,2316.4 663.3,2313.8" fill="url(#tg48)"/><circle cx="674.2" cy="2310.3" r="6.4" fill="url(#tg48)"/>
<linearGradient id="tg49" gradientUnits="userSpaceOnUse" x1="684.2" y1="2303.6" x2="680.6" y2="2315.9"><stop offset="0" stop-color="#2000e0"/><stop offset="0.1" stop-color="#2200ff"/><stop offset="0.32" stop-color="#2a00ff"/><stop offset="0.44" stop-color="#d4a4ff"/><stop offset="0.54" stop-color="#e6b8ff"/><stop offset="0.66" stop-color="#4a10ff"/><stop offset="0.86" stop-color="#3400ff"/><stop offset="1" stop-color="#5a14d8"/></linearGradient><circle cx="677.8" cy="2308.4" r="6.4" fill="url(#tg49)"/><polygon points="679.6,2302.3 688.8,2304.9 685.2,2317.2 676.1,2314.6" fill="url(#tg49)"/><circle cx="687.0" cy="2311.1" r="6.4" fill="url(#tg49)"/>
<linearGradient id="tg12" gradientUnits="userSpaceOnUse" x1="173.9" y1="2304.7" x2="169.7" y2="2316.8"><stop offset="0" stop-color="#1808e0"/><stop offset="0.1" stop-color="#0800ff"/><stop offset="0.32" stop-color="#1000ff"/><stop offset="0.44" stop-color="#9c9cff"/><stop offset="0.54" stop-color="#b4b4ff"/><stop offset="0.66" stop-color="#2a1cff"/><stop offset="0.86" stop-color="#1a00ff"/><stop offset="1" stop-color="#3410d0"/></linearGradient><circle cx="157.0" cy="2305.6" r="6.4" fill="url(#tg12)"/><polygon points="159.1,2299.6 188.7,2309.8 184.5,2321.9 154.9,2311.7" fill="url(#tg12)"/><circle cx="186.6" cy="2315.9" r="6.4" fill="url(#tg12)"/>
<linearGradient id="tg45" gradientUnits="userSpaceOnUse" x1="609.9" y1="2308.4" x2="606.3" y2="2320.6"><stop offset="0" stop-color="#2000e0"/><stop offset="0.1" stop-color="#2200ff"/><stop offset="0.32" stop-color="#2a00ff"/><stop offset="0.44" stop-color="#d4a4ff"/><stop offset="0.54" stop-color="#e6b8ff"/><stop offset="0.66" stop-color="#4a10ff"/><stop offset="0.86" stop-color="#3400ff"/><stop offset="1" stop-color="#5a14d8"/></linearGradient><circle cx="603.6" cy="2313.2" r="6.4" fill="url(#tg45)"/><polygon points="605.4,2307.0 614.4,2309.7 610.7,2322.0 601.8,2319.3" fill="url(#tg45)"/><circle cx="612.6" cy="2315.8" r="6.4" fill="url(#tg45)"/>
<linearGradient id="tg16" gradientUnits="userSpaceOnUse" x1="362.0" y1="2309.2" x2="358.1" y2="2321.3"><stop offset="0" stop-color="#1808e0"/><stop offset="0.1" stop-color="#0800ff"/><stop offset="0.32" stop-color="#1000ff"/><stop offset="0.44" stop-color="#9c9cff"/><stop offset="0.54" stop-color="#b4b4ff"/><stop offset="0.66" stop-color="#2a1cff"/><stop offset="0.86" stop-color="#1a00ff"/><stop offset="1" stop-color="#3410d0"/></linearGradient><circle cx="355.9" cy="2313.9" r="6.4" fill="url(#tg16)"/><polygon points="357.9,2307.8 366.1,2310.5 362.2,2322.7 353.9,2320.0" fill="url(#tg16)"/><circle cx="364.2" cy="2316.6" r="6.4" fill="url(#tg16)"/>
<linearGradient id="tg32" gradientUnits="userSpaceOnUse" x1="413.9" y1="2310.9" x2="410.0" y2="2323.1"><stop offset="0" stop-color="#2000e0"/><stop offset="0.1" stop-color="#2200ff"/><stop offset="0.32" stop-color="#2a00ff"/><stop offset="0.44" stop-color="#d4a4ff"/><stop offset="0.54" stop-color="#e6b8ff"/><stop offset="0.66" stop-color="#4a10ff"/><stop offset="0.86" stop-color="#3400ff"/><stop offset="1" stop-color="#5a14d8"/></linearGradient><circle cx="407.7" cy="2315.7" r="6.4" fill="url(#tg32)"/><polygon points="409.7,2309.6 418.1,2312.3 414.2,2324.5 405.8,2321.8" fill="url(#tg32)"/><circle cx="416.1" cy="2318.4" r="6.4" fill="url(#tg32)"/>
<linearGradient id="tg46" gradientUnits="userSpaceOnUse" x1="611.6" y1="2312.1" x2="607.9" y2="2324.3"><stop offset="0" stop-color="#2000e0"/><stop offset="0.1" stop-color="#2200ff"/><stop offset="0.32" stop-color="#2a00ff"/><stop offset="0.44" stop-color="#d4a4ff"/><stop offset="0.54" stop-color="#e6b8ff"/><stop offset="0.66" stop-color="#4a10ff"/><stop offset="0.86" stop-color="#3400ff"/><stop offset="1" stop-color="#5a14d8"/></linearGradient><circle cx="605.2" cy="2316.9" r="6.4" fill="url(#tg46)"/><polygon points="607.0,2310.7 616.1,2313.4 612.4,2325.7 603.4,2323.0" fill="url(#tg46)"/><circle cx="614.2" cy="2319.6" r="6.4" fill="url(#tg46)"/>
<linearGradient id="tg33" gradientUnits="userSpaceOnUse" x1="422.6" y1="2312.0" x2="418.8" y2="2324.2"><stop offset="0" stop-color="#2000e0"/><stop offset="0.1" stop-color="#2200ff"/><stop offset="0.32" stop-color="#2a00ff"/><stop offset="0.44" stop-color="#d4a4ff"/><stop offset="0.54" stop-color="#e6b8ff"/><stop offset="0.66" stop-color="#4a10ff"/><stop offset="0.86" stop-color="#3400ff"/><stop offset="1" stop-color="#5a14d8"/></linearGradient><circle cx="416.5" cy="2316.8" r="6.4" fill="url(#tg33)"/><polygon points="418.4,2310.7 426.9,2313.4 423.0,2325.6 414.5,2322.9" fill="url(#tg33)"/><circle cx="424.9" cy="2319.5" r="6.4" fill="url(#tg33)"/>
<linearGradient id="tg43" gradientUnits="userSpaceOnUse" x1="590.5" y1="2312.7" x2="586.8" y2="2325.0"><stop offset="0" stop-color="#2000e0"/><stop offset="0.1" stop-color="#2200ff"/><stop offset="0.32" stop-color="#2a00ff"/><stop offset="0.44" stop-color="#d4a4ff"/><stop offset="0.54" stop-color="#e6b8ff"/><stop offset="0.66" stop-color="#4a10ff"/><stop offset="0.86" stop-color="#3400ff"/><stop offset="1" stop-color="#5a14d8"/></linearGradient><circle cx="584.2" cy="2317.5" r="6.4" fill="url(#tg43)"/><polygon points="586.0,2311.4 595.0,2314.1 591.3,2326.3 582.3,2323.6" fill="url(#tg43)"/><circle cx="593.1" cy="2320.2" r="6.4" fill="url(#tg43)"/>
<linearGradient id="tg34" gradientUnits="userSpaceOnUse" x1="431.6" y1="2313.9" x2="427.8" y2="2326.1"><stop offset="0" stop-color="#2000e0"/><stop offset="0.1" stop-color="#2200ff"/><stop offset="0.32" stop-color="#2a00ff"/><stop offset="0.44" stop-color="#d4a4ff"/><stop offset="0.54" stop-color="#e6b8ff"/><stop offset="0.66" stop-color="#4a10ff"/><stop offset="0.86" stop-color="#3400ff"/><stop offset="1" stop-color="#5a14d8"/></linearGradient><circle cx="425.5" cy="2318.6" r="6.4" fill="url(#tg34)"/><polygon points="427.4,2312.5 435.9,2315.2 432.0,2327.4 423.5,2324.7" fill="url(#tg34)"/><circle cx="433.9" cy="2321.3" r="6.4" fill="url(#tg34)"/>
<linearGradient id="tg13" gradientUnits="userSpaceOnUse" x1="197.4" y1="2317.6" x2="193.2" y2="2329.7"><stop offset="0" stop-color="#1808e0"/><stop offset="0.1" stop-color="#0800ff"/><stop offset="0.32" stop-color="#1000ff"/><stop offset="0.44" stop-color="#9c9cff"/><stop offset="0.54" stop-color="#b4b4ff"/><stop offset="0.66" stop-color="#2a1cff"/><stop offset="0.86" stop-color="#1a00ff"/><stop offset="1" stop-color="#3410d0"/></linearGradient><circle cx="180.2" cy="2318.4" r="6.4" fill="url(#tg13)"/><polygon points="182.3,2312.4 212.6,2322.9 208.3,2335.0 178.1,2324.5" fill="url(#tg13)"/><circle cx="210.5" cy="2329.0" r="6.4" fill="url(#tg13)"/>
<linearGradient id="tg47" gradientUnits="userSpaceOnUse" x1="631.6" y1="2320.2" x2="628.0" y2="2332.4"><stop offset="0" stop-color="#2000e0"/><stop offset="0.1" stop-color="#2200ff"/><stop offset="0.32" stop-color="#2a00ff"/><stop offset="0.44" stop-color="#d4a4ff"/><stop offset="0.54" stop-color="#e6b8ff"/><stop offset="0.66" stop-color="#4a10ff"/><stop offset="0.86" stop-color="#3400ff"/><stop offset="1" stop-color="#5a14d8"/></linearGradient><circle cx="625.2" cy="2324.9" r="6.4" fill="url(#tg47)"/><polygon points="627.1,2318.8 636.2,2321.5 632.5,2333.8 623.4,2331.1" fill="url(#tg47)"/><circle cx="634.4" cy="2327.7" r="6.4" fill="url(#tg47)"/>
<linearGradient id="tg37" gradientUnits="userSpaceOnUse" x1="497.1" y1="2320.3" x2="493.3" y2="2332.5"><stop offset="0" stop-color="#2000e0"/><stop offset="0.1" stop-color="#2200ff"/><stop offset="0.32" stop-color="#2a00ff"/><stop offset="0.44" stop-color="#d4a4ff"/><stop offset="0.54" stop-color="#e6b8ff"/><stop offset="0.66" stop-color="#4a10ff"/><stop offset="0.86" stop-color="#3400ff"/><stop offset="1" stop-color="#5a14d8"/></linearGradient><circle cx="490.8" cy="2325.1" r="6.4" fill="url(#tg37)"/><polygon points="492.7,2318.9 501.5,2321.7 497.7,2333.9 488.9,2331.2" fill="url(#tg37)"/><circle cx="499.6" cy="2327.8" r="6.4" fill="url(#tg37)"/>
<linearGradient id="tg38" gradientUnits="userSpaceOnUse" x1="497.2" y1="2324.0" x2="493.3" y2="2336.2"><stop offset="0" stop-color="#2000e0"/><stop offset="0.1" stop-color="#2200ff"/><stop offset="0.32" stop-color="#2a00ff"/><stop offset="0.44" stop-color="#d4a4ff"/><stop offset="0.54" stop-color="#e6b8ff"/><stop offset="0.66" stop-color="#4a10ff"/><stop offset="0.86" stop-color="#3400ff"/><stop offset="1" stop-color="#5a14d8"/></linearGradient><circle cx="490.9" cy="2328.7" r="6.4" fill="url(#tg38)"/><polygon points="492.8,2322.6 501.6,2325.4 497.7,2337.6 488.9,2334.9" fill="url(#tg38)"/><circle cx="499.7" cy="2331.5" r="6.4" fill="url(#tg38)"/>
<linearGradient id="tg31" gradientUnits="userSpaceOnUse" x1="422.8" y1="2325.1" x2="418.8" y2="2337.2"><stop offset="0" stop-color="#1808e0"/><stop offset="0.1" stop-color="#0800ff"/><stop offset="0.32" stop-color="#1000ff"/><stop offset="0.44" stop-color="#9c9cff"/><stop offset="0.54" stop-color="#b4b4ff"/><stop offset="0.66" stop-color="#2a1cff"/><stop offset="0.86" stop-color="#1a00ff"/><stop offset="1" stop-color="#3410d0"/></linearGradient><circle cx="416.5" cy="2329.8" r="6.4" fill="url(#tg31)"/><polygon points="418.5,2323.7 427.1,2326.5 423.1,2338.6 414.5,2335.9" fill="url(#tg31)"/><circle cx="425.1" cy="2332.5" r="6.4" fill="url(#tg31)"/>
<linearGradient id="tg21" gradientUnits="userSpaceOnUse" x1="368.5" y1="2326.6" x2="364.5" y2="2338.7"><stop offset="0" stop-color="#1808e0"/><stop offset="0.1" stop-color="#0800ff"/><stop offset="0.32" stop-color="#1000ff"/><stop offset="0.44" stop-color="#9c9cff"/><stop offset="0.54" stop-color="#b4b4ff"/><stop offset="0.66" stop-color="#2a1cff"/><stop offset="0.86" stop-color="#1a00ff"/><stop offset="1" stop-color="#3410d0"/></linearGradient><circle cx="362.3" cy="2331.3" r="6.4" fill="url(#tg21)"/><polygon points="364.3,2325.2 372.7,2328.0 368.7,2340.1 360.2,2337.4" fill="url(#tg21)"/><circle cx="370.7" cy="2334.1" r="6.4" fill="url(#tg21)"/>
<linearGradient id="tg20" gradientUnits="userSpaceOnUse" x1="354.5" y1="2327.7" x2="350.5" y2="2339.9"><stop offset="0" stop-color="#1808e0"/><stop offset="0.1" stop-color="#0800ff"/><stop offset="0.32" stop-color="#1000ff"/><stop offset="0.44" stop-color="#9c9cff"/><stop offset="0.54" stop-color="#b4b4ff"/><stop offset="0.66" stop-color="#2a1cff"/><stop offset="0.86" stop-color="#1a00ff"/><stop offset="1" stop-color="#3410d0"/></linearGradient><circle cx="348.3" cy="2332.4" r="6.4" fill="url(#tg20)"/><polygon points="350.3,2326.3 358.7,2329.1 354.7,2341.3 346.3,2338.5" fill="url(#tg20)"/><circle cx="356.7" cy="2335.2" r="6.4" fill="url(#tg20)"/>
<linearGradient id="tg39" gradientUnits="userSpaceOnUse" x1="513.2" y1="2329.1" x2="509.4" y2="2341.3"><stop offset="0" stop-color="#2000e0"/><stop offset="0.1" stop-color="#2200ff"/><stop offset="0.32" stop-color="#2a00ff"/><stop offset="0.44" stop-color="#d4a4ff"/><stop offset="0.54" stop-color="#e6b8ff"/><stop offset="0.66" stop-color="#4a10ff"/><stop offset="0.86" stop-color="#3400ff"/><stop offset="1" stop-color="#5a14d8"/></linearGradient><circle cx="506.9" cy="2333.8" r="6.4" fill="url(#tg39)"/><polygon points="508.8,2327.7 517.7,2330.5 513.9,2342.7 505.0,2339.9" fill="url(#tg39)"/><circle cx="515.8" cy="2336.6" r="6.4" fill="url(#tg39)"/>
<linearGradient id="tg14" gradientUnits="userSpaceOnUse" x1="224.4" y1="2329.8" x2="220.2" y2="2341.9"><stop offset="0" stop-color="#1808e0"/><stop offset="0.1" stop-color="#0800ff"/><stop offset="0.32" stop-color="#1000ff"/><stop offset="0.44" stop-color="#9c9cff"/><stop offset="0.54" stop-color="#b4b4ff"/><stop offset="0.66" stop-color="#2a1cff"/><stop offset="0.86" stop-color="#1a00ff"/><stop offset="1" stop-color="#3410d0"/></linearGradient><circle cx="206.8" cy="2330.5" r="6.4" fill="url(#tg14)"/><polygon points="208.9,2324.4 239.9,2335.2 235.7,2347.3 204.7,2336.5" fill="url(#tg14)"/><circle cx="237.8" cy="2341.3" r="6.4" fill="url(#tg14)"/>
<linearGradient id="tg17" gradientUnits="userSpaceOnUse" x1="320.9" y1="2332.1" x2="316.9" y2="2344.2"><stop offset="0" stop-color="#1808e0"/><stop offset="0.1" stop-color="#0800ff"/><stop offset="0.32" stop-color="#1000ff"/><stop offset="0.44" stop-color="#9c9cff"/><stop offset="0.54" stop-color="#b4b4ff"/><stop offset="0.66" stop-color="#2a1cff"/><stop offset="0.86" stop-color="#1a00ff"/><stop offset="1" stop-color="#3410d0"/></linearGradient><circle cx="314.7" cy="2336.7" r="6.4" fill="url(#tg17)"/><polygon points="316.8,2330.7 325.1,2333.5 321.0,2345.6 312.7,2342.8" fill="url(#tg17)"/><circle cx="323.1" cy="2339.6" r="6.4" fill="url(#tg17)"/>
<linearGradient id="tg42" gradientUnits="userSpaceOnUse" x1="575.3" y1="2333.9" x2="571.5" y2="2346.1"><stop offset="0" stop-color="#2000e0"/><stop offset="0.1" stop-color="#2200ff"/><stop offset="0.32" stop-color="#2a00ff"/><stop offset="0.44" stop-color="#d4a4ff"/><stop offset="0.54" stop-color="#e6b8ff"/><stop offset="0.66" stop-color="#4a10ff"/><stop offset="0.86" stop-color="#3400ff"/><stop offset="1" stop-color="#5a14d8"/></linearGradient><circle cx="568.8" cy="2338.6" r="6.4" fill="url(#tg42)"/><polygon points="570.7,2332.5 579.9,2335.3 576.1,2347.5 567.0,2344.7" fill="url(#tg42)"/><circle cx="578.0" cy="2341.4" r="6.4" fill="url(#tg42)"/>
<linearGradient id="tg41" gradientUnits="userSpaceOnUse" x1="538.0" y1="2334.6" x2="534.2" y2="2346.8"><stop offset="0" stop-color="#2000e0"/><stop offset="0.1" stop-color="#2200ff"/><stop offset="0.32" stop-color="#2a00ff"/><stop offset="0.44" stop-color="#d4a4ff"/><stop offset="0.54" stop-color="#e6b8ff"/><stop offset="0.66" stop-color="#4a10ff"/><stop offset="0.86" stop-color="#3400ff"/><stop offset="1" stop-color="#5a14d8"/></linearGradient><circle cx="531.6" cy="2339.3" r="6.4" fill="url(#tg41)"/><polygon points="533.5,2333.2 542.5,2336.0 538.7,2348.3 529.7,2345.4" fill="url(#tg41)"/><circle cx="540.6" cy="2342.1" r="6.4" fill="url(#tg41)"/>
<circle cx="135.3" cy="1805.5" r="7.1" fill="url(#gGr)"/><circle cx="140.5" cy="1806.2" r="7.1" fill="url(#gGr)"/>
<linearGradient id="tg18" gradientUnits="userSpaceOnUse" x1="324.5" y1="2337.6" x2="320.4" y2="2349.7"><stop offset="0" stop-color="#1808e0"/><stop offset="0.1" stop-color="#0800ff"/><stop offset="0.32" stop-color="#1000ff"/><stop offset="0.44" stop-color="#9c9cff"/><stop offset="0.54" stop-color="#b4b4ff"/><stop offset="0.66" stop-color="#2a1cff"/><stop offset="0.86" stop-color="#1a00ff"/><stop offset="1" stop-color="#3410d0"/></linearGradient><circle cx="318.3" cy="2342.2" r="6.4" fill="url(#tg18)"/><polygon points="320.3,2336.2 328.7,2339.0 324.6,2351.1 316.2,2348.3" fill="url(#tg18)"/><circle cx="326.6" cy="2345.1" r="6.4" fill="url(#tg18)"/>
<linearGradient id="tg19" gradientUnits="userSpaceOnUse" x1="299.5" y1="2340.5" x2="295.3" y2="2352.6"><stop offset="0" stop-color="#1808e0"/><stop offset="0.1" stop-color="#0800ff"/><stop offset="0.32" stop-color="#1000ff"/><stop offset="0.44" stop-color="#9c9cff"/><stop offset="0.54" stop-color="#b4b4ff"/><stop offset="0.66" stop-color="#2a1cff"/><stop offset="0.86" stop-color="#1a00ff"/><stop offset="1" stop-color="#3410d0"/></linearGradient><circle cx="293.2" cy="2345.1" r="6.4" fill="url(#tg19)"/><polygon points="295.3,2339.1 303.7,2341.9 299.5,2354.0 291.1,2351.2" fill="url(#tg19)"/><circle cx="301.6" cy="2348.0" r="6.4" fill="url(#tg19)"/>
<linearGradient id="tg15" gradientUnits="userSpaceOnUse" x1="255.2" y1="2341.3" x2="251.0" y2="2353.4"><stop offset="0" stop-color="#1808e0"/><stop offset="0.1" stop-color="#0800ff"/><stop offset="0.32" stop-color="#1000ff"/><stop offset="0.44" stop-color="#9c9cff"/><stop offset="0.54" stop-color="#b4b4ff"/><stop offset="0.66" stop-color="#2a1cff"/><stop offset="0.86" stop-color="#1a00ff"/><stop offset="1" stop-color="#3410d0"/></linearGradient><circle cx="236.9" cy="2341.6" r="6.4" fill="url(#tg15)"/><polygon points="239.0,2335.6 271.5,2347.0 267.3,2359.0 234.8,2347.7" fill="url(#tg15)"/><circle cx="269.4" cy="2353.0" r="6.4" fill="url(#tg15)"/>
<linearGradient id="tg40" gradientUnits="userSpaceOnUse" x1="504.7" y1="2342.2" x2="500.8" y2="2354.4"><stop offset="0" stop-color="#2000e0"/><stop offset="0.1" stop-color="#2200ff"/><stop offset="0.32" stop-color="#2a00ff"/><stop offset="0.44" stop-color="#d4a4ff"/><stop offset="0.54" stop-color="#e6b8ff"/><stop offset="0.66" stop-color="#4a10ff"/><stop offset="0.86" stop-color="#3400ff"/><stop offset="1" stop-color="#5a14d8"/></linearGradient><circle cx="498.2" cy="2346.9" r="6.4" fill="url(#tg40)"/><polygon points="500.2,2340.8 509.2,2343.7 505.3,2355.9 496.3,2353.0" fill="url(#tg40)"/><circle cx="507.2" cy="2349.8" r="6.4" fill="url(#tg40)"/>
<circle cx="152.7" cy="1808.1" r="7.1" fill="url(#gGr)"/><circle cx="157.8" cy="1808.9" r="7.1" fill="url(#gGr)"/>
<linearGradient id="tg29" gradientUnits="userSpaceOnUse" x1="419.3" y1="2347.1" x2="415.2" y2="2359.2"><stop offset="0" stop-color="#1808e0"/><stop offset="0.1" stop-color="#0800ff"/><stop offset="0.32" stop-color="#1000ff"/><stop offset="0.44" stop-color="#9c9cff"/><stop offset="0.54" stop-color="#b4b4ff"/><stop offset="0.66" stop-color="#2a1cff"/><stop offset="0.86" stop-color="#1a00ff"/><stop offset="1" stop-color="#3410d0"/></linearGradient><circle cx="412.9" cy="2351.7" r="6.4" fill="url(#tg29)"/><polygon points="414.9,2345.6 423.6,2348.5 419.6,2360.7 410.8,2357.8" fill="url(#tg29)"/><circle cx="421.6" cy="2354.6" r="6.4" fill="url(#tg29)"/>
<linearGradient id="tg35" gradientUnits="userSpaceOnUse" x1="457.4" y1="2351.4" x2="453.4" y2="2363.6"><stop offset="0" stop-color="#1808e0"/><stop offset="0.1" stop-color="#0800ff"/><stop offset="0.32" stop-color="#1000ff"/><stop offset="0.44" stop-color="#9c9cff"/><stop offset="0.54" stop-color="#b4b4ff"/><stop offset="0.66" stop-color="#2a1cff"/><stop offset="0.86" stop-color="#1a00ff"/><stop offset="1" stop-color="#3410d0"/></linearGradient><circle cx="450.9" cy="2356.0" r="6.4" fill="url(#tg35)"/><polygon points="452.9,2349.9 461.8,2352.9 457.8,2365.0 448.9,2362.1" fill="url(#tg35)"/><circle cx="459.8" cy="2358.9" r="6.4" fill="url(#tg35)"/>
<linearGradient id="tg27" gradientUnits="userSpaceOnUse" x1="393.7" y1="2355.0" x2="389.7" y2="2367.2"><stop offset="0" stop-color="#1808e0"/><stop offset="0.1" stop-color="#0800ff"/><stop offset="0.32" stop-color="#1000ff"/><stop offset="0.44" stop-color="#9c9cff"/><stop offset="0.54" stop-color="#b4b4ff"/><stop offset="0.66" stop-color="#2a1cff"/><stop offset="0.86" stop-color="#1a00ff"/><stop offset="1" stop-color="#3410d0"/></linearGradient><circle cx="387.3" cy="2359.6" r="6.4" fill="url(#tg27)"/><polygon points="389.4,2353.5 398.1,2356.5 394.0,2368.6 385.3,2365.7" fill="url(#tg27)"/><circle cx="396.1" cy="2362.6" r="6.4" fill="url(#tg27)"/>
<linearGradient id="tg30" gradientUnits="userSpaceOnUse" x1="433.8" y1="2358.6" x2="429.7" y2="2370.8"><stop offset="0" stop-color="#1808e0"/><stop offset="0.1" stop-color="#0800ff"/><stop offset="0.32" stop-color="#1000ff"/><stop offset="0.44" stop-color="#9c9cff"/><stop offset="0.54" stop-color="#b4b4ff"/><stop offset="0.66" stop-color="#2a1cff"/><stop offset="0.86" stop-color="#1a00ff"/><stop offset="1" stop-color="#3410d0"/></linearGradient><circle cx="427.3" cy="2363.2" r="6.4" fill="url(#tg30)"/><polygon points="429.3,2357.1 438.2,2360.1 434.2,2372.3 425.2,2369.3" fill="url(#tg30)"/><circle cx="436.2" cy="2366.2" r="6.4" fill="url(#tg30)"/>
<linearGradient id="tg22" gradientUnits="userSpaceOnUse" x1="346.7" y1="2362.9" x2="342.5" y2="2375.0"><stop offset="0" stop-color="#1808e0"/><stop offset="0.1" stop-color="#0800ff"/><stop offset="0.32" stop-color="#1000ff"/><stop offset="0.44" stop-color="#9c9cff"/><stop offset="0.54" stop-color="#b4b4ff"/><stop offset="0.66" stop-color="#2a1cff"/><stop offset="0.86" stop-color="#1a00ff"/><stop offset="1" stop-color="#3410d0"/></linearGradient><circle cx="340.2" cy="2367.4" r="6.4" fill="url(#tg22)"/><polygon points="342.3,2361.4 351.0,2364.4 346.8,2376.5 338.1,2373.5" fill="url(#tg22)"/><circle cx="348.9" cy="2370.5" r="6.4" fill="url(#tg22)"/>
<linearGradient id="tg44" gradientUnits="userSpaceOnUse" x1="579.1" y1="2364.7" x2="575.2" y2="2376.9"><stop offset="0" stop-color="#2000e0"/><stop offset="0.1" stop-color="#2200ff"/><stop offset="0.32" stop-color="#2a00ff"/><stop offset="0.44" stop-color="#d4a4ff"/><stop offset="0.54" stop-color="#e6b8ff"/><stop offset="0.66" stop-color="#4a10ff"/><stop offset="0.86" stop-color="#3400ff"/><stop offset="1" stop-color="#5a14d8"/></linearGradient><circle cx="572.4" cy="2369.3" r="6.4" fill="url(#tg44)"/><polygon points="574.4,2363.2 583.8,2366.2 579.9,2378.4 570.5,2375.4" fill="url(#tg44)"/><circle cx="581.9" cy="2372.3" r="6.4" fill="url(#tg44)"/>
<linearGradient id="tg28" gradientUnits="userSpaceOnUse" x1="388.2" y1="2365.9" x2="384.1" y2="2378.0"><stop offset="0" stop-color="#1808e0"/><stop offset="0.1" stop-color="#0800ff"/><stop offset="0.32" stop-color="#1000ff"/><stop offset="0.44" stop-color="#9c9cff"/><stop offset="0.54" stop-color="#b4b4ff"/><stop offset="0.66" stop-color="#2a1cff"/><stop offset="0.86" stop-color="#1a00ff"/><stop offset="1" stop-color="#3410d0"/></linearGradient><circle cx="381.8" cy="2370.5" r="6.4" fill="url(#tg28)"/><polygon points="383.8,2364.4 392.7,2367.4 388.5,2379.5 379.7,2376.5" fill="url(#tg28)"/><circle cx="390.6" cy="2373.5" r="6.4" fill="url(#tg28)"/>
<linearGradient id="tg23" gradientUnits="userSpaceOnUse" x1="344.6" y1="2369.6" x2="340.3" y2="2381.7"><stop offset="0" stop-color="#1808e0"/><stop offset="0.1" stop-color="#0800ff"/><stop offset="0.32" stop-color="#1000ff"/><stop offset="0.44" stop-color="#9c9cff"/><stop offset="0.54" stop-color="#b4b4ff"/><stop offset="0.66" stop-color="#2a1cff"/><stop offset="0.86" stop-color="#1a00ff"/><stop offset="1" stop-color="#3410d0"/></linearGradient><circle cx="338.1" cy="2374.1" r="6.4" fill="url(#tg23)"/><polygon points="340.2,2368.1 348.9,2371.1 344.7,2383.2 336.0,2380.1" fill="url(#tg23)"/><circle cx="346.8" cy="2377.2" r="6.4" fill="url(#tg23)"/>
<linearGradient id="tg50" gradientUnits="userSpaceOnUse" x1="508.2" y1="2371.9" x2="504.2" y2="2384.0"><stop offset="0" stop-color="#1808e0"/><stop offset="0.1" stop-color="#0800ff"/><stop offset="0.32" stop-color="#1000ff"/><stop offset="0.44" stop-color="#9c9cff"/><stop offset="0.54" stop-color="#b4b4ff"/><stop offset="0.66" stop-color="#2a1cff"/><stop offset="0.86" stop-color="#1a00ff"/><stop offset="1" stop-color="#3410d0"/></linearGradient><circle cx="501.6" cy="2376.4" r="6.4" fill="url(#tg50)"/><polygon points="503.6,2370.4 512.9,2373.4 508.8,2385.6 499.6,2382.5" fill="url(#tg50)"/><circle cx="510.9" cy="2379.5" r="6.4" fill="url(#tg50)"/>
<linearGradient id="tg56" gradientUnits="userSpaceOnUse" x1="606.4" y1="2374.5" x2="602.5" y2="2386.7"><stop offset="0" stop-color="#2000e0"/><stop offset="0.1" stop-color="#2200ff"/><stop offset="0.32" stop-color="#2a00ff"/><stop offset="0.44" stop-color="#d4a4ff"/><stop offset="0.54" stop-color="#e6b8ff"/><stop offset="0.66" stop-color="#4a10ff"/><stop offset="0.86" stop-color="#3400ff"/><stop offset="1" stop-color="#5a14d8"/></linearGradient><circle cx="599.7" cy="2379.1" r="6.4" fill="url(#tg56)"/><polygon points="601.6,2373.0 611.3,2376.1 607.4,2388.3 597.7,2385.2" fill="url(#tg56)"/><circle cx="609.3" cy="2382.2" r="6.4" fill="url(#tg56)"/>
<linearGradient id="tg57" gradientUnits="userSpaceOnUse" x1="184.6" y1="1816.3" x2="182.4" y2="1830.2"><stop offset="0" stop-color="#38d414"/><stop offset="0.12" stop-color="#48fc14"/><stop offset="0.24" stop-color="#98ff7c"/><stop offset="0.32" stop-color="#c4ffb8"/><stop offset="0.42" stop-color="#5cff2c"/><stop offset="0.62" stop-color="#44f812"/><stop offset="0.82" stop-color="#3ad016"/><stop offset="1" stop-color="#2a9810"/></linearGradient><circle cx="168.5" cy="1820.9" r="7.1" fill="url(#tg57)"/><polygon points="169.6,1813.9 199.5,1818.6 197.3,1832.6 167.5,1827.9" fill="url(#tg57)"/><circle cx="198.4" cy="1825.6" r="7.1" fill="url(#tg57)"/>
<linearGradient id="tg55" gradientUnits="userSpaceOnUse" x1="589.3" y1="2378.3" x2="585.3" y2="2390.5"><stop offset="0" stop-color="#1808e0"/><stop offset="0.1" stop-color="#0800ff"/><stop offset="0.32" stop-color="#1000ff"/><stop offset="0.44" stop-color="#9c9cff"/><stop offset="0.54" stop-color="#b4b4ff"/><stop offset="0.66" stop-color="#2a1cff"/><stop offset="0.86" stop-color="#1a00ff"/><stop offset="1" stop-color="#3410d0"/></linearGradient><circle cx="582.5" cy="2382.9" r="6.4" fill="url(#tg55)"/><polygon points="584.5,2376.8 594.1,2379.9 590.1,2392.1 580.5,2389.0" fill="url(#tg55)"/><circle cx="592.1" cy="2386.0" r="6.4" fill="url(#tg55)"/>
<linearGradient id="tg24" gradientUnits="userSpaceOnUse" x1="329.5" y1="2380.3" x2="325.2" y2="2392.4"><stop offset="0" stop-color="#1808e0"/><stop offset="0.1" stop-color="#0800ff"/><stop offset="0.32" stop-color="#1000ff"/><stop offset="0.44" stop-color="#9c9cff"/><stop offset="0.54" stop-color="#b4b4ff"/><stop offset="0.66" stop-color="#2a1cff"/><stop offset="0.86" stop-color="#1a00ff"/><stop offset="1" stop-color="#3410d0"/></linearGradient><circle cx="323.0" cy="2384.8" r="6.4" fill="url(#tg24)"/><polygon points="325.1,2378.8 333.9,2381.9 329.6,2394.0 320.8,2390.8" fill="url(#tg24)"/><circle cx="331.8" cy="2387.9" r="6.4" fill="url(#tg24)"/>
<linearGradient id="tg51" gradientUnits="userSpaceOnUse" x1="490.0" y1="2385.5" x2="486.0" y2="2397.6"><stop offset="0" stop-color="#1808e0"/><stop offset="0.1" stop-color="#0800ff"/><stop offset="0.32" stop-color="#1000ff"/><stop offset="0.44" stop-color="#9c9cff"/><stop offset="0.54" stop-color="#b4b4ff"/><stop offset="0.66" stop-color="#2a1cff"/><stop offset="0.86" stop-color="#1a00ff"/><stop offset="1" stop-color="#3410d0"/></linearGradient><circle cx="483.3" cy="2390.0" r="6.4" fill="url(#tg51)"/><polygon points="485.4,2383.9 494.7,2387.1 490.6,2399.2 481.3,2396.1" fill="url(#tg51)"/><circle cx="492.7" cy="2393.2" r="6.4" fill="url(#tg51)"/>
<circle cx="347.5" cy="1827.6" r="7.1" fill="url(#gGr)"/><circle cx="352.7" cy="1828.4" r="7.1" fill="url(#gGr)"/>
<linearGradient id="tg58" gradientUnits="userSpaceOnUse" x1="212.0" y1="1821.9" x2="209.8" y2="1835.8"><stop offset="0" stop-color="#38d414"/><stop offset="0.12" stop-color="#48fc14"/><stop offset="0.24" stop-color="#98ff7c"/><stop offset="0.32" stop-color="#c4ffb8"/><stop offset="0.42" stop-color="#5cff2c"/><stop offset="0.62" stop-color="#44f812"/><stop offset="0.82" stop-color="#3ad016"/><stop offset="1" stop-color="#2a9810"/></linearGradient><circle cx="194.5" cy="1826.3" r="7.1" fill="url(#tg58)"/><polygon points="195.5,1819.3 228.5,1824.5 226.3,1838.4 193.4,1833.3" fill="url(#tg58)"/><circle cx="227.4" cy="1831.5" r="7.1" fill="url(#tg58)"/>
<linearGradient id="tg26" gradientUnits="userSpaceOnUse" x1="403.0" y1="2395.9" x2="398.8" y2="2407.9"><stop offset="0" stop-color="#1808e0"/><stop offset="0.1" stop-color="#0800ff"/><stop offset="0.32" stop-color="#1000ff"/><stop offset="0.44" stop-color="#9c9cff"/><stop offset="0.54" stop-color="#b4b4ff"/><stop offset="0.66" stop-color="#2a1cff"/><stop offset="0.86" stop-color="#1a00ff"/><stop offset="1" stop-color="#3410d0"/></linearGradient><circle cx="396.3" cy="2400.3" r="6.4" fill="url(#tg26)"/><polygon points="398.4,2394.3 407.6,2397.5 403.4,2409.6 394.2,2406.3" fill="url(#tg26)"/><circle cx="405.5" cy="2403.5" r="6.4" fill="url(#tg26)"/>
<circle cx="315.3" cy="1831.0" r="7.1" fill="url(#gGr)"/><circle cx="320.2" cy="1831.8" r="7.1" fill="url(#gGr)"/>
<linearGradient id="tg54" gradientUnits="userSpaceOnUse" x1="544.5" y1="2397.6" x2="540.5" y2="2409.7"><stop offset="0" stop-color="#1808e0"/><stop offset="0.1" stop-color="#0800ff"/><stop offset="0.32" stop-color="#1000ff"/><stop offset="0.44" stop-color="#9c9cff"/><stop offset="0.54" stop-color="#b4b4ff"/><stop offset="0.66" stop-color="#2a1cff"/><stop offset="0.86" stop-color="#1a00ff"/><stop offset="1" stop-color="#3410d0"/></linearGradient><circle cx="537.7" cy="2402.0" r="6.4" fill="url(#tg54)"/><polygon points="539.7,2396.0 549.3,2399.2 545.3,2411.3 535.6,2408.1" fill="url(#tg54)"/><circle cx="547.3" cy="2405.3" r="6.4" fill="url(#tg54)"/>
<linearGradient id="tg52" gradientUnits="userSpaceOnUse" x1="519.1" y1="2399.9" x2="515.0" y2="2412.0"><stop offset="0" stop-color="#1808e0"/><stop offset="0.1" stop-color="#0800ff"/><stop offset="0.32" stop-color="#1000ff"/><stop offset="0.44" stop-color="#9c9cff"/><stop offset="0.54" stop-color="#b4b4ff"/><stop offset="0.66" stop-color="#2a1cff"/><stop offset="0.86" stop-color="#1a00ff"/><stop offset="1" stop-color="#3410d0"/></linearGradient><circle cx="512.3" cy="2404.3" r="6.4" fill="url(#tg52)"/><polygon points="514.3,2398.3 523.9,2401.5 519.8,2413.6 510.2,2410.4" fill="url(#tg52)"/><circle cx="521.9" cy="2407.6" r="6.4" fill="url(#tg52)"/>
<linearGradient id="tg53" gradientUnits="userSpaceOnUse" x1="532.0" y1="2399.9" x2="527.9" y2="2412.1"><stop offset="0" stop-color="#1808e0"/><stop offset="0.1" stop-color="#0800ff"/><stop offset="0.32" stop-color="#1000ff"/><stop offset="0.44" stop-color="#9c9cff"/><stop offset="0.54" stop-color="#b4b4ff"/><stop offset="0.66" stop-color="#2a1cff"/><stop offset="0.86" stop-color="#1a00ff"/><stop offset="1" stop-color="#3410d0"/></linearGradient><circle cx="525.2" cy="2404.4" r="6.4" fill="url(#tg53)"/><polygon points="527.2,2398.3 536.8,2401.6 532.8,2413.7 523.1,2410.4" fill="url(#tg53)"/><circle cx="534.8" cy="2407.6" r="6.4" fill="url(#tg53)"/>
<linearGradient id="tg25" gradientUnits="userSpaceOnUse" x1="374.9" y1="2400.0" x2="370.6" y2="2412.1"><stop offset="0" stop-color="#1808e0"/><stop offset="0.1" stop-color="#0800ff"/><stop offset="0.32" stop-color="#1000ff"/><stop offset="0.44" stop-color="#9c9cff"/><stop offset="0.54" stop-color="#b4b4ff"/><stop offset="0.66" stop-color="#2a1cff"/><stop offset="0.86" stop-color="#1a00ff"/><stop offset="1" stop-color="#3410d0"/></linearGradient><circle cx="368.1" cy="2404.4" r="6.4" fill="url(#tg25)"/><polygon points="370.3,2398.4 379.4,2401.6 375.1,2413.7 366.0,2410.5" fill="url(#tg25)"/><circle cx="377.3" cy="2407.7" r="6.4" fill="url(#tg25)"/>
<linearGradient id="tg59" gradientUnits="userSpaceOnUse" x1="244.4" y1="1827.3" x2="242.2" y2="1841.3"><stop offset="0" stop-color="#38d414"/><stop offset="0.12" stop-color="#48fc14"/><stop offset="0.24" stop-color="#98ff7c"/><stop offset="0.32" stop-color="#c4ffb8"/><stop offset="0.42" stop-color="#5cff2c"/><stop offset="0.62" stop-color="#44f812"/><stop offset="0.82" stop-color="#3ad016"/><stop offset="1" stop-color="#2a9810"/></linearGradient><circle cx="226.4" cy="1831.6" r="7.1" fill="url(#tg59)"/><polygon points="227.5,1824.7 261.3,1830.0 259.1,1843.9 225.3,1838.6" fill="url(#tg59)"/><circle cx="260.2" cy="1837.0" r="7.1" fill="url(#tg59)"/>
<circle cx="389.5" cy="1841.0" r="7.1" fill="url(#gGr)"/><circle cx="394.6" cy="1841.8" r="7.1" fill="url(#gGr)"/>
<circle cx="598.7" cy="1851.9" r="7.1" fill="url(#gGr)"/><circle cx="603.9" cy="1852.6" r="7.1" fill="url(#gGr)"/>
<circle cx="550.6" cy="1860.8" r="7.1" fill="url(#gGr)"/><circle cx="555.7" cy="1861.6" r="7.1" fill="url(#gGr)"/>
<circle cx="533.8" cy="1862.1" r="7.1" fill="url(#gGr)"/><circle cx="538.5" cy="1862.8" r="7.1" fill="url(#gGr)"/>
<line x1="66.7" y1="2318.8" x2="45.5" y2="1820.5" stroke="#000" stroke-width="2.3" stroke-linecap="square"/>
<line x1="66.7" y1="2318.8" x2="456.6" y2="2460.8" stroke="#000" stroke-width="2.3" stroke-linecap="square"/>
<line x1="456.6" y1="2460.8" x2="766.5" y2="2298.1" stroke="#000" stroke-width="2.3" stroke-linecap="square"/>
<line x1="66.7" y1="2318.8" x2="57.5" y2="2322.2" stroke="#000" stroke-width="2.2" stroke-linecap="round"/>
<line x1="61.7" y1="2200.0" x2="52.3" y2="2203.1" stroke="#000" stroke-width="2.2" stroke-linecap="round"/>
<line x1="56.4" y1="2077.5" x2="46.9" y2="2080.1" stroke="#000" stroke-width="2.2" stroke-linecap="round"/>
<line x1="51.0" y1="1951.0" x2="41.3" y2="1953.2" stroke="#000" stroke-width="2.2" stroke-linecap="round"/>
<line x1="45.5" y1="1820.5" x2="35.6" y2="1822.1" stroke="#000" stroke-width="2.2" stroke-linecap="round"/>
<line x1="66.7" y1="2318.8" x2="57.5" y2="2322.2" stroke="#000" stroke-width="2.0" stroke-linecap="round"/>
<line x1="100.5" y1="2331.1" x2="95.9" y2="2332.9" stroke="#000" stroke-width="2.0" stroke-linecap="round"/>
<line x1="135.2" y1="2343.7" x2="126.0" y2="2347.4" stroke="#000" stroke-width="2.0" stroke-linecap="round"/>
<line x1="170.9" y1="2356.7" x2="166.3" y2="2358.6" stroke="#000" stroke-width="2.0" stroke-linecap="round"/>
<line x1="207.6" y1="2370.1" x2="198.5" y2="2374.0" stroke="#000" stroke-width="2.0" stroke-linecap="round"/>
<line x1="245.4" y1="2383.9" x2="240.8" y2="2385.8" stroke="#000" stroke-width="2.0" stroke-linecap="round"/>
<line x1="284.2" y1="2398.0" x2="275.1" y2="2402.1" stroke="#000" stroke-width="2.0" stroke-linecap="round"/>
<line x1="324.2" y1="2412.6" x2="319.7" y2="2414.7" stroke="#000" stroke-width="2.0" stroke-linecap="round"/>
<line x1="365.5" y1="2427.6" x2="356.5" y2="2432.0" stroke="#000" stroke-width="2.0" stroke-linecap="round"/>
<line x1="407.9" y1="2443.1" x2="403.5" y2="2445.3" stroke="#000" stroke-width="2.0" stroke-linecap="round"/>
<line x1="451.7" y1="2459.1" x2="442.9" y2="2463.7" stroke="#000" stroke-width="2.0" stroke-linecap="round"/>
<line x1="456.6" y1="2460.8" x2="467.5" y2="2464.8" stroke="#000" stroke-width="2.0" stroke-linecap="round"/>
<line x1="507.9" y1="2433.9" x2="518.7" y2="2437.7" stroke="#000" stroke-width="2.0" stroke-linecap="round"/>
<line x1="556.5" y1="2408.4" x2="567.2" y2="2412.0" stroke="#000" stroke-width="2.0" stroke-linecap="round"/>
<line x1="602.7" y1="2384.1" x2="613.3" y2="2387.5" stroke="#000" stroke-width="2.0" stroke-linecap="round"/>
<line x1="646.6" y1="2361.1" x2="657.1" y2="2364.3" stroke="#000" stroke-width="2.0" stroke-linecap="round"/>
<line x1="688.5" y1="2339.1" x2="698.9" y2="2342.2" stroke="#000" stroke-width="2.0" stroke-linecap="round"/>
<line x1="728.4" y1="2318.1" x2="738.7" y2="2321.1" stroke="#000" stroke-width="2.0" stroke-linecap="round"/>
<line x1="766.5" y1="2298.1" x2="776.7" y2="2300.9" stroke="#000" stroke-width="2.0" stroke-linecap="round"/>
<line x1="482.6" y1="2447.2" x2="488.0" y2="2449.1" stroke="#000" stroke-width="2.0" stroke-linecap="round"/>
<line x1="532.5" y1="2421.0" x2="537.9" y2="2422.8" stroke="#000" stroke-width="2.0" stroke-linecap="round"/>
<line x1="579.9" y1="2396.1" x2="585.2" y2="2397.9" stroke="#000" stroke-width="2.0" stroke-linecap="round"/>
<line x1="624.9" y1="2372.5" x2="630.2" y2="2374.1" stroke="#000" stroke-width="2.0" stroke-linecap="round"/>
<line x1="667.8" y1="2349.9" x2="673.0" y2="2351.5" stroke="#000" stroke-width="2.0" stroke-linecap="round"/>
<line x1="708.7" y1="2328.5" x2="713.8" y2="2330.0" stroke="#000" stroke-width="2.0" stroke-linecap="round"/>
<line x1="747.7" y1="2308.0" x2="752.8" y2="2309.4" stroke="#000" stroke-width="2.0" stroke-linecap="round"/>
<text transform="matrix(0.22429,-0.08506,0.19648,0.07250,57.94,2326.99)" font-size="100" text-anchor="end" dy="0.0" stroke="#000" stroke-width="2.2" style="font-family:'Liberation Serif','Times New Roman',serif;font-weight:bold">0</text>
<text transform="matrix(0.22380,-0.08992,0.20760,0.07661,126.82,2352.41)" font-size="100" text-anchor="end" dy="0.0" stroke="#000" stroke-width="2.2" style="font-family:'Liberation Serif','Times New Roman',serif;font-weight:bold">400</text>
<text transform="matrix(0.22288,-0.09522,0.21970,0.08107,199.66,2379.29)" font-size="100" text-anchor="end" dy="0.0" stroke="#000" stroke-width="2.2" style="font-family:'Liberation Serif','Times New Roman',serif;font-weight:bold">800</text>
<text transform="matrix(0.22146,-0.10099,0.23289,0.08594,276.82,2407.76)" font-size="100" text-anchor="end" dy="0.0" stroke="#000" stroke-width="2.2" style="font-family:'Liberation Serif','Times New Roman',serif;font-weight:bold">1200</text>
<text transform="matrix(0.21946,-0.10730,0.24730,0.09126,358.67,2437.97)" font-size="100" text-anchor="end" dy="0.0" stroke="#000" stroke-width="2.2" style="font-family:'Liberation Serif','Times New Roman',serif;font-weight:bold">1600</text>
<text transform="matrix(0.21676,-0.11421,0.26309,0.09709,445.67,2470.07)" font-size="100" text-anchor="end" dy="0.0" stroke="#000" stroke-width="2.2" style="font-family:'Liberation Serif','Times New Roman',serif;font-weight:bold">2000</text>
<text transform="matrix(0.26524,0.09724,-0.21460,0.11440,466.73,2470.95)" font-size="100" text-anchor="start" dy="0.0" stroke="#000" stroke-width="2.2" style="font-family:'Liberation Serif','Times New Roman',serif;font-weight:bold">0</text>
<text transform="matrix(0.26284,0.09220,-0.20338,0.10842,518.19,2443.52)" font-size="100" text-anchor="start" dy="0.0" stroke="#000" stroke-width="2.2" style="font-family:'Liberation Serif','Times New Roman',serif;font-weight:bold">1000</text>
<text transform="matrix(0.26033,0.08755,-0.19303,0.10290,566.99,2417.51)" font-size="100" text-anchor="start" dy="0.0" stroke="#000" stroke-width="2.2" style="font-family:'Liberation Serif','Times New Roman',serif;font-weight:bold">2000</text>
<text transform="matrix(0.25773,0.08324,-0.18344,0.09779,613.34,2392.80)" font-size="100" text-anchor="start" dy="0.0" stroke="#000" stroke-width="2.2" style="font-family:'Liberation Serif','Times New Roman',serif;font-weight:bold">3000</text>
<text transform="matrix(0.25508,0.07925,-0.17455,0.09305,657.41,2369.30)" font-size="100" text-anchor="start" dy="0.0" stroke="#000" stroke-width="2.2" style="font-family:'Liberation Serif','Times New Roman',serif;font-weight:bold">4000</text>
<text transform="matrix(0.25238,0.07553,-0.16629,0.08865,699.38,2346.93)" font-size="100" text-anchor="start" dy="0.0" stroke="#000" stroke-width="2.2" style="font-family:'Liberation Serif','Times New Roman',serif;font-weight:bold">5000</text>
<text transform="matrix(0.24965,0.07207,-0.15861,0.08455,739.38,2325.61)" font-size="100" text-anchor="start" dy="0.0" stroke="#000" stroke-width="2.2" style="font-family:'Liberation Serif','Times New Roman',serif;font-weight:bold">6000</text>
<text transform="matrix(0.24690,0.06885,-0.15144,0.08073,777.55,2305.26)" font-size="100" text-anchor="start" dy="0.0" stroke="#000" stroke-width="2.2" style="font-family:'Liberation Serif','Times New Roman',serif;font-weight:bold">7000</text>
<text transform="matrix(0.26385,0.10340,-0.27409,0.12155,171.30,2427.84)" font-size="100" text-anchor="middle" dy="0.0" stroke="#000" stroke-width="2.2" style="font-family:'Liberation Serif','Times New Roman',serif;font-weight:bold">Number of prediction samples</text>
<text transform="matrix(0.20185,-0.11573,0.31179,0.09849,718.81,2404.71)" font-size="100" text-anchor="middle" dy="0.0" stroke="#000" stroke-width="2.2" style="font-family:'Liberation Serif','Times New Roman',serif;font-weight:bold">A Boiling point (B<tspan font-size="68" dy="22">PA</tspan><tspan dy="-22">)</tspan></text>
<circle cx="124.5" cy="1954.2" r="7.6" fill="url(#gGr)"/><circle cx="124.5" cy="1995.8" r="7.6" fill="url(#gBl)"/><text x="171.9" y="1966.0" font-size="32.9" style="font-family:'Liberation Serif','Times New Roman',serif;font-weight:bold">1 (c/a &gt; 1.2)</text><text x="171.9" y="2006.5" font-size="32.9" style="font-family:'Liberation Serif','Times New Roman',serif;font-weight:bold">0 (c/a &lt; 1.2)</text>
<text x="52.8" y="1749.4" font-size="48" style="font-family:'Liberation Serif','Times New Roman',serif;font-weight:bold">(d)</text>
<clipPath id="clip_e"><polygon points="1105.2,2252.2 1486.9,2372.5 1503.0,1847.1 1096.2,1789.7"/></clipPath>
<polygon points="928.7,2318.8 1257.0,2195.0 1257.1,1763.5 907.5,1820.5" fill="#f2f2f2" />
<polygon points="1257.0,2195.0 1628.5,2298.1 1652.2,1812.3 1257.1,1763.5" fill="#e6fefb" />
<polygon points="928.7,2318.8 1318.6,2460.8 1628.5,2298.1 1257.0,2195.0" fill="#f7fcee" />
<line x1="996.1" y1="2293.4" x2="979.8" y2="1808.7" stroke="#c6c6c6" stroke-width="1.0" />
<line x1="996.1" y1="2293.4" x2="1383.4" y2="2426.8" stroke="#c6c6c6" stroke-width="1.0" />
<line x1="1059.8" y1="2269.3" x2="1047.8" y2="1797.6" stroke="#c6c6c6" stroke-width="1.0" />
<line x1="1059.8" y1="2269.3" x2="1444.0" y2="2395.0" stroke="#c6c6c6" stroke-width="1.0" />
<line x1="1120.0" y1="2246.7" x2="1111.9" y2="1787.1" stroke="#c6c6c6" stroke-width="1.0" />
<line x1="1120.0" y1="2246.7" x2="1500.8" y2="2365.2" stroke="#c6c6c6" stroke-width="1.0" />
<line x1="1177.0" y1="2225.2" x2="1172.4" y2="1777.3" stroke="#c6c6c6" stroke-width="1.0" />
<line x1="1177.0" y1="2225.2" x2="1554.2" y2="2337.1" stroke="#c6c6c6" stroke-width="1.0" />
<line x1="1231.0" y1="2204.8" x2="1229.6" y2="1768.0" stroke="#c6c6c6" stroke-width="1.0" />
<line x1="1231.0" y1="2204.8" x2="1604.5" y2="2310.7" stroke="#c6c6c6" stroke-width="1.0" />
<line x1="918.4" y1="2077.5" x2="1257.0" y2="1985.0" stroke="#c6c6c6" stroke-width="1.0" />
<line x1="1257.0" y1="1985.0" x2="1640.0" y2="2062.7" stroke="#c6c6c6" stroke-width="1.0" />
<line x1="1323.4" y1="2213.4" x2="1327.3" y2="1772.2" stroke="#c6c6c6" stroke-width="1.0" />
<line x1="997.2" y1="2343.7" x2="1323.4" y2="2213.4" stroke="#c6c6c6" stroke-width="1.0" />
<line x1="1393.1" y1="2232.7" x2="1401.1" y2="1781.3" stroke="#c6c6c6" stroke-width="1.0" />
<line x1="1069.6" y1="2370.1" x2="1393.1" y2="2232.7" stroke="#c6c6c6" stroke-width="1.0" />
<line x1="1466.2" y1="2253.0" x2="1478.9" y2="1790.9" stroke="#c6c6c6" stroke-width="1.0" />
<line x1="1146.2" y1="2398.0" x2="1466.2" y2="2253.0" stroke="#c6c6c6" stroke-width="1.0" />
<line x1="1543.1" y1="2274.4" x2="1560.8" y2="1801.0" stroke="#c6c6c6" stroke-width="1.0" />
<line x1="1227.5" y1="2427.6" x2="1543.1" y2="2274.4" stroke="#c6c6c6" stroke-width="1.0" />
<line x1="1624.0" y1="2296.8" x2="1647.3" y2="1811.7" stroke="#c6c6c6" stroke-width="1.0" />
<line x1="1313.7" y1="2459.1" x2="1624.0" y2="2296.8" stroke="#c6c6c6" stroke-width="1.0" />
<line x1="907.5" y1="1820.5" x2="1257.1" y2="1763.5" stroke="#6a6a6a" stroke-width="0.9" />
<line x1="1257.1" y1="1763.5" x2="1652.2" y2="1812.3" stroke="#6a6a6a" stroke-width="0.9" />
<line x1="1257.0" y1="2195.0" x2="1257.1" y2="1763.5" stroke="#6a6a6a" stroke-width="0.9" />
<line x1="928.7" y1="2318.8" x2="1257.0" y2="2195.0" stroke="#6a6a6a" stroke-width="0.9" />
<line x1="1257.0" y1="2195.0" x2="1628.5" y2="2298.1" stroke="#6a6a6a" stroke-width="0.9" />
<line x1="1628.5" y1="2298.1" x2="1652.2" y2="1812.3" stroke="#6a6a6a" stroke-width="0.9" />
<g clip-path="url(#clip_e)">
<polygon points="928.7,2318.8 1257.0,2195.0 1257.1,1763.5 907.5,1820.5" fill="#e8dbed" />
<polygon points="1257.0,2195.0 1628.5,2298.1 1652.2,1812.3 1257.1,1763.5" fill="#d9effe" />
<polygon points="928.7,2318.8 1318.6,2460.8 1628.5,2298.1 1257.0,2195.0" fill="#f5e9e0" />
<line x1="996.1" y1="2293.4" x2="979.8" y2="1808.7" stroke="#dea4ee" stroke-width="1.1" />
<line x1="996.1" y1="2293.4" x2="1383.4" y2="2426.8" stroke="#dea4ee" stroke-width="1.1" />
<line x1="1059.8" y1="2269.3" x2="1047.8" y2="1797.6" stroke="#dea4ee" stroke-width="1.1" />
<line x1="1059.8" y1="2269.3" x2="1444.0" y2="2395.0" stroke="#dea4ee" stroke-width="1.1" />
<line x1="1120.0" y1="2246.7" x2="1111.9" y2="1787.1" stroke="#dea4ee" stroke-width="1.1" />
<line x1="1120.0" y1="2246.7" x2="1500.8" y2="2365.2" stroke="#dea4ee" stroke-width="1.1" />
<line x1="1177.0" y1="2225.2" x2="1172.4" y2="1777.3" stroke="#dea4ee" stroke-width="1.1" />
<line x1="1177.0" y1="2225.2" x2="1554.2" y2="2337.1" stroke="#dea4ee" stroke-width="1.1" />
<line x1="1231.0" y1="2204.8" x2="1229.6" y2="1768.0" stroke="#dea4ee" stroke-width="1.1" />
<line x1="1231.0" y1="2204.8" x2="1604.5" y2="2310.7" stroke="#dea4ee" stroke-width="1.1" />
<line x1="918.4" y1="2077.5" x2="1257.0" y2="1985.0" stroke="#dea4ee" stroke-width="1.1" />
<line x1="1257.0" y1="1985.0" x2="1640.0" y2="2062.7" stroke="#dea4ee" stroke-width="1.1" />
<line x1="1323.4" y1="2213.4" x2="1327.3" y2="1772.2" stroke="#dea4ee" stroke-width="1.1" />
<line x1="997.2" y1="2343.7" x2="1323.4" y2="2213.4" stroke="#dea4ee" stroke-width="1.1" />
<line x1="1393.1" y1="2232.7" x2="1401.1" y2="1781.3" stroke="#dea4ee" stroke-width="1.1" />
<line x1="1069.6" y1="2370.1" x2="1393.1" y2="2232.7" stroke="#dea4ee" stroke-width="1.1" />
<line x1="1466.2" y1="2253.0" x2="1478.9" y2="1790.9" stroke="#dea4ee" stroke-width="1.1" />
<line x1="1146.2" y1="2398.0" x2="1466.2" y2="2253.0" stroke="#dea4ee" stroke-width="1.1" />
<line x1="1543.1" y1="2274.4" x2="1560.8" y2="1801.0" stroke="#dea4ee" stroke-width="1.1" />
<line x1="1227.5" y1="2427.6" x2="1543.1" y2="2274.4" stroke="#dea4ee" stroke-width="1.1" />
<line x1="1624.0" y1="2296.8" x2="1647.3" y2="1811.7" stroke="#dea4ee" stroke-width="1.1" />
<line x1="1313.7" y1="2459.1" x2="1624.0" y2="2296.8" stroke="#dea4ee" stroke-width="1.1" />
<line x1="907.5" y1="1820.5" x2="1257.1" y2="1763.5" stroke="#b070c0" stroke-width="1.0" />
<line x1="1257.1" y1="1763.5" x2="1652.2" y2="1812.3" stroke="#b070c0" stroke-width="1.0" />
<line x1="1257.0" y1="2195.0" x2="1257.1" y2="1763.5" stroke="#b070c0" stroke-width="1.0" />
<line x1="928.7" y1="2318.8" x2="1257.0" y2="2195.0" stroke="#b070c0" stroke-width="1.0" />
<line x1="1257.0" y1="2195.0" x2="1628.5" y2="2298.1" stroke="#b070c0" stroke-width="1.0" />
<line x1="1628.5" y1="2298.1" x2="1652.2" y2="1812.3" stroke="#b070c0" stroke-width="1.0" />
</g>
<line x1="1172.9" y1="2273.5" x2="1167.8" y2="1799.8" stroke="#c6c6c6" stroke-width="1.0" />
<line x1="1244.2" y1="2296.0" x2="1243.5" y2="1810.5" stroke="#c6c6c6" stroke-width="1.0" />
<line x1="1319.2" y1="2319.6" x2="1323.4" y2="1821.8" stroke="#c6c6c6" stroke-width="1.0" />
<line x1="1398.5" y1="2344.6" x2="1408.1" y2="1833.7" stroke="#c6c6c6" stroke-width="1.0" />
<line x1="1100.9" y1="2027.7" x2="1494.7" y2="2118.6" stroke="#c6c6c6" stroke-width="1.0" />
<line x1="1096.2" y1="1789.7" x2="1503.0" y2="1847.1" stroke="#6a6a6a" stroke-width="0.9" />
<line x1="1105.2" y1="2252.2" x2="1096.2" y2="1789.7" stroke="#6a6a6a" stroke-width="0.9" />
<line x1="1486.9" y1="2372.5" x2="1503.0" y2="1847.1" stroke="#6a6a6a" stroke-width="0.9" />
<line x1="1105.2" y1="2252.2" x2="1486.9" y2="2372.5" stroke="#6a6a6a" stroke-width="0.9" />
<line x1="907.5" y1="1820.5" x2="1323.5" y2="1888.9" stroke="#6a6a6a" stroke-width="0.9" />
<line x1="1323.5" y1="1888.9" x2="1652.2" y2="1812.3" stroke="#6a6a6a" stroke-width="0.9" />
<line x1="1318.6" y1="2460.8" x2="1323.5" y2="1888.9" stroke="#6a6a6a" stroke-width="0.9" />
<linearGradient id="tg62" gradientUnits="userSpaceOnUse" x1="1306.8" y1="2219.6" x2="1303.3" y2="2231.9"><stop offset="0" stop-color="#2000e0"/><stop offset="0.1" stop-color="#2200ff"/><stop offset="0.32" stop-color="#2a00ff"/><stop offset="0.44" stop-color="#d4a4ff"/><stop offset="0.54" stop-color="#e6b8ff"/><stop offset="0.66" stop-color="#4a10ff"/><stop offset="0.86" stop-color="#3400ff"/><stop offset="1" stop-color="#5a14d8"/></linearGradient><circle cx="1231.0" cy="2204.8" r="6.4" fill="url(#tg62)"/><polygon points="1232.8,2198.6 1380.8,2240.6 1377.3,2252.9 1229.3,2210.9" fill="url(#tg62)"/><circle cx="1379.1" cy="2246.8" r="6.4" fill="url(#tg62)"/>
<linearGradient id="tg63" gradientUnits="userSpaceOnUse" x1="1242.0" y1="2245.5" x2="1238.3" y2="2257.8"><stop offset="0" stop-color="#2000e0"/><stop offset="0.1" stop-color="#2200ff"/><stop offset="0.32" stop-color="#2a00ff"/><stop offset="0.44" stop-color="#d4a4ff"/><stop offset="0.54" stop-color="#e6b8ff"/><stop offset="0.66" stop-color="#4a10ff"/><stop offset="0.86" stop-color="#3400ff"/><stop offset="1" stop-color="#5a14d8"/></linearGradient><circle cx="1165.8" cy="2229.4" r="6.4" fill="url(#tg63)"/><polygon points="1167.6,2223.2 1316.4,2267.8 1312.7,2280.1 1164.0,2235.5" fill="url(#tg63)"/><circle cx="1314.5" cy="2273.9" r="6.4" fill="url(#tg63)"/>
<linearGradient id="tg64" gradientUnits="userSpaceOnUse" x1="1199.7" y1="2262.7" x2="1195.9" y2="2274.9"><stop offset="0" stop-color="#2000e0"/><stop offset="0.1" stop-color="#2200ff"/><stop offset="0.32" stop-color="#2a00ff"/><stop offset="0.44" stop-color="#d4a4ff"/><stop offset="0.54" stop-color="#e6b8ff"/><stop offset="0.66" stop-color="#4a10ff"/><stop offset="0.86" stop-color="#3400ff"/><stop offset="1" stop-color="#5a14d8"/></linearGradient><circle cx="1122.9" cy="2245.6" r="6.4" fill="url(#tg64)"/><polygon points="1124.8,2239.4 1274.7,2286.0 1270.9,2298.2 1121.0,2251.7" fill="url(#tg64)"/><circle cx="1272.8" cy="2292.1" r="6.4" fill="url(#tg64)"/>
<linearGradient id="tg60" gradientUnits="userSpaceOnUse" x1="1051.3" y1="2322.8" x2="1047.0" y2="2334.9"><stop offset="0" stop-color="#1808e0"/><stop offset="0.1" stop-color="#0800ff"/><stop offset="0.32" stop-color="#1000ff"/><stop offset="0.44" stop-color="#9c9cff"/><stop offset="0.54" stop-color="#b4b4ff"/><stop offset="0.66" stop-color="#2a1cff"/><stop offset="0.86" stop-color="#1a00ff"/><stop offset="1" stop-color="#3410d0"/></linearGradient><circle cx="973.0" cy="2302.1" r="6.4" fill="url(#tg60)"/><polygon points="975.1,2296.0 1127.5,2349.6 1123.2,2361.6 970.9,2308.1" fill="url(#tg60)"/><circle cx="1125.3" cy="2355.6" r="6.4" fill="url(#tg60)"/>
<linearGradient id="tg66" gradientUnits="userSpaceOnUse" x1="1258.0" y1="1799.4" x2="1256.1" y2="1813.4"><stop offset="0" stop-color="#38d414"/><stop offset="0.12" stop-color="#48fc14"/><stop offset="0.24" stop-color="#98ff7c"/><stop offset="0.32" stop-color="#c4ffb8"/><stop offset="0.42" stop-color="#5cff2c"/><stop offset="0.62" stop-color="#44f812"/><stop offset="0.82" stop-color="#3ad016"/><stop offset="1" stop-color="#2a9810"/></linearGradient><circle cx="1242.2" cy="1804.3" r="7.1" fill="url(#tg66)"/><polygon points="1243.2,1797.3 1272.9,1801.5 1270.9,1815.4 1241.2,1811.3" fill="url(#tg66)"/><circle cx="1271.9" cy="1808.4" r="7.1" fill="url(#tg66)"/>
<circle cx="953.8" cy="1812.5" r="7.1" fill="url(#gGr)"/><circle cx="959.0" cy="1813.4" r="7.1" fill="url(#gGr)"/>
<circle cx="971.2" cy="1815.3" r="7.1" fill="url(#gGr)"/><circle cx="976.3" cy="1816.1" r="7.1" fill="url(#gGr)"/>
<linearGradient id="tg61" gradientUnits="userSpaceOnUse" x1="1266.9" y1="2379.9" x2="1262.8" y2="2392.0"><stop offset="0" stop-color="#1808e0"/><stop offset="0.1" stop-color="#0800ff"/><stop offset="0.32" stop-color="#1000ff"/><stop offset="0.44" stop-color="#9c9cff"/><stop offset="0.54" stop-color="#b4b4ff"/><stop offset="0.66" stop-color="#2a1cff"/><stop offset="0.86" stop-color="#1a00ff"/><stop offset="1" stop-color="#3410d0"/></linearGradient><circle cx="1146.3" cy="2345.1" r="6.4" fill="url(#tg61)"/><polygon points="1148.4,2339.1 1385.5,2420.8 1381.3,2432.9 1144.3,2351.2" fill="url(#tg61)"/><circle cx="1383.4" cy="2426.8" r="6.4" fill="url(#tg61)"/>
<linearGradient id="tg65" gradientUnits="userSpaceOnUse" x1="1051.0" y1="1820.8" x2="1048.8" y2="1834.7"><stop offset="0" stop-color="#38d414"/><stop offset="0.12" stop-color="#48fc14"/><stop offset="0.24" stop-color="#98ff7c"/><stop offset="0.32" stop-color="#c4ffb8"/><stop offset="0.42" stop-color="#5cff2c"/><stop offset="0.62" stop-color="#44f812"/><stop offset="0.82" stop-color="#3ad016"/><stop offset="1" stop-color="#2a9810"/></linearGradient><circle cx="1019.1" cy="1822.9" r="7.1" fill="url(#tg65)"/><polygon points="1020.2,1815.9 1081.8,1825.7 1079.6,1839.6 1018.0,1829.8" fill="url(#tg65)"/><circle cx="1080.7" cy="1832.6" r="7.1" fill="url(#tg65)"/>
<circle cx="1095.9" cy="1835.0" r="7.1" fill="url(#gGr)"/><circle cx="1101.1" cy="1835.9" r="7.1" fill="url(#gGr)"/>
<linearGradient id="tg67" gradientUnits="userSpaceOnUse" x1="1160.3" y1="1829.6" x2="1158.2" y2="1843.5"><stop offset="0" stop-color="#38d414"/><stop offset="0.12" stop-color="#48fc14"/><stop offset="0.24" stop-color="#98ff7c"/><stop offset="0.32" stop-color="#c4ffb8"/><stop offset="0.42" stop-color="#5cff2c"/><stop offset="0.62" stop-color="#44f812"/><stop offset="0.82" stop-color="#3ad016"/><stop offset="1" stop-color="#2a9810"/></linearGradient><circle cx="1152.7" cy="1835.5" r="7.1" fill="url(#tg67)"/><polygon points="1153.8,1828.6 1166.8,1830.6 1164.7,1844.5 1151.6,1842.5" fill="url(#tg67)"/><circle cx="1165.8" cy="1837.5" r="7.1" fill="url(#tg67)"/>
<circle cx="1223.4" cy="1846.5" r="7.1" fill="url(#gGr)"/><circle cx="1228.6" cy="1847.3" r="7.1" fill="url(#gGr)"/>
<linearGradient id="tg68" gradientUnits="userSpaceOnUse" x1="1376.0" y1="1863.0" x2="1373.8" y2="1877.0"><stop offset="0" stop-color="#38d414"/><stop offset="0.12" stop-color="#48fc14"/><stop offset="0.24" stop-color="#98ff7c"/><stop offset="0.32" stop-color="#c4ffb8"/><stop offset="0.42" stop-color="#5cff2c"/><stop offset="0.62" stop-color="#44f812"/><stop offset="0.82" stop-color="#3ad016"/><stop offset="1" stop-color="#2a9810"/></linearGradient><circle cx="1367.1" cy="1868.8" r="7.1" fill="url(#tg68)"/><polygon points="1368.1,1861.8 1383.8,1864.2 1381.6,1878.2 1366.0,1875.7" fill="url(#tg68)"/><circle cx="1382.7" cy="1871.2" r="7.1" fill="url(#tg68)"/>
<line x1="928.7" y1="2318.8" x2="907.5" y2="1820.5" stroke="#000" stroke-width="2.3" stroke-linecap="square"/>
<line x1="928.7" y1="2318.8" x2="1318.6" y2="2460.8" stroke="#000" stroke-width="2.3" stroke-linecap="square"/>
<line x1="1318.6" y1="2460.8" x2="1628.5" y2="2298.1" stroke="#000" stroke-width="2.3" stroke-linecap="square"/>
<line x1="928.7" y1="2318.8" x2="919.5" y2="2322.2" stroke="#000" stroke-width="2.2" stroke-linecap="round"/>
<line x1="923.7" y1="2200.0" x2="914.3" y2="2203.1" stroke="#000" stroke-width="2.2" stroke-linecap="round"/>
<line x1="918.4" y1="2077.5" x2="908.9" y2="2080.1" stroke="#000" stroke-width="2.2" stroke-linecap="round"/>
<line x1="913.0" y1="1951.0" x2="903.3" y2="1953.2" stroke="#000" stroke-width="2.2" stroke-linecap="round"/>
<line x1="907.5" y1="1820.5" x2="897.6" y2="1822.1" stroke="#000" stroke-width="2.2" stroke-linecap="round"/>
<line x1="928.7" y1="2318.8" x2="919.5" y2="2322.2" stroke="#000" stroke-width="2.0" stroke-linecap="round"/>
<line x1="962.5" y1="2331.1" x2="957.9" y2="2332.9" stroke="#000" stroke-width="2.0" stroke-linecap="round"/>
<line x1="997.2" y1="2343.7" x2="988.0" y2="2347.4" stroke="#000" stroke-width="2.0" stroke-linecap="round"/>
<line x1="1032.9" y1="2356.7" x2="1028.3" y2="2358.6" stroke="#000" stroke-width="2.0" stroke-linecap="round"/>
<line x1="1069.6" y1="2370.1" x2="1060.5" y2="2374.0" stroke="#000" stroke-width="2.0" stroke-linecap="round"/>
<line x1="1107.4" y1="2383.9" x2="1102.8" y2="2385.8" stroke="#000" stroke-width="2.0" stroke-linecap="round"/>
<line x1="1146.2" y1="2398.0" x2="1137.1" y2="2402.1" stroke="#000" stroke-width="2.0" stroke-linecap="round"/>
<line x1="1186.2" y1="2412.6" x2="1181.7" y2="2414.7" stroke="#000" stroke-width="2.0" stroke-linecap="round"/>
<line x1="1227.5" y1="2427.6" x2="1218.5" y2="2432.0" stroke="#000" stroke-width="2.0" stroke-linecap="round"/>
<line x1="1269.9" y1="2443.1" x2="1265.5" y2="2445.3" stroke="#000" stroke-width="2.0" stroke-linecap="round"/>
<line x1="1313.7" y1="2459.1" x2="1304.9" y2="2463.7" stroke="#000" stroke-width="2.0" stroke-linecap="round"/>
<line x1="1318.6" y1="2460.8" x2="1329.5" y2="2464.8" stroke="#000" stroke-width="2.0" stroke-linecap="round"/>
<line x1="1383.4" y1="2426.8" x2="1394.1" y2="2430.5" stroke="#000" stroke-width="2.0" stroke-linecap="round"/>
<line x1="1444.0" y1="2395.0" x2="1454.6" y2="2398.5" stroke="#000" stroke-width="2.0" stroke-linecap="round"/>
<line x1="1500.8" y1="2365.2" x2="1511.3" y2="2368.4" stroke="#000" stroke-width="2.0" stroke-linecap="round"/>
<line x1="1554.2" y1="2337.1" x2="1564.6" y2="2340.2" stroke="#000" stroke-width="2.0" stroke-linecap="round"/>
<line x1="1604.5" y1="2310.7" x2="1614.7" y2="2313.6" stroke="#000" stroke-width="2.0" stroke-linecap="round"/>
<line x1="1351.6" y1="2443.6" x2="1357.0" y2="2445.5" stroke="#000" stroke-width="2.0" stroke-linecap="round"/>
<line x1="1414.2" y1="2410.7" x2="1419.5" y2="2412.5" stroke="#000" stroke-width="2.0" stroke-linecap="round"/>
<line x1="1472.8" y1="2379.9" x2="1478.1" y2="2381.5" stroke="#000" stroke-width="2.0" stroke-linecap="round"/>
<line x1="1527.9" y1="2350.9" x2="1533.1" y2="2352.5" stroke="#000" stroke-width="2.0" stroke-linecap="round"/>
<line x1="1579.7" y1="2323.7" x2="1584.9" y2="2325.2" stroke="#000" stroke-width="2.0" stroke-linecap="round"/>
<line x1="1628.5" y1="2298.1" x2="1633.6" y2="2299.5" stroke="#000" stroke-width="2.0" stroke-linecap="round"/>
<text transform="matrix(0.22429,-0.08506,0.19648,0.07250,919.94,2326.99)" font-size="100" text-anchor="end" dy="0.0" stroke="#000" stroke-width="2.2" style="font-family:'Liberation Serif','Times New Roman',serif;font-weight:bold">0</text>
<text transform="matrix(0.22380,-0.08992,0.20760,0.07661,988.82,2352.41)" font-size="100" text-anchor="end" dy="0.0" stroke="#000" stroke-width="2.2" style="font-family:'Liberation Serif','Times New Roman',serif;font-weight:bold">400</text>
<text transform="matrix(0.22288,-0.09522,0.21970,0.08107,1061.66,2379.29)" font-size="100" text-anchor="end" dy="0.0" stroke="#000" stroke-width="2.2" style="font-family:'Liberation Serif','Times New Roman',serif;font-weight:bold">800</text>
<text transform="matrix(0.22146,-0.10099,0.23289,0.08594,1138.82,2407.76)" font-size="100" text-anchor="end" dy="0.0" stroke="#000" stroke-width="2.2" style="font-family:'Liberation Serif','Times New Roman',serif;font-weight:bold">1200</text>
<text transform="matrix(0.21946,-0.10730,0.24730,0.09126,1220.67,2437.97)" font-size="100" text-anchor="end" dy="0.0" stroke="#000" stroke-width="2.2" style="font-family:'Liberation Serif','Times New Roman',serif;font-weight:bold">1600</text>
<text transform="matrix(0.21676,-0.11421,0.26309,0.09709,1307.67,2470.07)" font-size="100" text-anchor="end" dy="0.0" stroke="#000" stroke-width="2.2" style="font-family:'Liberation Serif','Times New Roman',serif;font-weight:bold">2000</text>
<text transform="matrix(0.26524,0.09724,-0.21460,0.11440,1328.73,2470.95)" font-size="100" text-anchor="start" dy="0.0" stroke="#000" stroke-width="2.2" style="font-family:'Liberation Serif','Times New Roman',serif;font-weight:bold">120</text>
<text transform="matrix(0.26216,0.09090,-0.20048,0.10687,1393.75,2436.29)" font-size="100" text-anchor="start" dy="0.0" stroke="#000" stroke-width="2.2" style="font-family:'Liberation Serif','Times New Roman',serif;font-weight:bold">140</text>
<text transform="matrix(0.25892,0.08516,-0.18771,0.10006,1454.57,2403.87)" font-size="100" text-anchor="start" dy="0.0" stroke="#000" stroke-width="2.2" style="font-family:'Liberation Serif','Times New Roman',serif;font-weight:bold">160</text>
<text transform="matrix(0.25556,0.07995,-0.17612,0.09389,1511.56,2373.49)" font-size="100" text-anchor="start" dy="0.0" stroke="#000" stroke-width="2.2" style="font-family:'Liberation Serif','Times New Roman',serif;font-weight:bold">180</text>
<text transform="matrix(0.25213,0.07521,-0.16557,0.08826,1565.09,2344.95)" font-size="100" text-anchor="start" dy="0.0" stroke="#000" stroke-width="2.2" style="font-family:'Liberation Serif','Times New Roman',serif;font-weight:bold">200</text>
<text transform="matrix(0.24865,0.07088,-0.15595,0.08313,1615.47,2318.10)" font-size="100" text-anchor="start" dy="0.0" stroke="#000" stroke-width="2.2" style="font-family:'Liberation Serif','Times New Roman',serif;font-weight:bold">220</text>
<text transform="matrix(0.26385,0.10340,-0.27409,0.12155,1033.30,2427.84)" font-size="100" text-anchor="middle" dy="0.0" stroke="#000" stroke-width="2.2" style="font-family:'Liberation Serif','Times New Roman',serif;font-weight:bold">Number of prediction samples</text>
<text transform="matrix(0.20235,-0.11504,0.30994,0.09791,1571.53,2401.78)" font-size="100" text-anchor="middle" dy="0.0" stroke="#000" stroke-width="2.2" style="font-family:'Liberation Serif','Times New Roman',serif;font-weight:bold">X Ionic radius (R<tspan font-size="68" dy="22">IX</tspan><tspan dy="-22">)</tspan></text>
<circle cx="986.8" cy="1954.2" r="7.6" fill="url(#gGr)"/><circle cx="986.8" cy="1996.1" r="7.6" fill="url(#gBl)"/><text x="1034.2" y="1965.7" font-size="32.9" style="font-family:'Liberation Serif','Times New Roman',serif;font-weight:bold">1 (c/a &gt; 1.2)</text><text x="1034.2" y="2006.5" font-size="32.9" style="font-family:'Liberation Serif','Times New Roman',serif;font-weight:bold">0 (c/a &lt; 1.2)</text>
<text x="870.6" y="1750.2" font-size="48" style="font-family:'Liberation Serif','Times New Roman',serif;font-weight:bold">(e)</text>
</svg></body></html>
